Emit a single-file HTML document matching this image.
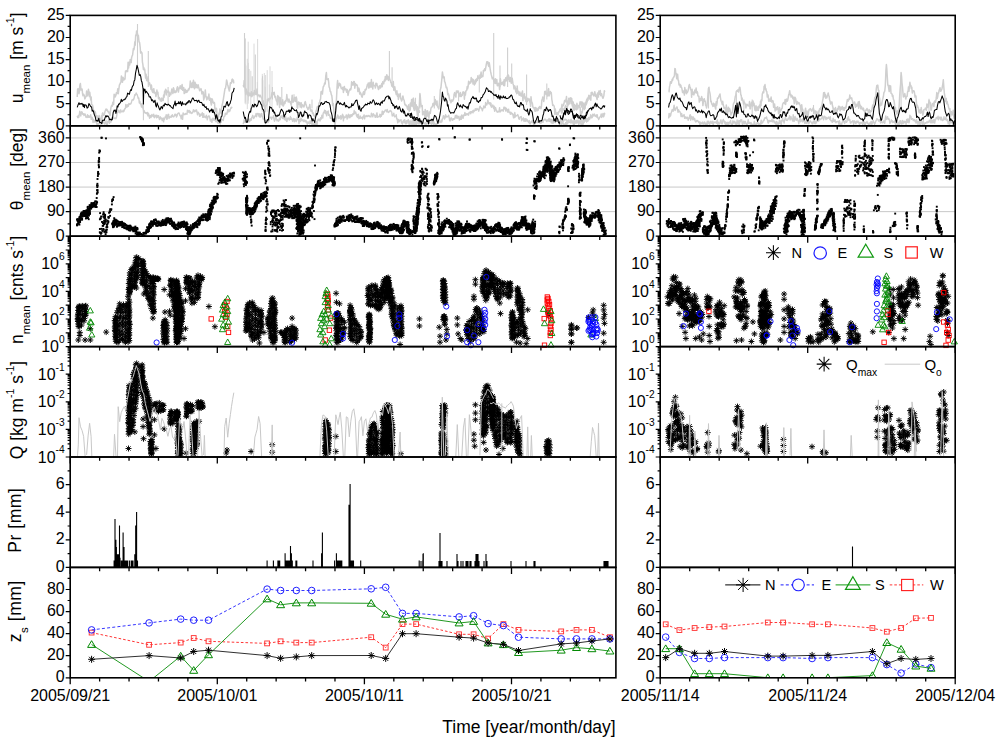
<!DOCTYPE html><html><head><meta charset="utf-8"><style>html,body{margin:0;padding:0;background:#fff;}svg{display:block;}</style></head><body><svg width="1000" height="743" viewBox="0 0 1000 743" style="font-family:'Liberation Sans', sans-serif;">
<rect width="1000" height="743" fill="#fff"/>
<defs><marker id="mA" markerUnits="userSpaceOnUse" markerWidth="10" markerHeight="10" refX="5" refY="5" overflow="visible"><path d="M2 5H8M5 2V8M2.9 2.9L7.1 7.1M2.9 7.1L7.1 2.9" stroke="#000" stroke-width="0.95" fill="none"/></marker><marker id="mS" markerUnits="userSpaceOnUse" markerWidth="10" markerHeight="10" refX="5" refY="5" overflow="visible"><rect x="2.8" y="2.8" width="4.4" height="4.4" stroke="#f00" stroke-width="0.9" fill="none"/></marker><marker id="mT" markerUnits="userSpaceOnUse" markerWidth="10" markerHeight="10" refX="5" refY="5" overflow="visible"><path d="M5 1.8L8.1 7.3H1.9Z" stroke="#080" stroke-width="0.9" fill="none"/></marker><marker id="mC" markerUnits="userSpaceOnUse" markerWidth="10" markerHeight="10" refX="5" refY="5" overflow="visible"><circle cx="5" cy="5" r="2.6" stroke="#00f" stroke-width="0.9" fill="none"/></marker><marker id="mA6" markerUnits="userSpaceOnUse" markerWidth="10" markerHeight="10" refX="5" refY="5" overflow="visible"><path d="M1.5 5H8.5M5 1.5V8.5M2.5 2.5L7.5 7.5M2.5 7.5L7.5 2.5" stroke="#000" stroke-width="1" fill="none"/></marker><marker id="mC6" markerUnits="userSpaceOnUse" markerWidth="10" markerHeight="10" refX="5" refY="5" overflow="visible"><circle cx="5" cy="5" r="3.3" stroke="#2020ff" stroke-width="1" fill="none"/></marker><marker id="mT6" markerUnits="userSpaceOnUse" markerWidth="10" markerHeight="10" refX="5" refY="5" overflow="visible"><path d="M5 1.2L9 7.9H1Z" stroke="#080" stroke-width="1" fill="none"/></marker><marker id="mS6" markerUnits="userSpaceOnUse" markerWidth="10" markerHeight="10" refX="5" refY="5" overflow="visible"><rect x="2.6" y="2.6" width="4.8" height="4.8" stroke="#ff3535" stroke-width="0.95" fill="none"/></marker><marker id="mD" markerUnits="userSpaceOnUse" markerWidth="4" markerHeight="4" refX="2" refY="2" overflow="visible"><rect x="1.05" y="1.05" width="1.9" height="1.9" fill="#000"/></marker></defs>
<line x1="70.20" y1="211.64" x2="615.90" y2="211.64" stroke="#c8c8c8" stroke-width="1"/>
<line x1="70.20" y1="187.07" x2="615.90" y2="187.07" stroke="#c8c8c8" stroke-width="1"/>
<line x1="70.20" y1="162.51" x2="615.90" y2="162.51" stroke="#c8c8c8" stroke-width="1"/>
<line x1="70.20" y1="137.95" x2="615.90" y2="137.95" stroke="#c8c8c8" stroke-width="1"/>
<line x1="660.20" y1="211.64" x2="955.20" y2="211.64" stroke="#c8c8c8" stroke-width="1"/>
<line x1="660.20" y1="187.07" x2="955.20" y2="187.07" stroke="#c8c8c8" stroke-width="1"/>
<line x1="660.20" y1="162.51" x2="955.20" y2="162.51" stroke="#c8c8c8" stroke-width="1"/>
<line x1="660.20" y1="137.95" x2="955.20" y2="137.95" stroke="#c8c8c8" stroke-width="1"/>
<path d="M254.0 43.6V107.8M245.9 65.5V104.4M245.4 63.9V100.4M257.6 39.0V101.1M257.3 82.1V101.5M250.8 70.8V111.4M262.3 73.9V111.7M245.0 83.9V103.5M248.2 41.7V103.7M270.0 66.3V107.0M264.3 73.0V106.6M245.5 38.4V102.5M265.6 75.0V103.8M262.5 75.9V103.6M269.3 84.5V102.9M262.2 78.4V110.5M267.2 70.1V111.8M247.3 58.8V109.1M248.4 62.9V100.5M265.2 86.8V106.9M272.0 71.0V108.3M262.8 80.3V105.5" stroke="#d6d6d6" stroke-width="0.9" fill="none"/>
<path d="M77.2 97.0l.4-7.7 .5-.7 .5 2.9 .4 2.2 .4-2.3 .5-6.5 .5-1.4 .6 6.6 .5-.8 .6-.3 .5 5.1 .4 1.6 .5-1.4 .4 .5 .5 1 .4 3.2 .5-1.1 .5-1.1 .4-.6 .4-5.2 .5 4.9 .5-.5 .4-1.5 .4-4.7 .5 3 .5 4.4 .4-4.3 .4 3.6 .5 4 .5-2.8 .4 7.4 .5 .4 .4 0 .5 2.6 .4 2.6 .5 .3 .5 3.3 .5-2.3 .6 1.3 .5 4.4 .5-.4 .5-1 .5 3.9 .5 2 .5-3.7 .6-2.3 .5 2.5 .5 .6 .5 0 .4 2.7 .5-5.6 .5 3.4 .4-5.8 .4-.6 .5 2.3 .5 .4 .6-1.4 .5-2.3 .6-1.6 .5-1.2 .5 1.4 .5-1 .5 1.3 .6 1.3 .5-.6 .5 2 .5 .3 .4 1.7 .5-4.5 .5-3.5 .4-1.5 .4-.6 .5 .8 .5-3.8 .4-.1 .4 2.2 .5-10.2 .5 .6 .4 2.2 .4-.4 .5-1.3 .5-2.6 .4 1 .5-1.8 .5-3.1 .5 4.9 .6-4.9 .5-3.8 .5-.7 .5-1.4 .5-.5 .5-6.5 .5 3.2 .6 3.1 .5-4.9 .5 1 .5 1.7 .5-1.1 .5 .1 .5-8 .6 .6 .5-1 .5 .9 .5 .1 .5-9.3 .5 5.7 .5-5.8 .6 2.7 .5-5.4 .5 1.7 .5 1.4 .4-4.8 .5-1.9 .5-.9 .4-3.4 .4-3 .5 1.2 .5-2.8 .4-5.2 .4 3.4 .5-10.2 .5 .6 .4-4.7 .6 1.7 .6 2.6 .6 .3 .6 6.2 .6 .8 .6 4.8 .4 5.8 .5-1.4 .5 .8 .4 .3 .4 9 .5 2.9 .5 4.6 .4-1.8 .4 2.6 .5-.9 .5 5.1 .4 3.8 .5-3.8 .5 5.9 .5 .7 .6-1.3 .5-3.1 .5 8 .5-.9 .4-.8 .5 2.6 .5 1 .4 3.1 .4-4.4 .5 4.6 .5 2 .4 .8 .5-2.8 .5-1 .5 4.4 .6-.7 .5 .6 .5 3.6 .5-2.5 .5-4.1 .5 4.1 .5-1.9 .6 6.2 .5 .5 .5-1.3 .5 1.8 .4 1.5 .5-1.8 .5 2.1 .4-3.1 .4 1.6 .5 .8 .5 0 .4-5.4 .5 2.2 .5-6.1 .5 .3 .6-2.3 .5 5.8 .5-4.5 .5 1.5 .4-.1 .5 .4 .5-1.2 .4 1.6 .4 3.6 .5-3.2 .5 .6 .4 1.1 .5-2.7 .5-3 .5 .9 .6 3.5 .5-5.7 .5 1.3 .5 3.4 .5 .1 .5-1.7 .5 1.5 .6-1.2 .5-3.1 .5-1.3 .5 1.8 .4 3.5 .5-2.9 .5-1.4 .4-.1 .4-1.9 .5 2.7 .5-2.2 .4 2.9 .5-4.7 .5 5.8 .5-.6 .6-2.2 .5 6.1 .5-.6 .5-3.7 .4 1.4 .5 1.9 .5-2.1 .4 1.7 .4-.6 .5-1.1 .5-1.6 .4 1.1 .5-1.6 .5-1.2 .5-6.1 .6 5.1 .5 1.3 .5-3.8 .5-1.3 .5 5.1 .5-7.3 .5 3.7 .6 4.9 .5-6.6 .5 2.5 .5 3 .5-3.1 .5 1.6 .5 1.7 .6-3.1 .5 2 .5 1.8 .5 2.1 .4-1 .5 .1 .5-1.2 .4 1.8 .5 3.5 .4-.6 .5-1.6 .4 .4 .5 7.8 .5-1.9 .5-1.1 .6-7 .5 6.1 .5 .9 .5 2.9 .5-1.8 .5-.9 .5 1.6 .6-4.7 .5 6.2 .5-.2 .5-1.8 .5 4.6 .5 2.2 .5-6.3 .6 1.1 .5 2.7 .5 .6 .5-.7 .5 .4 .5 8.3 .5 .4 .6-3.3 .5 .8 .5 8.2 .5 1.2 .4 1.3 .5-2.4 .5-4.4 .4 1.4 .4-5.4 .5 1.9 .5 1.4 .4 1.1 .5-6.1 .6-2.7 .5-2.2 .6-3.5 .5-3.1 .5-3.3 .6-3.8 .5-.3 .6-3.8 .5-4.6 .4 1.6 .5 2.9 .5 1.4 .4 2.1 .4 1.2 .5 1.9 .5-3.2 .6-5 .5 .7 .6-.6 .5-3.6 .4-.2 .5 2.5 .5-1.5 .4 3.3" fill="none" stroke="#cfcfcf" stroke-width="1.5" stroke-linejoin="round" />
<path d="M77.2 115.7l.5 1.8 .5-1.7 .5 1.7 .6-3 .5-3.3 .5 1.3 .5 3.5 .4-2.4 .5-1.9 .5 .5 .4 1.9 .4 .2 .5-.6 .5 1.8 .4-1 .5-.7 .5 1.2 .5 2.2 .6-.2 .5 .5 .5-2.7 .5 1.5 .4 1.1 .5-1.6 .5 1.5 .4-.7 .4 .1 .5-1.9 .5 4.6 .4-.6 .5-1.6 .4 .8 .5 4.5 .4-3 .5 1.7 .5 .9 .5-.9 .6-1.4 .5 2.2 .5 1 .5 1.8 .4-.4 .5-1.2 .5 1.1 .4-.3 .4-.5 .5-.3 .5-.5 .4 1.3 .4-2.4 .5 .3 .5 .9 .4-2 .4 1.2 .5-2.1 .5 1.6 .4 2.1 .4 .3 .5-.8 .5-.4 .4-1.9 .4 4.4 .5-1.4 .5 .5 .4-2.9 .4 .4 .5-2.5 .5 3.4 .4 .6 .4-4.2 .5 1.9 .5 1.2 .4-3.5 .5-1.1 .5 .5 .5 .3 .6-1.5 .5 1.4 .5 .1 .5 .2 .5-.6 .5 .5 .5-1.1 .6-4.5 .5-.2 .5-1.4 .5-1 .4 1.5 .5 .3 .5 .8 .4-2.9 .4 0 .5 1.8 .5 .1 .4-.2 .4-.1 .5-1.5 .5 1.6 .4-.6 .4-1.2 .5-1.4 .5 .1 .4-4.1 .5 1.5 .5 1.3 .5-2.5 .6 1.7 .5-.3 .5-2.7 .5 .8 .5-.6 .5 .4 .5-.4 .6-1.7 .5-2.1 .5 .1 .5-.6 .4 .6 .5-1.2 .5-2.2 .4-1.9 .4 .6 .5-1 .5-1.3 .4 .8 .5 .7 .6 1.9 .5 1.8 .6-.2 .5 5 .5-1.9 .6 3 .5 .2 .6 2.8 .5-3.6 .4 2.3 .5 2.3 .5 1.4 .4 3.3 .4-2 .5 1.7 .5-.1 .4 .8 .4 0 .5-.5 .5 1.4 .4-1.6 .5 3.3 .5-2.6 .5 1.7 .6 3.3 .5-2.8 .5 .2 .5 1.9 .4-1.5 .5-1.6 .5 1.3 .4 .5 .4 .2 .5-2.2 .5 3.3 .4 .2 .5-2.1 .5 .3 .5-.8 .5 2.8 .5-2.5 .4 1.9 .5-1.3 .5-.3 .5 2.3 .5 1.5 .5-1.6 .4-1.1 .5 2.1 .5-.9 .4 .5 .4 2 .5-.2 .5-2.4 .4 3.9 .5-3.1 .5 .5 .5-2.2 .6 .3 .5-2.7 .5 4.6 .5-.1 .4-3.7 .5-.9 .5-.2 .4 4.2 .4-1.7 .5 .4 .5-.2 .4 .3 .5-1.6 .5 1.2 .5-2.2 .6 1.4 .5 .6 .5 .1 .5-1.2 .5-1.4 .5 1.1 .5-1 .6 2.7 .5-1 .5-1.7 .5-1 .4-.2 .5-.2 .5 1 .4 1.3 .4 .7 .5 .4 .5 2.5 .4-3.6 .5 .3 .5 3.9 .5-6.5 .6 .8 .5 .9 .5-.1 .5 .1 .4-1.1 .5 .6 .5-.6 .4 .8 .4-4.1 .5 .7 .5 1.3 .4-1.6 .5-.2 .5 2.5 .5-1.6 .6 1.7 .5 .4 .5-.6 .5 .2 .5-1.1 .5-2.3 .5 1.5 .6 .7 .5-1.6 .5 .2 .5 1.1 .5-1.7 .5 2.4 .5 2.6 .6-2.7 .5 1 .5 .2 .5 3 .4-1.3 .5 .9 .5-2 .4 .9 .5 .3 .4-2.4 .5 4.6 .4 .1 .5-3.7 .5 3.4 .5-.6 .6 1 .5 .2 .5-2.5 .5 1.8 .5 2.8 .5-2.5 .5-.9 .6-.5 .5 .2 .5 2.4 .5 2.5 .5-1.4 .5-.3 .5 3 .6-3.5 .5-.7 .5 1.8 .5 .4 .5-1.8 .5 0 .5 2.6 .6 .7 .5-1.7 .5 1.8 .5 .2 .4 1.2 .5-.8 .5-.3 .4-.6 .4 1.8 .5 .5 .5-2.7 .4 1.2 .5-2.9 .5 .1 .5 .4 .6 .5 .5-3.4 .5-.7 .5-.3 .5-3 .5 1.4 .5-1.3 .6 .9 .5-2.5 .5-2.1 .5 2.3 .5 0 .5-1.9 .5 1.2 .6-2.2 .5-1.5 .5 .7 .5-1.3" fill="none" stroke="#cfcfcf" stroke-width="1.4" stroke-linejoin="round" />
<path d="M137.5 24.0V69.0M148.3 51.0V87.0M168.1 87.0V105.0M143.4 90.6V120.3" stroke="#cfcfcf" stroke-width="1.1" fill="none"/>
<path d="M77.2 107.4l.9-2.6 .9-2.1 .7 1.7 .7-.8 .8 .6 .7-1 .7 1.1 .6 2.2 .6-2.3 .6 3.4 .6-2.8 .6 .1 .6 .3 .9 3 .9-.8 .9-3.8 .9 1.3 .9 1.6 .9 .5 .6 4.3 .6-1 .6 .9 .9 3.4 .9 2.1 .9 4.3 .9-.7 .9 1 .9-3.1 .9 4.4 .9-.2 .6 .5 .6 .9 .6-3.5 .9-.1 .9 .3 .9-2.9 .9-2.1 .6 1.4 .6-.6 .6-.4 .9 1.1 .9 2.7 .7 0 .7-.6 .6 1 .7-.6 .9-7 .9-2.4 .6 .8 .6-.9 .6 3.4 .7-2.6 .6-4.9 .7 1.1 .7-2.9 .7 .1 .7-1.2 .6-1.1 .7-2.6 .7 2.3 .6-.9 .7-1 .7 .3 .7-.9 .7 0 .8-1.9 .7-.6 .7-3.5 .6 .3 .6 .7 .6 .2 .7-3.2 .7-1.5 .6 .8 .7-3.2 .7-1.4 .6-.7 .7-4 .7-1.2 .7-6.5 .7-3.6 .8-4.5 .7 2 .7 3.2 .9 4.9 .9-.8 .6 2.1 .6 4.2 .6 1.2 1.1 7 .3 14.9 .4-15.3 .6 2 .6-1.4 .6 3.6 .7-1.7 .7 1.1 .8 1.1 .7 1 .7 2.5 .6 .1 .6-.2 .6 1.6 .6 2.3 .6-1 .6 .6 .7 1.9 .7-.2 .8-1.7 .7 5.1 .7 1.6 .7-4.2 .7 2.1 .8 1.9 .7 2.1 .7 1 .6-1.6 .6-1.7 .6 .8 .6 1.3 .6-2.7 .6-.9 .7 .8 .7-2.6 .8 1.2 .7-.1 .7 .9 .6-.8 .6-.3 .6 .7 .6 .9 .6-.3 .6 1 .7 .9 .7 .5 .8 .7 .7-3.4 .7-.8 .7-3.3 .7 4.7 .8-2.4 .7 0 .7 .4 .6-2.1 .6 1.9 .6 .1 .6-2.3 .6 2.2 .6 2 .7-3.7 .7 2.3 .8-.2 .7 .1 .7-.1 .6 .9 .6-2 .6 .7 .6-1.8 .6 .8 .6-2 .7 .1 .7 2.2 .8-1.3 .7-1.5 .7-2 .7 0 .7 1.3 .8 1.4 .7-.3 .7 .1 .7-.4 .7 2 .8-1.5 .7-.4 .7 2.1 .6 0 .6-.1 .6 .1 .6 .8 .6 1.9 .6 .6 .7-1.4 .7 2.3 .8 .8 .7-.8 .7 2.7 .7-.5 .7 0 .8 1.8 .7 1.5 .7-2 .7 .6 .7-1.8 .6 3.6 .7-2.8 .7 3 .6-.4 .7 2.9 .7 3.9 .7-4.4 .7 2.5 .6 2.9 .7 1.1 .7-1.6 .6 2.9 .7-2.4 .7-3.5 .7-.5 .7-5.6 .6 .1 .7-4.3 .7-.1 .6 .9 .7-1.7 .7-3 .7-.8 .7 3.7 .6 .7 .7-1.7 .7-.6 .6-2.3 .7-2 .7-6.1 .7-1.2 .7-.7 .8-3.5" fill="none" stroke="#000" stroke-width="1.05" stroke-linejoin="round" />
<path d="M243.2 85.0l.5 1.7 .5-6.1 .5 5.8 .5 2.5 .5 5.8 .5-5.8 .5 1.5 .5 1.9 .4 2.5 .5-2.2 .5 3.5 .4-3.3 .4 2.2 .5-1 .5 1.7 .4-1.2 .5-2.7 .5 5 .5-1.4 .6-2.5 .5 .8 .5 1.4 .5-4.5 .5 1.5 .5 1.9 .5 .5 .6-1.6 .5-3.9 .5 6.9 .5-.7 .4-.1 .5-.1 .5 1.7 .4-.7 .4-.8 .5 1.1 .5 1 .4 .7 .5 .1 .5 5 .5-2.3 .6 5 .5-1.8 .5 3.8 .5 3.9 .4-3.3 .5-3.5 .5 .2 .4-.7 .4-5.2 .5 .8 .5 .8 .4-2.2 .5 0 .5 .5 .5-.7 .6-.7 .5-1.6 .5-3.1 .5-.7 .4 .4 .5 .7 .5 1.2 .4-2.4 .4 3.4 .5 2 .5-1.1 .4 2.7 .4 1.7 .5-1 .5 4.9 .4-9.3 .4 4 .5-2.7 .5 5.9 .4 4.7 .5-10 .5 4.6 .5 2 .6-1 .5 2.1 .5-5.3 .5 6.3 .4-.8 .5-1.5 .5-2.1 .4 1.8 .4-2.8 .5 .6 .5-2.1 .4-4.6 .5 4.4 .5 1.4 .5 1.7 .6-3.1 .5 1.6 .5 1.8 .5-.5 .4 1.8 .5 1.5 .5-6.4 .4-3.6 .4 5.2 .5 1.8 .5-1.4 .4-.8 .4-2.5 .5-.1 .5 4.1 .4-2.7 .4-1.8 .5 2 .5 8.5 .4 .6 .5-5.4 .5-.7 .5 2.2 .6-1.6 .5 4.5 .5-2.1 .5-2.3 .4 5 .5-3.1 .5 1.4 .4-.1 .4-.5 .5 1.6 .5-1.8 .4-2.6 .5-1 .5 2.1 .5 1.7 .6 2.1 .5 .6 .5 1.5 .5-.6 .4-1.8 .5 .1 .5-2.9 .4 4 .4 2.2 .5 .6 .5-1.1 .4-.1 .5 3.5 .6-.6 .5 2.4 .6 .9 .5 .3 .5 .8 .6-5.2 .5-1.5 .6-2.5 .5-1.5 .4 3.3 .5-.6 .5-5.4 .4-1.2 .4-.3 .5-2.4 .5-1.1 .4-7 .4-.6 .5 1.4 .5 1.4 .4-3.7 .4-3.6 .5-.4 .5-1.7 .4-1.6 .6 .8 .6-8 .6-3.4 .4 6.6 .5 .4 .5-.3 .4-.5 .5 3.6 .4 4.7 .5 .8 .6 3.7 .5 .1 .6 3.1 .5 1 .5 4.5 .4 5.4 .5-2.2 .5 5.4 .4 4.4 .5 1.7 .4 3.7 .6-6.6 .5-6 .6-11.5 .5-10.1 .4-3.8 .5 7.4 .5-2.5 .4-.3 .4-2 .5 2.4 .5-1.5 .4 2.7 .5 1.7 .5-.3 .5 1 .6-1.9 .5 5.1 .5-3.3 .5-2.6 .4 3.3 .5-.6 .5-.4 .4 1.6 .4 1.8 .5-2.8 .5 2.1 .4 3.9 .4-1.7 .5-2.7 .5-.4 .4-1.1 .4-.6 .5 1 .5-2.2 .4-5.9 .5 3.3 .6-2.3 .5 2.1 .6-3.4 .5 .2 .5 6.5 .6-4.6 .5 .7 .6 1 .5-.4 .4 1.2 .5 5.5 .5-1 .4-2.5 .4 .9 .5 5.1 .5-1.9 .4 1 .5 1 .5 2 .5 1.1 .6-2.2 .5-2.7 .5-.8 .5 3 .4-.7 .5-4.3 .5 .6 .4-.6 .4-1 .5-1.8 .5-2.4 .4 1 .5-2.5 .5 5.2 .5-1.2 .6-4.4 .5 4.6 .5-.8 .5-6.7 .4 7.5 .5-1 .5 2.8 .4-6.6 .4 3.1 .5 .4 .5-.2 .4 .1 .4 2.3 .5-4.8 .5 .2 .4 .1 .4 2.2 .5 .6 .5 2.6 .4 .6 .4-1.2 .5-2.3 .5-.4 .4 2.4 .4-.6 .5-2.1 .5-1.8 .4 3.2 .5-4.9 .5 1.3 .5 .7 .6-3.7 .5 1.2 .5-4.7 .5 3.3 .5-1.2 .5-4 .5 4.3 .6-2.8 .5 4.3 .5-3.6 .5 .6 .4 2.4 .5 .2 .5 2.4 .4-.2 .5 3.4 .5 0 .5 1.3 .6-5.4 .5 8.6 .5-.3 .5-3.1 .5 3.9 .5 1.9 .5 2 .6-3.9 .5 5.5 .5-2.4 .5 5.6 .4-4.3 .5 1.5 .5-1.6 .4-1.5 .4 5 .5 .7 .5 1.8 .4-.8 .4-2.4 .5-1.9 .5 2.6 .4 1.1 .4 .7 .5 3.9 .5 .8 .4-.5 .4 1.3 .5-.2 .5 1.2 .4 1.7 .4 1.1 .5-3 .5-1.9 .4 6.5 .5-2.5 .5 1.4 .5-6.2 .6 1.4 .5 .6 .5-3.5 .5 1 .5 3.5 .5 1.7 .5 1.8 .6-4.6 .5-1.5 .5 4.4 .5 2 .4-.9 .5-3 .5 4.4 .4 1.1 .4 0 .5-1.8 .5 1.8 .4-.1" fill="none" stroke="#cfcfcf" stroke-width="1.5" stroke-linejoin="round" />
<path d="M243.2 124.2l.5-2.2 .5-2.5 .5 2.5 .4 .4 .5-1 .5 .9 .4-2.3 .5 .1 .5-.6 .5 .9 .4 1.4 .5-2.9 .5 2.8 .5-.7 .4-1.5 .5-.8 .5 1.5 .5-2.8 .4-.5 .5-1.6 .5 1.9 .5 1.4 .5-1.2 .4-.4 .5-1.2 .5 .2 .5-2.5 .5 3.2 .4-1.9 .5-1.4 .5 .1 .4 .1 .5 2.6 .5 .8 .4-3.4 .4 3 .5 .5 .5-2 .4-1.6 .5 1.9 .5 1.3 .5 2.5 .6 .2 .5-1.5 .5 4 .5-1.2 .4 2.9 .5-3 .5 0 .4-.6 .4 .1 .5 2.4 .5-.6 .4-.8 .4-.8 .5-3.2 .5 .7 .4-.3 .5-.5 .5 2.2 .5-1.5 .5-.1 .5-.4 .4-1.5 .5 3.8 .5 1.7 .5-1.4 .5-1.8 .5-2.8 .5 3.7 .5 2 .4-1.2 .5 .7 .5 .8 .5-.5 .5-2.5 .4 1.7 .5-.2 .5-3.6 .5 1.1 .5-1.5 .4 1.6 .5 1.2 .5-2.4 .5-1.7 .5 4.8 .4-.6 .5 1.5 .5-3.8 .5 3 .5 2 .4 .2 .5-3.2 .5 .3 .5-.5 .5 1.7 .4 .3 .5-1.3 .5-2.3 .4 2.9 .5-1.4 .5 1.5 .4-.3 .4 2.1 .5-.4 .5-2.4 .4 .9 .4 2.3 .5-3 .5 1 .4 1.3 .4 .4 .5-1 .5-2.9 .4-.2 .5 2.3 .5 .6 .4 3.4 .5-4.4 .5 2.4 .5-.1 .5-3.5 .4 .8 .5 1.7 .5-.6 .5 .5 .5 1.1 .4-1.6 .5 1.7 .5-1.3 .5 .1 .5 1.7 .4-1.3 .5 1.2 .5 2.2 .5-1.9 .5-.4 .4 1.3 .5-1.3 .5 2 .5-3.1 .5 2.5 .4-1.2 .5-.5 .5 3.6 .5-3.1 .6 3.1 .5-.9 .6 .9 .5-3.3 .5 2.4 .4 .4 .4-2.6 .5-.7 .5 3.4 .4-3.2 .4-1.6 .5-.9 .5 1.2 .4-.3 .4-.8 .5 1.8 .5-3.3 .4 .3 .4 1 .5-3.9 .5 2 .4 1 .4-5 .5-.8 .5-.5 .4-1.7 .5 3.3 .5-2.8 .5 3.2 .6 2 .5-4.1 .5 1.4 .5-2.1 .4 4.4 .5-1 .5 1.1 .4 1.2 .4 1.5 .5-.5 .5 1 .4-.1 .5 1.6 .6-1.1 .5 2.3 .6-2 .5 2.4 .5 2.8 .6-3.2 .5-3.4 .6 .8 .5-2.6 .5-1.3 .5 1.2 .4 2.4 .5-.2 .5-.7 .5-1.4 .5-.4 .4 3.5 .5-1.1 .5-1.9 .5-2 .5 .8 .4 5.8 .5-4.5 .5 .9 .4 .5 .5-.6 .5-.4 .4-1.8 .4 .2 .5 3.9 .5-3.1 .4 1.8 .4-3.6 .5 1.5 .5 .9 .4 1.2 .4-3.1 .5 2 .5-.1 .4-1.8 .5 1.3 .5-2.1 .5-.3 .6 .8 .5-4 .5 3 .5-1.1 .4-.5 .5 1.8 .5 2.3 .4-1.1 .4 2.6 .5-2.9 .5-.4 .4 4.5 .5-1.1 .5 .8 .4-2.5 .5 2.1 .5-.5 .5 .6 .5-.8 .4 1.7 .5-2.4 .5-.8 .5-.9 .5 3.9 .4-2.2 .5-.7 .5 .1 .4 .6 .5-1.2 .5 1.1 .4-.4 .4 0 .5-.7 .5 1.2 .4-.6 .4 .7 .5 .2 .5 0 .4-3.8 .4 1.8 .5-.2 .5 2.2 .4-3.3 .5 .8 .5 .8 .4 0 .5 2 .5-1.8 .5 1.8 .5-3.4 .4-1 .5 4.4 .5-.5 .5 0 .5-.6 .4 .5 .5-2.5 .5 2.9 .4-2.3 .5 1.6 .5-1.5 .4-3.7 .4 .1 .5 3.2 .5-1.8 .4-1 .4 .4 .5-1.3 .5-.7 .4 .4 .4-.2 .5 1.6 .5-2.3 .4 1.9 .4 .8 .5 .3 .5-.5 .4-1.1 .4 .2 .5 0 .5-.5 .4 1.3 .5 .1 .5 4 .5-.4 .6-.8 .5-1.7 .5 3.2 .5 .6 .5-.8 .5 0 .4-1.4 .5 4.2 .5-.2 .5 4.2 .5-3.1 .4-.4 .5 2.5 .5-1.4 .5 .1 .5-.6 .4-.3 .5 3.3 .5 0 .4 1.1 .5-2.9 .5 .2 .4-1.3 .4 2.6 .5-3.1 .5 2.5 .4 1.2 .4 .7 .5-3.4 .5 2.6 .4-2.3 .4-.4 .5-.8 .5 3.6 .4 1.3 .4-3.1 .5-.7 .5 .6 .4 3.8 .4-1 .5-2.5 .5-2.2 .4 1.4 .4 3 .5 1.3 .5-2.7 .4-1.1 .4 .2 .5-2 .5 3.9 .4-2.3 .4 2.8 .5-3.6 .5 .1 .4 2.4 .4-1.2 .5 2.2 .5-.8 .4-.1" fill="none" stroke="#cfcfcf" stroke-width="1.4" stroke-linejoin="round" />
<path d="M244.5 33.0V87.0M249.0 69.0V96.0M252.2 76.2V96.0M255.3 54.6V94.2M262.5 76.2V101.4M272.4 87.0V99.6M281.8 87.0V103.2M294.0 94.2V101.4M312.0 99.6V108.6M389.4 51.0V79.8M392.1 67.2V87.0M415.5 97.8V108.6M412.8 99.6V106.8" stroke="#cfcfcf" stroke-width="1.1" fill="none"/>
<path d="M243.2 111.5l.8 4.1 .7 2.9 .7-1.3 .9 4.9 .9 .3 .7-2.1 .7-5.7 .6-1.7 .7-1.6 .7 .9 .6-3.9 .7-1.1 .7-2.7 .7 1.5 .7 .9 .6-2.8 .7 .3 .7 1 .7 1.3 .8-1.4 .7-2.2 .7-2.4 .7 .6 .6 .9 .7 1.9 .7 .8 .9 4.1 .9 .6 .6 2.1 .6 7 .6 4.3 .6-.2 .6-.6 .6-1 .7-1.7 .7 .5 .7-6.9 .6-6.5 .6 1.1 .6-.1 .6 .1 .6 1.4 .6 2.3 .6-1.5 .7 3 .6-.8 .7 3 .7 1.1 .7-.4 .7 .5 .6-1.4 .7 .7 .7-.8 .6-1.9 .7-2.2 .7-1.5 .7 .8 .7 1.2 .6 1 .7 4.8 .7-2.1 .7-.6 .6-2.5 .7-.7 .7 0 .7 .4 .8-1.8 .7 2.8 .7-2.3 .7 1.1 .7-4.5 .6 1.4 .7 .5 .7 .6 .7 1.1 .6 .2 .7 .2 .7-1 .7 2.5 .6-.1 .7 5.2 .6-1 .6-2 .6-2.4 .7 .2 .6 3.5 .7 1 .7-1.9 .6 1.2 .6-3.5 .6-1.5 .6 1.4 .6 0 .6 .4 .7 1.3 .7 4.3 .8-3.5 .7 0 .7 .4 .7 .8 .6 2.3 .7 2.6 .7-2.4 .6 1.7 .6 .5 .6 1.7 .6-3.8 .6-2.5 .6-2.6 .6 1.1 .6-1.8 .6-2.4 .7-4.6 .6 .4 .7-1.4 .7-2.2 .7-.1 .7 1.9 .6 0 .7-1.1 .7 .1 .6-1.8 .7 .1 .7-.4 .7 1.2 .7-.2 .6 .2 .7 .4 .9 2 .9 6.3 .6 1.8 .6 2.5 .6 5.4 .6 .7 .6-2.9 .6 3 .6-5.9 .6-5 .6-6.9 .7-.3 .6-2.4 .7 0 .7 1.8 .7 1.2 .7-1.4 .6 .8 .7 .5 .7 .4 .6 .4 .7-.9 .7-1.7 .7 3.1 .7 1.5 .6-1.6 .7 1.1 .7 .2 .7 .8 .6 .5 .7-1 .7 .1 .7-.1 .6-3.4 .7 2 .6-.1 .6-1.2 .6-1 .7-1.1 .6-1.5 .7-.5 .7-.1 .6 3.5 .6 2.5 .6 3.4 .7-3.7 .7 4.4 .8 1.1 .7-3.1 .7-.2 .6-.5 .6-.6 .6-1.1 .6-.4 .6-1.3 .6 .8 .6-.3 .6 .2 .6-1.7 .6 .4 .6 0 .6 .5 .6-2.4 .6 .9 .6 .7 .6-.6 .6-1.8 .6-1 .7 .9 .7 2 .6 2.1 .7-1.1 .6-.9 .6 1.3 .6 .4 .6-1.2 .6 .1 .6 1.1 .7 .8 .6-2.6 .7-.8 .7 1.4 .7-2.6 .7 .4 .6-.2 .7-1.3 .7-2.3 .6 0 .7-1 .7 0 .7-.4 .7 3 .6-2.1 .7 2 .7 1.9 .6 2.8 .7-.3 .7 2.4 .6-.9 .6 1.7 .6 2.1 .6-2.1 .6 .8 .6-1.4 .7 2.2 .7 1.2 .6-1.1 .7-1.7 .7 2.1 .6 2.1 .7 1.1 .7 .4 .6-3.2 .6 .9 .6 3.4 .6-2.2 .6 2.8 .6 2.2 .6-.6 .6 .7 .6-1.5 .6-1.3 .6 1.4 .6 .7 .7 .6 .7 1.4 .8-.5 .7 .6 .7 .7 .7-.1 .7 2.7 .8-.8 .7-.4 .7-.3 .6-.6 .6 2.5 .6-.7 .6-1.7 .6 .2 .6 1.3" fill="none" stroke="#000" stroke-width="1.05" stroke-linejoin="round" />
<path d="M410.0 104.7l.5-1.8 .6 2.1 .5-5.4 .6 1.8 .5-1.4 .5-1.8 .6 3.3 .5 1.1 .6 2.4 .5-.8 .4 3.1 .5-2.2 .5 2.4 .4 6 .4 3 .5-.4 .6-7.6 .6-2.5 .6-12.4 .5 4.2 .4 5.9 .4 2.9 .5-1.2 .5 0 .4 9.3 .5-1.3 .5-2 .5 2.2 .6 2.6 .5-6.8 .5 7.5 .5 .8 .4-6.6 .5 4.8 .5-5.2 .4 5.2 .4-1.2 .5 3.5 .5-6.1 .4 0 .5 1.3 .5-4.3 .5-1.7 .6-.4 .5-.3 .5-3.1 .5 2.1 .4-.8 .5-2.3 .5 2.1 .4-5.3 .4 4.4 .5-2.3 .5 3.7 .4-4.2 .4 5.2 .5 1.1 .5 .6 .4 1 .5-4.6 .5-5.9 .5-8.5 .6-2.1 .5-4.6 .5-5 .5-6.3 .4 2.7 .5 3.2 .5-1 .4 .1 .4 4.8 .5 .6 .5 2.4 .6 3 .5-.6 .6 2.5 .5 5.2 .5-1.4 .6 2.2 .5 3 .6 1.9 .5 .4 .5 1.8 .6-2.8 .5 .9 .6 .3 .5-1.5 .4-.6 .5-4.8 .5-1.6 .4 .7 .4 1.9 .5 1.9 .5-6.2 .4 1.8 .5-1.8 .5 .2 .5 1.2 .6 2.5 .5-.4 .5 2.2 .5-4.1 .4 3.4 .5 .6 .5-1.8 .4 .6 .4-2.2 .5-1.4 .5 1.2 .4-.3 .4 6.7 .5-7 .5 2.8 .4-3.5 .4-1.1 .5 0 .5-4 .4 2.3 .5-2 .5-5.5 .5 2.7 .6-.8 .5-1.4 .5 1.1 .5-5.3 .4 2.4 .5 1.6 .5-2.6 .4 5 .4-4.3 .5 .5 .5 4.7 .4-2 .5 .7 .5-4.1 .5 2.2 .6-3.1 .5 1.8 .5-4.7 .5 2.8 .4-1 .5 .6 .5-.2 .4 .4 .4-3.1 .5-3.2 .5 5.2 .4-1.4 .4-.2 .5 .9 .5-6.1 .4 .8 .4-.5 .5-2 .5 1.8 .4-1.8 .6-3.9 .6-3 .6 1.4 .4-1.4 .5 3.5 .5 1.2 .4-3.8 .4 2.2 .5 3.7 .5 2.9 .6 2.9 .5 2 .6 2.4 .5-1.2 .5 .6 .5 3 .5-1.6 .6 3.7 .5-4.6 .5 4.9 .5-.4 .4-3.7 .5 6.3 .5-.2 .4-.2 .4-2.1 .5 1.4 .5 4.9 .4-3.9 .4-6.9 .5 4.3 .5-.5 .4 1.9 .4-.7 .5-1.6 .5-.5 .4 3.7 .5-5.6 .5 5.9 .5-5.2 .6-2.7 .5 3.1 .5-.7 .5-4.3 .5 3.8 .6-4.8 .5 1.6 .6 5 .5-1.9 .5-2.2 .4 4 .4 1.8 .5-1.3 .5-3.7 .4 3 .4 2.5 .5 1.5 .5 3.7 .4-3 .4 .1 .5 2 .5 4 .4-3.1 .5 4.8 .5-7.7 .5 7 .6-1.7 .5 2.7 .5 1.3 .5-3.4 .4 2 .5 1.2 .5 1.1 .4-2.9 .4-.4 .5-1.9 .4 9.6 .5-4.3 .5-.2 .5-2.4 .5 5.3 .5-2 .5 4.4 .4-.2 .5-1.4 .5 1.8 .5-3.4 .5 1.7 .5 .1 .4-1.1 .5 3 .5 .5 .4 3.9 .4-9.5 .5 4.8 .4 .6 .5 1.4 .4 3 .5 1.2 .5 .1 .4-.3 .4 2.8 .5 .9 .5-3.9 .4 3.6 .4-2.4 .5-.3 .5 2.4 .4-.2 .4-.3 .5-2.6 .5 .7 .4-1.8 .5 1.3 .4-.3 .5 1.1 .4-2 .4-6 .5-1.3 .5-2.4 .4 1.2 .5 3.4 .5-2.8 .5-7.3 .5 .4 .5-.6 .4 3.3 .5-1.2 .5-.1 .5 2.7 .5-5.8 .5-1.5 .5 7.3 .4-1.3 .5-1.4 .4-1.8 .4 1.9 .5-.5 .5 6.5 .4 2.1 .5 4 .5-.4 .5 .3 .6 1.5 .5 7.5 .5-5.4 .5 5 .4-.1 .5 1.1 .5-2.3 .4 1.5 .4 .7 .5-2.2 .4-1.2 .5 .2 .4-2 .5 .9 .5-.4 .4 .6 .4 2.2 .5-.1 .5-4.2 .4 1.2 .4-.6 .5 .7 .5-1.7 .4 .1 .4-1.8 .5-1.1 .5 3.2 .4 1.3 .5-2.1 .4-1.6 .5-1.3 .4-2.6 .4-4 .5 3.9 .5-1.1 .4-2.6 .5-.4 .5 5.5 .5-5.2 .6 7.6 .5-.7 .5 4.4 .5-5.4 .4 1 .5-.5 .5 1.7 .4-.1 .4-.8 .5 4.2 .4-3 .5 .5 .4 1.6 .5-2.7 .5-.7 .4 1 .4-2 .5-2.8 .5 1.5 .4-.6 .4 4.4 .5-5.2 .5 3.9 .4-3 .4 .6 .5 .4 .5 1.5 .4 1.7 .5 1.3 .4-5.8 .5 2.7 .4-1.1 .4-1.3 .5-4.4 .5 2.2 .4-2.7" fill="none" stroke="#cfcfcf" stroke-width="1.5" stroke-linejoin="round" />
<path d="M410.0 122.8l.4 .7 .5-.8 .5 1.2 .4 .9 .4 .1 .5-1.9 .5 1.5 .4 .7 .4-3.2 .5 3 .5-3.7 .4 2.3 .4 .4 .5 1.2 .5-1.4 .4-1.4 .4-.7 .5-.7 .5 2.8 .4-1 .4-.9 .5 1.7 .5-1.6 .4 .2 .4 0 .5 3 .5 0 .4-2.1 .4-2.4 .5 2.4 .5 0 .4 .4 .4 .4 .5-1.2 .5 1.6 .4 .1 .4-.9 .5-1 .5-.3 .4 1.7 .4-2.4 .5 1 .5-.7 .4-1 .4 2.8 .5-.6 .5 .1 .4 1.2 .4-3.3 .5 1.6 .5 .8 .4 .9 .4-2.7 .5 2.2 .5-.3 .4 1.6 .4-.1 .5-.9 .5 1.1 .4-1.7 .4-1.1 .5 0 .5-.9 .4 1.2 .5-3 .5 1.7 .5 .6 .6 .5 .5-2.4 .5 1.8 .5-3.2 .4 0 .5-3 .5 .8 .4-.3 .4 2.9 .5-1.3 .5-3 .4 1.6 .4 .5 .5-.6 .5 .5 .4-.1 .4-.1 .5-1.5 .5 2.5 .4 2.7 .5 .7 .5-2.3 .5-.9 .6 .7 .5 1.9 .5-.4 .5-1.3 .4 .8 .5-1 .5 .6 .4-1.5 .4-2.1 .5 1.6 .5 1 .4-2.8 .5 1.2 .5 1.7 .5-1.5 .6-.5 .5 3.9 .5-1 .5 .2 .4-3 .5 3 .5-4.4 .4 .7 .4 1.8 .5 .9 .5-3.3 .4-.3 .4 .9 .5-3.2 .5 2.9 .4 0 .4-1.7 .5 .9 .5 .2 .4-1 .5 .1 .5 1.4 .5-2.8 .6 .4 .5-1.1 .5 2 .5-1.9 .4 .6 .5-.8 .5-.6 .4 1.9 .4-2.7 .5 1.4 .5-1.1 .4 .2 .5-1.9 .5 1.4 .5 .1 .6-1.9 .5 1.1 .5-.3 .5 .2 .4 1.8 .5-2.7 .5-1.9 .4-.4 .4 1.7 .5-.2 .5 .9 .4 .8 .4 1.4 .5-2.3 .5-.5 .4-2.1 .4 1.1 .5 .9 .5-.2 .4-5.2 .6 2.2 .6 .3 .6-2.1 .4-3 .5 1.7 .5 1.9 .4 .4 .4-1.3 .5 .1 .5 3 .4-2.4 .4 3.9 .5-1 .5 .6 .4-1.8 .4 1.1 .5 2.4 .5-2.3 .4 5.1 .5-3.8 .5 .1 .5 2.3 .6 1.4 .5 1 .5-1 .5 .6 .4-.3 .5-.7 .5-3.2 .4 4.4 .4-.5 .5-.5 .5-1.3 .4 .8 .5-.4 .5-.4 .5 1.4 .6-4 .5 1.9 .5-1.8 .5 .6 .4 3.2 .5-2.8 .5 1.3 .4-.1 .4 2.6 .5-2 .5-.9 .4 3.3 .4-.5 .5 .1 .5 2.2 .4-2.2 .4 .5 .5 1.1 .5 .7 .4-1 .5 2.2 .4 2.2 .5-3.2 .4 3 .4-5.1 .5 4.5 .5-1.7 .4 .7 .5-.4 .5-.3 .5-.7 .6 1.4 .5 2.8 .5 .4 .5-1.8 .4-.4 .5-.1 .5-.5 .4 4.4 .4-.8 .5-.7 .4-.8 .5-.7 .5 3.4 .5-.1 .5-2.4 .5 2.6 .5-2.5 .4 2.3 .5-1.8 .5 .6 .5 1.6 .5 .2 .5 1 .4-2.3 .5 3.2 .5 .3 .4-1.8 .4 .6 .5-1.6 .5 .8 .4-1.4 .4 1.9 .5 .6 .5 1.8 .4-.2 .5-.4 .5-1.8 .5-.3 .5-.3 .5 .6 .4-3.1 .5 3.2 .5-2.9 .5 .9 .5 .7 .5-.7 .5 2.8 .5-2.1 .4 1.9 .5-.4 .5-2.5 .5 .8 .5 1.3 .4-2.2 .5 .1 .5-1 .5 .6 .5-.5 .4 .4 .5 1.3 .5 .6 .4-1.6 .5 0 .5 1 .4-1.4 .4-1.2 .5 3 .4-2.3 .5 2.4 .4-2.3 .5 3.8 .5-3.5 .4 2.3 .4 1.4 .5-3.2 .5 3 .4-2.7 .4-1.7 .5 3.4 .5 .6 .4-1.2 .4-3.4 .5 3.1 .5 .2 .4 0 .4 .2 .5-2 .5 1.5 .4 3.7 .4 .2 .5-2.6 .5-.8 .4 1.5 .4 1.3 .5-.2 .5-2.7 .4 1.6 .4 .2 .5 1.8 .5-.1 .4-1 .4 .8 .5-2.2 .5 2.3 .4-2.4 .4 .7 .5 .8 .5-2.5 .4-.1 .4-1.6 .5 2.5 .5 0 .4-.4 .4 1.1 .5-3.6 .5 2.4 .4 .5 .4-.5 .5 1.4 .5 1.5 .4-2.9 .4-1.2 .5 .3 .5 1 .4 .8 .4-2 .5 2.3 .5-2.6 .4 2.2 .4-.2 .5-.1 .5 2.4 .4-3.1 .4-.4 .5 .8 .5 .7 .4-3.1 .4 1.7 .5-1.3 .5 1.7 .4 1.2 .4-1.8 .5-.6 .5 .3 .4-4.6 .5 4.6 .4 .2 .5-.6 .4-1 .4-.7 .5 .6 .5 2 .4-1.8" fill="none" stroke="#cfcfcf" stroke-width="1.4" stroke-linejoin="round" />
<path d="M493.7 33.0V99.6M500.0 65.4V87.0M507.6 47.4V87.0M511.7 63.6V83.4M526.6 74.4V105.0M546.8 83.4V99.6M413.6 97.8V108.6M419.9 94.2V108.6M434.3 96.0V108.6M458.6 90.6V101.4M479.3 74.4V92.4" stroke="#cfcfcf" stroke-width="1.1" fill="none"/>
<path d="M410.0 113.0l.7 3.1 .7-3.1 .6 2.7 .7 2.7 .6 .2 .7-2 .6 .8 .7 2.8 .6-2.4 .7-.2 .6-.1 .6 .9 .6 2 .6 .8 .6-2.9 .6 3.8 .6-1.3 .6 .1 .6 3.4 .6-.8 .9-3.8 .9-1.6 .6 .3 .6-.1 .6 1.1 .6 2 .6 .2 .6-2 .6 4.4 .6-3.7 .6 0 .6-.2 .6 .6 .6-1.4 .7-.1 .7 1.6 .8-2.6 .7-2.8 .7 .5 .7 .7 .7 2 .6 2.6 .7 2.2 .7-3.3 .6-1.5 .7-3.6 .7-4.5 .9-7.6 .9-10.8 .6 4.2 .6 .5 .6 3.4 .7 .9 .7-3 .6 1.3 .7 1.5 .6 5.2 .6-1.4 .6 4.4 .7 2.2 .6 .7 .7 1.2 .7-.4 .6-.1 .6 .1 .6 0 .6 .2 .6-1.3 .6-1.3 .7-1.7 .7-.3 .6-3.9 .7-1.7 .7 1.9 .6 1 .7 1.3 .7-2 .7 1.6 .7 .3 .6 1.1 .7-3.5 .7 .8 .6 .9 .7 0 .7 .5 .7 1.4 .7-1.5 .8 2.6 .7-3.3 .8-3.2 .8 .3 .7-2.8 .6-1.8 .7-.6 .7-1.4 .7 2.1 .7-.4 .6 1 .7-1.1 .7 0 .6 3.3 .7-.2 .7 1.4 .7-1.1 .7-1 .6 .3 .7-3.2 .7 .2 .6-.7 .7-2.1 .7-.8 .7-1.2 .7-1.1 .6-2.1 .7-1.9 .7 .8 .6 .6 .7 2.3 .7-.3 .7-.4 .7 1.4 .6-.6 .7 1.3 .7 .4 .6 .7 .7 1.2 .7-.3 .7 .7 .7-1.2 .6 2.4 .7-.3 .7 1.9 .6-3.3 .7 1.9 .7 2.3 .7-3.4 .7 1.4 .6 .6 .7-.1 .7-1.9 .6 1.6 .7 .4 .7-1.3 .7 2 .7-.2 .6 .1 .7-.4 .7 0 .6-1.4 .7 .2 .7-1.7 .7-.1 .7 1.4 .6 2.8 .7 .1 .7 2 .6 1.7 .7 .6 .7-1.7 .7 2.7 .7 1.3 .6 .5 .7-.6 .6 1 .6-2.3 .6-2.1 .7 .5 .6 2.1 .7-.6 .7 .6 .7 4.2 .7 .7 .6 .2 .7 .8 .7 .2 .6-2.1 .7 3.9 .7 2 .7-1.8 .7-4.5 .6 2 .7 0 .7 1.5 .6 3.8 .7 4.5 .7 2.7 .7-.1 .7-2.3 .6-.8 .7-2 .7-1.7 .6 .4 .7 5.8 .7-1.7 .7 .3 .7-.5 .6 .3 .7-1.7 .7-3.7 .6-1.6 .7-4.2 .7-.3 .7 1.4 .7-3.8 .6 1.5 .7 1 .7 2 .6-1.7 .7 .5 .7-.8 .6 1.2 .6 2.7 .6 3.3 .9-.7 .9 5 .6-.7 .6-1.5 .6 2.9 .6-5.3 .6 1.4 .6 .7 .6 3.2 .6 .9 .6 1.1 .6-2.1 .6 .8 .6 1.1 .7-2.8 .7-2.2 .8-2.7 .7-2.3 .7-3.1 .6 3.5 .6-2.3 .6-3 .6 1.9 .6 0 .6 .1 .6 2.5 .6-1.5 .6-.5 .6-.5 .6 1 .6-.1 .7 1.7 .7 4.9 .6-1.5 .7-1.4 .7 2.3 .6-1.2 .7-.9 .7-.9 .6 .8 .6 .6 .6 1.7 .6 .5 .6 1.1 .6-1.5 .6-.4 .6-1.2 .6 1.6 .6 .1 .6-1.9 .6 .6 .6 2 .6-1.8 .6-4.2 .6-.6 .6 .1 .6-1.6" fill="none" stroke="#000" stroke-width="1.05" stroke-linejoin="round" />
<path d="M560.0 108.4l.5 .4 .5 1.3 .5-2.1 .5-3.7 .5 2.8 .5-1.7 .5-.2 .5-1.9 .5-2.5 .5-.5 .5 1.4 .5-1.7 .5-3.4 .5 7.9 .5-3.5 .5 .6 .5 2.9 .5-5.5 .5 4.8 .6-5.7 .5 .3 .4-.4 .5 3 .4 1.4 .5 1.4 .4-2.2 .5 .8 .4 3.6 .5 4.2 .4-3.1 .5 2.4 .4-1.1 .5 0 .4 .5 .5-5.7 .4 2.4 .5 .4 .4 .5 .5-.3 .4 .9 .5 .4 .5 0 .5 7.9 .5-.3 .5-3.4 .5 1.2 .5-3.2 .5-5.6 .4 .2 .5 3.1 .4 2.2 .5-3.8 .4-3 .5 .6 .4-2 .5-1.7 .4 1.8 .5-1.3 .4-2 .5-1.5 .4-1.4 .5 1.3 .4 2.5 .5-3.3 .5 4.4 .4-7.7 .5 2.6 .4-2.9 .5 1.4 .4 .5 .5 .8 .4 1.1 .5-2.8 .4-1.4 .5 2.6 .4 1.9 .5-1.3 .4 2.8 .5 1.8 .4-6.5 .5 2.5 .4 1.5 .5-6.2 .4 3.3 .5-.7 .5-2.9 .4 5.1 .5-.9 .4-1.1 .5 2.3 .4 1.3 .5 1 .5-1.5 .4-1.6 .5-4.5 .5 1.2" fill="none" stroke="#cfcfcf" stroke-width="1.5" stroke-linejoin="round" />
<path d="M560.0 122.9l.5 .4 .4-4.3 .5 6.1 .4-2.9 .5-1.7 .4-1.6 .5 2.5 .4-.2 .5-1.2 .4-.2 .5-.7 .4 .1 .5 1 .4-.7 .5 1.9 .4-1 .5 .3 .4 .4 .5 1.4 .4-.8 .5-.4 .4-.3 .5-.8 .5 .9 .4 1.8 .5-.1 .4-.7 .5-1.2 .4-.2 .5 2.9 .4 1.3 .5-.9 .4-2.8 .5 1.2 .4 .6 .5-1.7 .4 1.5 .5-.7 .4-1.2 .5-.8 .4 3 .5-.1 .4-1.7 .5-.3 .5 2.8 .4 .2 .5-1.2 .4 2.4 .5-1.9 .4-1.3 .5 2.4 .5-1.9 .5 0 .5-.8 .5-2.1 .5-1 .5 1.1 .5 2.3 .5-3.4 .5 2.7 .5-1.4 .5-2.4 .5 1.4 .5 .5 .6-2.3 .5-2.3 .5 3 .5-1.9 .5 1.8 .5-3.4 .5 1.8 .5-.9 .5-1.3 .5 1.4 .5 1.1 .5-.7 .5-.8 .5 2.1 .5-2.3 .5 3.2 .5 .1 .5 1.5 .5-1.1 .5-1.1 .5-.5 .5-.7 .5-2.2 .4 3.6 .5-1 .5-1.4 .4-1.6 .5 3.4 .5-1 .5-2.8 .4 1.4" fill="none" stroke="#cfcfcf" stroke-width="1.4" stroke-linejoin="round" />
<path d="M560.0 115.4l.8 3.3 .7-.4 .8 1.5 .7-3.6 .8-3.1 .7-.5 .8 2.2 .7-3.9 .8-2.2 .7 3.9 .8 1.8 .7-.5 .8-1.1 .8-3.7 .7 0 .8 1.8 .7 3.5 .8 1.7 .7 3.2 .8-4 .7 .5 .8-2 .7 2.1 .8 2 .7 0 .8-.5 .8-2.1 .7 .5 .8 .1 .7 1.1 .8 2 .7-1.6 .8 1.3 .7-3.2 .8 0 .7-1.9 .8-2.8 .7-.4 .8-1.7 .8-.3 .7-.5 .8 2 .7-2.8 .8 1.2 .7-1.6 .8-2.1 .7-1.5 .8 3.7 .7-3 .8 2.3 .7 .7 .8 .8 .7 .4 .8 .9 .8-.2 .7-1.3 .8-1.2 .6-.5 .7 1.6 .6-1.8" fill="none" stroke="#000" stroke-width="1.05" stroke-linejoin="round" />
<path d="M668.6 92.1l.4-.2 .5-5.1 .4-1.6 .5-3.4 .4 .1 .5 1.3 .4-1.3 .5-2.7 .4 1.2 .5-2.6 .4 0 .5-1.2 .4-.7 .5-7.4 .4 .3 .5 5.2 .4-.6 .5 5.4 .4-3.9 .5-.7 .5 5.9 .4 .4 .5 4.5 .4-.8 .5 0 .4 2.9 .5-1.8 .4 1.5 .5 1 .4 1.9 .5 2.8 .4-1.7 .5 1.9 .4-.9 .5 3.3 .4-7.5 .5 3.9 .4 1.2 .5-2.8 .4 3.8 .5-2.3 .4 .9 .5-1.6 .5-1.9 .4-3 .5-1.3 .4 2.4 .5 .6 .4 2.3 .5-.3 .4 7.8 .5-8.1 .4 5.1 .5-2.2 .4 .7 .5 2.1 .4-1.8 .5-3.1 .4 2.7 .5-1.2 .4-3.4 .5 4.8 .4-1.5 .5 1 .4 3.2 .5 .9 .5-.3 .4 5.9 .5-2 .4-1.7 .5 2 .4 0 .5-3.8 .4 1.2 .5 1.1 .4 6.7 .5-4.2 .4-1.3 .5-1.3 .4 2.5 .5-.3 .4 4.5 .5-.3 .4 2.8 .5-2.2 .5-5 .5-7.2 .5-5.2 .5-1.1 .4 4 .5 1.6 .4 2.7 .5 6.1 .4-.5 .5 2.7 .4 .4 .5 1 .4 1.1 .5-3.1 .4 2.8 .5-1.7 .4-.4 .5 3.8 .4 1.3 .5-7.4 .4 3.6 .5-2.4 .4-4.9 .6 .3 .5-1.1 .5-1.4 .4-.6 .5-1.3 .4 3.4 .5 3 .4 1 .5 1 .4 2.1 .5-3.1 .4 2.6 .5 2.2 .4 2.1 .5-.9 .4 1.1 .5-.1 .4 4.6 .5-7.8 .5 3.7 .5 6.3 .5-3.4 .6-4.4 .5 3.9 .5-2.8 .5 1.2 .5 2.1 .5 3.4 .5-2.1 .5 .1 .5-1.2 .5-3.7 .5-4.4 .5-.8 .5-.9 .5-3.2 .4-2.5 .5-1 .4-3.8 .5-.8 .4 .5 .5-1.2 .5-.1 .4 2.1 .5-2.8 .4-1.8 .5-.2 .4 2.3 .5 5.4 .4 .2 .5 4.9 .4-2.2 .5 2.7 .4 .5 .5 2.8 .4-2 .5 .2 .5 1.7 .5 .3 .5 3.9 .5-3.1 .5-.6 .5 .1 .5 1.4 .6-.5 .5 .7 .5-4.5 .5 7.2 .5 .1 .5-3.7 .5-2.8 .5 2.6 .5 1.2 .5-5.2 .5 4.4 .5-2 .5 4.1 .5 3 .5 .2 .5-4.9 .4 4.9 .5-.5 .4-3 .5 1.1 .5 2.1 .4-3.8 .5-.2 .4-1.4 .5 3.1 .4-6.7 .5 4.4 .4-6.1 .5 1.2 .4-6.9 .5-1.4 .4-1 .5 1.3 .4-6.5 .5 2.1 .4-3.8 .5 5.2 .4-1.2 .5 2.8 .4 .3 .5 5.4 .4-2.7 .5 1.3 .5 5.5 .4-2.2 .5 2 .5-2.1 .5 2.3 .5-4.2 .5 5 .5-.2 .5-1.2 .5 .6 .5 6.1 .5 .1 .5-3.4 .5 7.1 .5-3.6 .5 .6 .5 1.8 .5-2.2 .5-1 .5 2.2 .5 4.7 .5-.3 .5-5.8 .5 4.6 .5-2.2 .5 .2 .5-1.4 .5-.3 .5-3.9 .5-1.2 .5-.7 .5-.2 .5 1.2 .5-4 .5 4.8 .5-4.3 .5-1 .5 2.1 .5-.7 .6-2.9 .5-3 .5-1.4 .5-2.5 .5 4.3 .5-.6 .4 2.7 .5-1.7 .4 .1 .5 1.7 .4 1.5 .5-1.6 .4 1.8 .5 4.8 .4-6.5 .5 .4 .5 1.1 .5 3.9 .5 1.8 .5-2.8 .5 1.9 .5-1 .5 1.3 .5-.9 .5 1.6 .5 .9 .5 3.2 .5 3.4 .5-7.3 .5 4.4 .5 .2 .5 2.7 .5 1.3 .5 .2 .5 .2 .5-3.5 .4-2 .5 7 .5 .2 .5-4.3 .4 4.2 .5-2.3" fill="none" stroke="#cfcfcf" stroke-width="1.5" stroke-linejoin="round" />
<path d="M668.6 118.5l.5-5.1 .5 3.4 .5-2.8 .5 2 .5-3 .5-1.2 .5-2.2 .5 .7 .5 1 .5-3.1 .5-3 .5 4.4 .5 .9 .5-1.1 .5-1.5 .5-.7 .5-.3 .5 3.5 .5 2 .5-2.6 .5 1.5 .5 .3 .5 .5 .5 1.5 .5 3 .5-3.1 .5 2.1 .5 1.1 .5-1.3 .5 .4 .5-1.2 .5 3.7 .5-1.4 .5 .1 .5 1.5 .5-.7 .5-.7 .5 .7 .6 2.5 .5-2.3 .5 .5 .5-3 .5-.8 .5 5.5 .5-2.2 .5-1.7 .5 2 .5 1.5 .5-2.9 .5 1 .5 2 .5-1.2 .5 2.5 .5 .8 .5-.4 .5-1.1 .5 .6 .5-.5 .5 .9 .5 .9 .5-.7 .4 1.8 .5 1.7 .4-3.1 .5 .8 .4 .8 .5 0 .4-1.2 .5-.5 .4 2.1 .5-.1 .4-.2 .5-1.8 .4 1.8 .5 .6 .4-1.2 .5 1 .4 1 .5-3.9 .4 2.8 .5-2.2 .5-.6 .4 1.6 .5 1.3 .4-.5 .5-1.8 .4-.7 .5 1.2 .4 1 .5-1.1 .4-1.2 .5 4.1 .5-2.9 .4 .4 .5-.6 .5-.2 .4 .7 .5-.4 .4 1.1 .5-2.5 .5-.9 .4 4.7 .5-2.3 .5 1 .4 .8 .5-.8 .4-.7 .5-2.4 .4-.3 .5 3.7 .4 .2 .5-.1 .4-3.1 .5-1.1 .4 1.4 .5 .1 .4 2 .5-1.3 .4 3.5 .5-2.5 .4-.2 .5 2.1 .4-.4 .5-1.9 .5 2.2 .4 .7 .5-3 .5 .8 .4-1.1 .5-1.4 .5 3.5 .4 .6 .5 .5 .4-.7 .5-3.6 .5 2.3 .4-.7 .5-.9 .5-.2 .4 2.6 .5-1.2 .5 2.5 .4-1.4 .5-3.8 .5 3.4 .4 .9 .5-1.7 .4-2.1 .5 3.8 .5-3.7 .4 1.3 .5-2.3 .5 .7 .4-.5 .5 4.1 .5 .8 .4-2 .5-1.6 .4 1.7 .5 1 .5-2.5 .4 .3 .5 1.5 .5 1.4 .4-.7 .5 .4 .5-2.4 .4-2.1 .5 3.7 .4-1.2 .5 1 .5-.3 .4 1.2 .5-1.6 .5 2.7 .4-1.3 .5 .5 .5 .2 .4 .6 .5-.8 .5-3.3 .4 1.2 .5 2.9 .4-.6 .5-.1 .5-.1 .4-1.7 .5-.3 .5-.2 .4 2.4 .5-1 .5 1.6 .4-1.7 .5 1.6 .4-2.1 .5-2.9 .5 3.6 .4-1.6 .5 .7 .5-1.5 .4-1.2 .5 .4 .5-2.1 .5-.6 .5 .1 .5 .4 .5-1.4 .5 1.9 .4 1 .5 2.9 .5 .4 .4-2.6 .5 1.2 .4-1.2 .5 .9 .4-.3 .5-.6 .4 .9 .5-2 .5 2.5 .4-.5 .5-1.2 .4 1 .5 1.6 .5-1.5 .4 1.6 .5 .5 .5 1.6 .4-3.6 .5 1 .5 .9 .4 1.4 .5-1.7 .5 .3 .4-3.3 .5 .6 .4 3.2 .5-2.5 .5 3.1 .4-3.9 .5-.1 .5-2.1 .4 2.8 .5-.3 .5 2.3 .4-2.6 .5-1.2 .4-2 .5 1.4 .5 1.5 .4-.2 .5 .4 .5-.6 .4-1.7 .5 .6 .5-.8 .4-2.1 .5 4.2 .4-1.2 .5-2.1 .4 1.9 .5 .3 .4 1.2 .5 1 .4-6.3 .5 4.4 .4 2.2 .5-3.2 .5-1.7 .4 3 .5 .6 .5 .2 .4-2 .5 .7 .5 1.2 .4 1.1 .5 2.4 .4-2.3 .5-1.6 .5-2.8 .4 4.7 .5-1 .5 0 .4-1.2 .5 2.4 .4-3.3 .5 2.4 .5 .4 .4 .4 .5 1.6 .4-1.7 .5 .1 .5 1.2 .4-3.3 .5 1.4 .4 .8 .5 .1" fill="none" stroke="#cfcfcf" stroke-width="1.4" stroke-linejoin="round" />
<path d="M708.5 87.4V108.5M736.4 93.4V114.5M743.9 99.4V111.5M752.2 99.4V114.5" stroke="#cfcfcf" stroke-width="1.1" fill="none"/>
<path d="M668.6 107.5l.7-4.2 .8-.8 .7-2.3 .8-3.6 .7-1.9 .8 1.7 .7 3.9 .7-2.3 .6-2.1 .7-2.6 .6-.2 .6 3.1 .6 1.7 .8 .6 .7 .9 .8-1.4 .7 3 .8 .1 .7 .9 .8 1.9 .7 1.9 .8 1 .7 .7 .8 0 .7 2.3 .8-3.4 .8-3.6 .7-.9 .8 2.8 .7-1.3 .8-.9 .7 3.9 .8 2.3 .7-1.3 .8-.6 .7 .4 .8 3.8 .7-1.2 .8 1.9 .7 .9 .8-2.2 .8 1 .7 .8 .8-.1 .7-2 .8 2.8 .7-1.6 .8 .7 .7 .7 .8 1.1 .7 3.9 .8-3.9 .7-1 .8-1.9 .8 0 .7 3.5 .8 1.4 .7-.2 .8-.4 .7-.6 .8 .8 .7 4 .8-.2 .7-1.7 .8-1 .7-3.4 .8-1.3 .8-.9 .7-1.8 .8 1.8 .7-2.9 .8 4.3 .7-.1 .8-1.3 .7 2.1 .8-.3 .7 2.1 .8-1 .7 .7 .8 2.3 .8 .9 .6-1.1 .6 .6 .6 .4 .6 .5 .6 .2 .7-1.1 .8 .6 .7-3.6 .8-4.7 .7-4.2 .8 11.6 .7-13.9 .8 10.6 .8-6.2 .7-5.6 .8 2.4 .7 3.2 .8 4.5 .7 .4 .8-1.4 .7 3.2 .6 .4 .6 .2 .6 2.2 .6 .2 .6-.3 .6-2.7 .7-.4 .6 2 .6 .2 .6 .6 .6 .2 .6-.6 .6-1 .6 .1 .6 1.5 .6-.7 .6 2.6 .6-1.8 .6-1 .6 2.1 .7-1.1 .8 4.6 .8-1.8 .7-1.4 .8-2.1 .7-2.8 .6-2.7 .6-1.8 .6 2.2 .6 .1 .6 .7 .8-5.5 .7 .1 .8-1.6 .7 2.8 .8 .3 .8 2.9 .7 1.1 .8 .3 .7 1.6 .8-.9 .7 2.8 .8-1.5 .7 3.9 .8-3.6 .7 3.6 .8-.9 .7 .4 .8 1.2 .7-.5 .8-1.3 .8 1.4 .7-3.6 .8-.3 .7 3.1 .8-1.7 .7-4.4 .8 1.2 .7-.9 .8 3.7 .7 1 .8-3.6 .7 .3 .8-3.8 .8 .6 .7-.9 .8-2 .7-1.2 .8 1.6 .7-1.6 .8 1.8 .7-1 .8 4 .7-.8 .8-1.5 .7 4.3 .8 1.2 .8-.5 .7 3.8 .8-.6 .7-1 .8-1 .7-2.2 .8 4.8 .7 2.9 .8-2 .7-2.1 .8 .8 .7-1.7 .8 2.4" fill="none" stroke="#000" stroke-width="1.05" stroke-linejoin="round" />
<path d="M805.0 114.2l.5 1.4 .5 1.6 .6-2.7 .5-.7 .5 .8 .5 1.4 .5-3.8 .5-2.8 .6 .3 .5-1.1 .5 .4 .5 1.5 .5 .6 .4-.8 .5-.8 .5-1.6 .4 .9 .5 2 .6 .7 .5 2.4 .5-2.9 .5 .3 .5 5 .5-2.9 .6-.2 .5-1.9 .5 2.3 .5-2.8 .5-2 .5 .6 .5-1.8 .4 1.4 .5-3.4 .4-.5 .6-4.3 .5-2.5 .5-5.5 .5 4.1 .4-4.4 .5 2.2 .5 .1 .4 3.5 .5-1.2 .5 .5 .4-1.9 .5-1.4 .4-1.4 .5 2.8 .5 1 .4 3 .5 1.7 .5 2.6 .4-1.2 .5-.8 .5 0 .4 3.3 .5 1.9 .5 4.1 .5-2.8 .5 3.5 .6 1.2 .5-5.7 .5 4.4 .5 0 .5 0 .6-3.4 .5 1.1 .5-3.4 .5 0 .5 .5 .5 4.1 .5-3.5 .6 2.3 .5-1.4 .5-1.7 .5 2.1 .5 1.4 .6-2.6 .5 2.8 .5-2.3 .5-.5 .5 .8 .5-2.2 .5-3.3 .6-3.2 .5 1.8 .5-.6 .5-2 .4 .6 .5-4.2 .5 3 .4 0 .5 .7 .5-1 .4 2.1 .5 1.3 .4 3 .6-.9 .5 .2 .5-1.6 .5 3.6 .5 1.7 .6-3 .5 2 .5-.4 .5-.9 .5-2.8 .5 6.2 .5-6.9 .6 4.1 .5-.4 .5 3.7 .5-2.4 .5 1.1 .6 1.8 .5 .4 .5-1.6 .5 2.8 .5 .2 .5 1.8 .5-2.6 .6 .3 .5-.9 .5-1.3 .5 1.9 .5 .4 .6 2.1 .5-3.2 .5 1.3 .5 2 .5-2.2 .5 .3 .5 .4 .6-3.6 .5-2.7 .5 2.6 .5-3.1 .5-2.6 .6-4.5 .5-.5 .5-.4 .5-7.8 .5-3.2 .5 1.2 .5-1.7 .5 5.1 .5 .1 .4 6.5 .5 2 .5 7 .4-2.5 .5 .1 .5 1.7 .4-2.7 .5-2.5 .5-1.8 .4-1.6 .5-3.8 .5-.8 .4-1.2 .5-5 .6-14.7 .5-6.5 .4 4.1 .5 8.6 .5 8.1 .4-.2 .5 3.2 .5 3.3 .4-6.2 .5 5 .5-4.5 .4 7.4 .5 .2 .5 .6 .4 2.4 .5-1.1 .5 4 .5 .7 .5 3.1 .5 7.3 .5-3.1 .5 4.6 .5-.8 .5 3 .5-1 .4-2.7 .5 .7 .5 .6 .4-6.8 .5-9.5 .5-7.1 .4-4.1 .5-11.7 .5 4.5 .4 6 .5 3.9 .5 6.3 .4 3.6 .5-1.8 .5 1 .4-2.5 .5 3.1 .5 2.4 .4-2.1 .5-.7 .4 0 .5-4.4 .5-.9 .4-4.1 .5 4.4 .5-5.4 .4-3.6 .5 3.5 .5-.4 .4 3.2 .5-1.5 .5 5.9 .4-1.4 .5-.9 .5 .3 .4-.1 .5 2.7 .4 3.5 .5-1.7 .5 .9 .4 6.4 .5 4.6 .5-2.1 .4 1.8 .5 .4 .5 4.2 .4 1.3 .5-1.6 .5-1.5 .5 3.4 .5-5.6 .6 4.8 .5-1.3 .5 4.1 .5-1.6 .5-3.8 .6-.2 .5-.2 .5-1.3 .5 1.4 .5 .8 .5-6.3 .5 .7 .6 2.7 .5-2.3 .5-4.7 .5 1 .4 1.4 .5-.1 .5 7.2 .4 .1 .5-3.2 .6-3.1 .5 .7 .5-1.3 .5 3.5 .5-5.3 .5-.3 .5 1.3 .4-1.5 .5-2.8 .5-5.5 .4 6 .5-1.6 .4-3.2 .5-.6 .5-2.7 .4-.8 .5-1.9 .5 3.5 .4 0 .5-1.2 .5-.8 .4-2.3 .5-2.8 .5-4.3 .5 7.1 .5 6 .5 3.3 .5 5.4 .4-2.5 .5-.7 .5 5.4 .4-2.3 .5 2.2 .5 1.2 .4 2.2 .5 1.3 .5 1.2 .4-.9 .5 8.4 .5-1.6 .4-4 .5 2.3 .4 .7 .5 .2 .5-4.4 .4 5.5 .5 2.6 .5-4.2" fill="none" stroke="#cfcfcf" stroke-width="1.5" stroke-linejoin="round" />
<path d="M805.0 121.6l.5 1.4 .5 0 .4-2.7 .5 3.2 .5-3.8 .5 1.1 .4 .5 .5 2.4 .5-1.3 .5-.6 .4-1 .5 1.1 .5 .1 .5 .9 .5 1 .4-.9 .5-1.3 .5-.5 .5 2.3 .4-1.7 .5-.7 .5 2.4 .5-.1 .4-1.5 .5-1.4 .5-1 .5 2.1 .5-2.1 .4 1.5 .5-2.5 .5 .7 .5 .4 .4-.6 .5-.1 .5 0 .5-2.4 .4-.6 .5 1.1 .5 2.8 .5-2.2 .5-1.4 .4 .3 .5 1.2 .5 1.9 .5-2.2 .4 1.5 .5-.3 .5-.7 .5-.8 .4 1.1 .5-.6 .5 1.9 .5-2.9 .5 4 .4 .3 .5-.1 .5 1.6 .5-.9 .4-3.3 .5 2.3 .5 1.1 .5-1.3 .4-.6 .5 2.4 .5 .6 .5-1.1 .5 .2 .4-.3 .5 0 .5 .8 .5 1.9 .4-3.5 .5 1.4 .5 3.1 .5-1.3 .4-.3 .5 1 .5-2.4 .5-.9 .5-1 .4 0 .5 2.2 .5 1 .5-1.8 .4-.9 .5 1.2 .5 .3 .5-.7 .4-3.4 .5 1.2 .5-2.8 .5 3.7 .5-.9 .4 .2 .5 3.3 .5 .3 .5-1.1 .4-.3 .5-.1 .5-1 .5 .7 .4 3 .5-3.4 .5-.1 .5 1.2 .5 1.4 .4 .2 .5-2.5 .5 1 .5 0 .4-1.3 .5 1.8 .5-.4 .5 2.1 .4-.3 .5-1.7 .5 1.1 .5-.5 .5-.5 .4 .1 .5 2.3 .5-1.8 .5-2.1 .4 1 .5 2.4 .5 .8 .5-2.7 .4 .3 .5 .1 .5-1.5 .5 2.2 .5-.4 .4 .3 .5 1.7 .5-2.2 .5 .9 .4 .1 .5-2.2 .5-.3 .5 2.9 .4-.9 .5-1 .5-2.1 .5 2.3 .4-.5 .5 2.1 .5-1 .4-1.3 .5-1.3 .5-.7 .4-1.3 .5 .8 .4-.2 .5 .9 .5 1 .4-.7 .5-1.1 .5 2.1 .4 1.6 .5-2.9 .5 1.6 .4 .7 .5 .4 .5-.4 .4-1.2 .5-.4 .5 2.2 .4 .2 .5-4.8 .5-2.6 .4 3.6 .5-1.3 .5-.2 .4-1.4 .5 2.7 .4 0 .5-.6 .5 2.1 .4 2.7 .5-.9 .5-.4 .4-2.2 .5 1.3 .5-.6 .5 1.9 .4-.4 .5-.7 .5 .9 .5-1.5 .4 2.2 .5 1.5 .5-2.2 .5 1.2 .4-2.9 .5 3.6 .5 .6 .5-2.8 .5 3.1 .4-1.5 .5-3.1 .5 0 .5 3.1 .4-1.3 .5 1.7 .5-3.7 .5 1.5 .4 1.6 .5-2.2 .5 1.5 .5-1.5 .5 .6 .4-.1 .5 2.5 .5-4.8 .5 1.9 .4 .9 .5-3.6 .5 1 .5 3.2 .4-1.6 .5-6.2 .5 2.8 .5-1.4 .5 2.9 .4-.9 .5 .3 .5-.1 .5 1.8 .4-.6 .5-.5 .5 1.1 .5 1.2 .4-1.4 .5 2.8 .5-3.3 .5 2.5 .5-.6 .4 2.8 .5-2.7 .5-.3 .5-.9 .4 4.6 .5-1 .5-2.5 .5 .8 .4-.7 .5 3.4 .5-.8 .5-3.8 .5 2.5 .4 1.3 .5-1.2 .5 .4 .5-.9 .4 .3 .5-.1 .5-1.4 .5 1.2 .4-.2 .5-.4 .5-1.1 .5-.8 .5 1.6 .4 1 .5-4.6 .5 1.9 .5 2.9 .4-.3 .5-2.5 .5 2.5 .5-3.1 .4-.3 .5 3.8 .5-2.9 .5-.4 .5-2.3 .4 .4 .5-.4 .5 1.2 .5-2.4 .4 3.6 .5-1.8 .5-.8 .5-.3 .4 1.7 .5 1.2 .5-2.8 .5 2.7 .5 .7 .6-.1 .5-1.3 .5-2.5 .5 2.9 .5-.8 .4 1 .5-2.6 .5 2.2 .4 1.3 .5-1.2 .5 1.8 .4 2.6 .5-1.5 .5-1.2 .4 4.1 .5-5.6 .4 1 .5 2.2 .4-1 .5-2.5 .4 3.4 .5 1.5 .4-2.1 .5 3.1 .4-.8 .5-.9" fill="none" stroke="#cfcfcf" stroke-width="1.4" stroke-linejoin="round" />
<path d="M813.5 104.9V114.2M901.1 75.5V108.0M929.0 98.7V111.1" stroke="#cfcfcf" stroke-width="1.1" fill="none"/>
<path d="M805.0 118.8l.6-2.9 .6 1.3 .7 2.5 .6 1.4 .6-.3 .6-2.2 .6-.7 .7-1.4 .6 1.6 .6-2.1 .8 1.3 .8-1.9 .7 .7 .8 3.7 .8-1.5 .7-.6 .7-3 .6 2 .6 3.5 .6-3.5 .7-2.1 .7 1.5 .8-.6 .8-.3 .7-4.4 .8-3.6 .8-3.1 .8 3.3 .8 .6 .7 1.8 .8-1.9 .8 1.8 .7-.6 .8 1.2 .8 2 .8 0 .8-.2 .7-1.5 .8 2.2 .8 1.7 .7-1.1 .8 .5 .8-1.3 .8 .7 .8 3 .7 1.6 .8-1.8 .8-2.5 .7 1.5 .8-.7 .8 1.8 .8 3.8 .8-.6 .7-.4 .8-1.6 .8-4.3 .7-2.4 .8-.8 .8-.4 .8-3.2 .8 1.9 .7 .6 .8-4.2 .8-.2 .7 3.5 .8 5.2 .8-.1 .8 1.4 .8 .8 .7 1.2 .8-1 .8 .2 .7 1.7 .8 1.1 .8 .7 .8 .2 .8-.6 .7 2.3 .8-1.7 .8-.6 .7-5.8 .8 3.6 .8-3.3 .8 2.7 .8-.7 .7 .6 .8-.7 .8 1.1 .7 1.7 .8 1.4 .8-5 .8-6.3 .8-2.1 .6-1.4 .6-4.8 .6-2.3 .6-2.2 .6-2.5 .8 11 .8 9.9 .8 2.8 .8 4.1 .7-.9 .8-4.7 .8-2.3 .7-1.5 .8-3.7 .8-5.8 .8-2 .8 0 .7 2.3 .8 4.9 .8-.5 .7-3.8 .8 2.1 .8 2.3 .8 1.8 .8-2.1 .7 3.9 .8 5.1 .8 4.1 .7 2.7 .8-4.2 .8-1.5 .8-2.9 .8-3.1 .7-2.1 .8-1.4 .8 3.3 .7 1.1 .8-1.4 .8 1.7 .8-1.2 .8 2 .7-3.6 .8 .1 .8-.7 .7-3.8 .8-4.1 .8-2.1 .8-.2 .8 3.2 .7 .8 .8-.3 .8 .7 .7 2.8 .8 3.1 .8 8.9 .8-1.2 .8 1.1 .7 .1 .8 2.8 .8-.3 .7 .3 .7-1.2 .6-1.4 .6 1.4 .6-1.3 .7-1 .6-.3 .6-.1 .6-.8 .6-1.1 .6-2.4 .7 4.5 .6-2.9 .6-1.8 .6 1.6 .7 4.2 .7 .8 .8-1.9 .8 1 .7-2.3 .8-4.8 .8-.6 .8-.3 .8 0 .7-4.3 .8-3.2 .8-.8 .7 1.6 .8-2.2 .8-2.3 .8-2.5 .8 2.4 .7 1.6 .8 6.6 .8 5.1 .7 2 .8 2.5 .8-1.4 .8-1.4 .8 1.1 .7 6.3 .8-2 .8 1.5 .7 .3 .8 .9 .8 3.6 .8-4.6" fill="none" stroke="#000" stroke-width="1.05" stroke-linejoin="round" />
<path d="M77.0 224.6l0-4.9 .1 5.7 0-.9 .3 .2 0-5.6 .3 1.6 .1 .5 .3 2.3 .1 0 0-2.7 .3-1.2 .1 2.6 .1 1 .1-2.9 .3 .2 .1-1.7 .2 5.8 .1-7.6 .1 5.2 0-1.7 0-1.9 .1-.7 .1 2.4 .2-.3 0-2.8 .1-.1 0 4.9 .1-2.6 .3-2.4 .1 2.7 0-3.1 .1-1.4 0 1.4 .1-1.3 .2-1.7 .2 .5 0 4.2 .3-5.2 0 1.2 .6 5.4 0-.9 .1-6.5 .2 4.4 .2-.7 0-2.2 0 1 .2-.1 .3-1.2 .3-.6 0 2.9 .1-4.7 0 3.9 .5-3.7 .4 2.5 .2-2.2 0 4.3 .1-4.9 .1 3.7 .1 .8 .2-3.6 .1 .8 0 1.6 0-2.8 .1 1.5 0 1.3 .1 1.7 .2-.2 .1-.7 .1 .6 .1-1.8 0-.8 0 5.4 0-4.9 .2 2.8 .1-2.1 .2-3.9 .1 6.6 0-1.1 0-5 0 .8 .1 3.4 0 .1 .1-4.5 .1 7 0 .2 .1-2.6 0-2.7 0 1.4 .1 .6 0 .6 .1-4.5 0 .8 0 4.4 0-4 .1 3.8 .1-2.8 0 1.5 .1 2.9 .1-6 0 1.1 .1-5.3 .1 10.8 0-7.3 0 .1 0-1.9 .1 3.1 .2 5.7 0-10.8 0 6.2 0-1.2 0-3.1 .3 5.4 .4 5.1 .1-5.1 0-3.7 0 3.2 .1-4.8 0 5.9 0 .9 .1-5.3 .2 1 .1-.6 .1-.7 .2-4.8 .2 5.9 .1 2.9 0-1 0 .3 .1-7.8 0 1.3 0 .4 0 1.2 .2-1 .1-.2 .3 .4 .1-1.1 .1 2.1 .1-1.6 .3-1.3 0 2.7 0-.8 .1-4.3 0 1.7 .2 .5 .2 1.3 .1-2 .2-1.6 0 3.5 .3-2.9 .1 3.2 .4-.3 .1-2.7 .3 2.1 .2-2.5 0 1.6 .1 .3 .4-.4 0-1.5 .2-.4 .1 .5 0-.1 .1-.8 .1 1.1 .7-2.5 0 5.2 .2-.2 .1 .1 .4-1.8 0 .4 .4 1.9 .1-5.6 .2 2.6 0-1.2 .1 4.2 .1-9 .2-4.2 .1-8.4 .1 4.7 0 12.1 .2-15.1 .1 5.8 0-9.1 .1-4.8 .1 11.1 0 1.9 .1-6.4 .2-9.6 .1-2.7 .1-1.4 .1 2.3 .4-.4 .1-11.3 0-1.6 0 4.1 .2 2.4 .1-.6 .1-8.9 0 1.2 .1 2.4 0-8.9 .3-2.3 .3 1 0-.1 0 81 .1-12.9 0 9.7 .2-15.9 .2 19.9 .2-14.4 .2-.4 .2 15.6 .2-17.3 .4 16.4 0-4.1 .1-91 0-.1 .4 84.2 .5 8.9 0 0 .2-5 .2-2.7 .3-8.6 0 11.2 .1 3.3 0-12.4 .3-4.4 0 17.5 0-15.5 .2-.3 .2 10.3 0-.3 .1-3.2 0 1.6 .2-4.6 0-1 .1 15.2 .3-9.8 0-4.1 .2 5.6 0-6.4 .1-1.7 .1-.7 0 1.4 .3 3.1 0 12.5 .1-1.4 .1 3.7 .1-14.1 .1 10.6 .1-8.9 .1-83.3 .4 89 .1 4.8 .3-5.5 .1 3 .1-4.9 .1-.3 .2 2.6 .2-6.5 .2 2.9 .6-1.3 0-.9 .1-4.4 .2 .9 .2-.4 .3-4.6 .6-1.6 .3 .6 .1-2.5 0 6.5 1-5.9 .2-.7 .6-4.8 .1-3 .2 22.4 .3-24.1 0 23.6 0-23.3 .2 24.8 .1-25 .1 26.3 0-26.9 .1 28 .1-4.4 .2 1.3 .1-2.5 .1 2.3 .1-2.8 0-24 0 26.5 .1-1.1 .1 3.7 .1-5.7 .1 6.1 .1-3.5 .1-4.9 .1 5.6 .1-2.5 .1 .5 0 1.5 .2-1.7 .1 3.4 0-5 .1 .4 .1 3.4 0-2.9 .1 .1 0 3.5 .2-4.8 0 2.5 .4-2.4 0 4.1 0-1.4 0-1.7 .2 2.3 .1-.2 0-1.3 .3 .7 .1 2 0-3.9 .1 1 .3 5 .1-5.7 .1 5.9 .2-4.9 .3 3.9 .3 0 .1-.4 .1-1.8 .2-2 .4 2.3 .2 1 .6-1.3 .1-1 0 .8 .1 2.4 .4-.6 0-2.8 .3 .6 0-.6 .2 1.7 0 .6 .1-1 .4-.8 .6 2.7 0-.8 .1-1.6 .1 .6 .2-1.8 .2 2.2 0 3.1 .5-4.2 .2 3.9 .2-1.3 .4-1 .2 1.8 .3-2.7 .2 3.8 0-3.7 0 .3 .2-.1 .1 4.2 .2 0 .1-3.7 .2 1.1 .1-.4 .1-.9 .4 1 .3 .2 .1 3.1 0-3 .3 2.1 .8-2 .1 3.7 .1-.6 .2-2.1 .3 1.1 0-.8 .5 1.1 .1-1.6 .3-.6 .1 4.2 0-2 0 .1 .4 2.2 .1-2.1 0-2.2 .1 .8 .2 .2 .4-.6 .2-.8 .1 5 .2-2.4 .2 0 .2-1.7 .2 2.4 .1 .2 .2-1.4 .3 .4 .2-.3 .1 1.4 .1 .4 .3-1.1 .5 1.1 .1-.1 .1 .8 .2 1 0-3.6 0 2.3 .3-1 .4 1.1 .2 .3 0-.6 .2-2.2 .5 2.9 0-2.7 .2 .6 .2 2.9 0-1.3 0 .9 .1-1.7 0-2.6 .2 7 0-2.1 .3-2.6 0 .8 .1 1.3 .1-2.5 .1 2.4 .2 1.2 .5 2.6 .1-6.8 .4 .4 .1 1.1 .1 3.9 0-.6 0 .1 .1 1.8 .1-1.5 0 1.7 .1-1.4 0 1.4 .1-2.1 .2 .6 .2 1.6 .1-1.7 .1 2.2 .2-2 .2-.7 .7 1.7 .2-1.8 .3-95.6 .2 .6 .3 96.6 .2-95.3 .1-.2 .1 95.3 0-94.7 .1-1.4 .4-.1 .1 1.4 0 .2 .2 1.4 .3 .6 .1-1.2 0-1.1 0 .5 .1 95.3 .1-95 .1-.7 0 2.3 0 93.5 .2-94.4 0 94.2 0-93.9 .1 4.3 .3-1.4 .1 89.2 0-89.3 0-.6 .1 .1 .1 .7 .1-.8 0 .7 0 .2 .4 .9 .1 87.9 .1 .5 .2-.4 .1 2.4 .3-2 1.1 0 0-1.2 .3 1.3 .3-3.1 0 0 .3 1.7 .3-4.8 .6 4.5 0-2.4 0-.4 .2 .9 .2 1.9 .1-3.6 .4 .5 .2-1.5 0 1.7 .2 2.2 .1-2 0-.8 .1-3.7 .1 1.8 .1 .7 .1-2.6 .1 1 0 .4 .3 .3 0 1 0-3.4 .1 3.2 .1-3.5 0 1.3 0 3.2 .1-1.5 .4 .3 0-2.2 .2 1.5 .3 1.3 0-5.5 .2-.4 .1 2.8 .1-1.5 .5-.7 .1 2.1 0-2 0-.4 .2 2.4 0-1.9 .4-.2 0 3.9 .2-2.3 .1 1 .7-3.5 0 .2 .1 .8 0 .1 .2-.2 0-2.1 .1 3.5 .4-.2 .1 .7 0-.7 .5-.1 .1-3 .3 4.1 0-4.9 .3 4.4 .2-3.4 0 2.9 .3 2.3 .1 .1 .1-4.5 .9 4.7 0-3.8 0 1.4 .1-1.1 .4 3.2 .1-2.7 .2-.8 .2 .2 .1 .1 .1-.9 .1 3.5 .2 .1 .2-1.5 .2-1 0 2.6 .6-1.5 .1-.4 .3-.3 0 .7 .1 2 .2-2.5 .6 2.2 0 0 .2-1.3 .1-2.7 .4 .3 0 .4 .4 .9 .2-.3 .2 2.5 .1-5.2 .2 3.6 .3 1.3 .1-2.3 .3-1.2 .1 2.8 .1-2.4 .1 3.1 .1-2.5 .1 1.6 0-1.7 .1-.5 .1 1.8 .6-.7 .2-1.7 .1-1.3 .3 3.1 .1-3.2 .1 3.7 .1 1.7 0-4.5 .1 1.9 .2-1.6 .2 2.9 .1-5.5 .1 1.2 0 0 .7 1.3 .3-.9 .1-.3 .1 1.1 .1 1.9 .1-3.1 .1-1.2 .1 1.4 0 1.5 .1-.5 0-2.2 .6 2.8 .2 1 0-2.7 .2 1.7 .1-1.5 .3-.1 0 .3 0-1.1 .2 4.5 .3-3.3 0 3.8 .3-4 .2 1 .2 .3 .1-2.5 .3 2 0 2.8 .1-2.5 .1-.5 .2 1.2 .2 3.9 0-3.2 .1-.3 .3 1.5 0 .7 .1-1.6 .1-.2 .5 3.8 .1 0 .1-2.4 .1-.7 .3 .9 .4 2.1 0-3.7 0 5.2 .1-4.8 .1 2.3 .2-1.5 0 .6 .1 2.1 0 1.5 .3-1.3 .1 .8 .2-2.2 .1 1.5 .2 1 .1 1.5 .1-3.6 .3-.4 .6 2.3 .5 1.4 .2-.5 .2-4 .4 .9 0-.2 .2 3.9 .1-3.2 .1-1.8 .2 1.6 .1-3.1 .1 4.4 .1-.9 .2-2.4 .1 2.9 .1-1.2 0 .2 .3 .4 .1-1.9 .1 3.4 0-1.1 .5 1.3 .1-1.4 0-.6 .2-1.6 .1 2.3 0-3.6 .4 2.5 .1-1.6 .1 3.4 .3-3.3 0 2.7 .1-4.1 0 1.9 .1 1.6 .1-.6 .2-.1 0 .3 0-2.3 0 1.6 .1 .5 .5-3.3 .2 4 .4-1.5 .3-.7 .2 3.3 0-3.1 .1 2.4 .1-4.5 .3-.2 0 .9 .1 1.1 .5-.9 .1 2.4 .2 1.6 .3-1.9 .1 1.6 .4-.5 0-2.1 .1 5.2 .2-5.3 .2 1.8 .1 2 0-4 .1-.6 .1-.5 0 7.2 0-2.7 .2-2 .1-.9 .1 5.8 .1-1.5 0 1.5 .1-2.6 0-3.2 0 4.1 0 1.9 .1 .1 .1 3.3 .1-9.1 0 2.8 0 2.7 .2 4 0-5.6 .2 0 0-.1 0 2.8 .1 1.7 .2-4.3 .1 4 0-1 0-2.9 .1 4.3 0-2.5 .1-2.9 0 3.4 .1-2.2 0 3.9 .1-1.8 0 4 0-.7 .5-5.3 .2 2.6 0 2.5 0-6.6 .1 6.5 .2-.8 .1-2 0 2.9 0-1.8 .1-1.6 .1 .4 0 2.5 .1-3.5 0 2.4 0-2.4 .1-2.5 0 2.1 .1 2.2 .2-.9 0 1.8 .3-3.5 0-3.6 .4 5.3 .6-.6 .2-3 .1 1.3 .5-.5 .3 .8 .1-4.1 .1 2.7 0-2.6 0 1.4 .1 0 0-1.9 .1 .8 .1 3.1 .3-1.1 .2-1 0 1.5 .1-.1 .3-.1 .1-3.2 .3-1 .1 1.6 0 2.4 .1-1.9 .2-.8 .3-1.3 .1 .6 0 .2 .2 .7 .1-1.8 0 1.5 .3-1.9 .2 1.9 .1 1.9 .1-.7 .1-1.5 .4 3 .2-5.8 .2 6.1 .5-2.4 0-.7 0-2.8 .3-.8 .1 1.2 0-2.3 .2 4.5 .2-.2 0 0 .2-3.3 .1 .3 0 2.4 .2 1.7 0-7.3 .1 3.7 0-1.8 .2 4.1 .3-.2 .3-3.4 0 1.7 .1-1.9 0-.3 .1-.8 .1 .6 .1-.3 .3-.2 .1-1.3 .3 2.7 .3-3.7 0 1.2 .3-2.1 .5 1.3 .1 .4 .1 3 0-4.1 .1 3.4 0-2.5 .1 2.9 .3-2.5 .2-1.3 0-1.8 .1 5.4 .8-4 .2-.3 .2 1.1 .1 .4 .1-.9 .5-.5 0 .7 .1-2 0 5.7 .3-1.8 0-1.1 .2 .2 .4-2.8 .1 2.9 .1-.7 0 .1 .1 0 0 .5 .1 .8 0 1.3 0-1.1 0 .6 .5 1.8 0-.9 .1-.7 0 .2 0-3.8 .1 3 .2-4 .2 4.7 .3-1.6 0 2.6 0-5.9 0 2.9 .3-2 0 2.7 .1-1.1 0-3.4 0-1.5 .1-.1 .1 0 0-1.5 .2-.3 .1 5.3 0-.4 .2-.3 0 .6 0-2.6 .1-2.7 0 7 0-6.7 .2 6 .1-7.2 .1 9 .1-.7 0 2 0-5.8 .1-1 .1-6.1 0 8.9 0-4.8 .1 3.3 .1 .4 0-.2 .1-9.3 .1 .5 0 5.9 0-1.7 .3 5.3 0-1.3 .2-5.1 0 2 .1 3.7 0-6.9 .2 1.6 .5-.2 0-5.4 0 .3 .1 8.3 0-1.8 0-4.2 .1-2.8 .1 5.7 0-5.1 0 3 .1-1.7 .1 1.6 0-5.6 .1 2.4 .2 1.1 .1 0 0 0 0 4.1 .1-6 0 4.5 .1-2.1 .2 2.8 .4-4 0-1.5 .1-.9 .1-.8 .1-2.4 .1 2.6 .1-2.3 0 1.9 0 1.5 .1 1.5 0 .7 .1-2.2 .2-4.4 0 2.7 .1 2.7 .1-5.8 .2 2.1 0 0 .2-1.7 .1 .5 .2-.5 .1 1.1 .1-.8 0 .6 .1 2.2 .1 2.1 .1-3.6 .1-25.7 0 25.3 0-.8 .1-.3 .1 4 .2-4.5 .1-26 0 .9 .5-1.5 .1 2.3 .1 26.1 .1-2.4 .2-2.4 0 3.8 .1-25.1 0 2.3 .2-4 .1 27.1 .2-.6 0-2.6 .1-26.7 0 1.5 .4 14.3 .1-12.5 .2 2.9 0 0 .1-1.7 0-.2 .1-2.6 .1 5.2 .1-4.3 0-.7 .1 12.6 0-14.5 .1 2.5 0 .8 0 3.1 .1-3 0 3.2 .2-2 .1-.7 .1 8.3 .1-5.3 .1 2.4 0-9.2 .1 1.7 .3 3.4 .1 4 .2 2.3 .1 .2 .2-1.4 .1-3.1 .1 3.7 .1 2.1 0-7.9 0 .2 0-.7 .1 10.2 0-6.4 0-3.2 0 9.1 .1-6.5 .3 4.3 .1-5 .4 5.4 .1-4.9 0 6.7 .3-3.3 0-5.4 0 1.5 .4 .5 0 2 0 1.2 0-.1 .1 3.7 .1-2.8 0-5.6 .5 5.3 .3 1 .2-2.1 .1-1.2 .2 2 .3 2.9 .1 .1 .1-.5 0-1.3 .3-.8 .3 3.3 0-4.4 0 1.5 .1 3.3 0-1.5 .4 2.3 .4-4.6 .1 .9 .1-4.3 .6 7.8 0-4.8 .2 2.1 .1-.6 .3-3.8 .1 .4 .2 2.8 .1-.8 0 .9 .1-.7 .1-3.9 .2 5.2 .3-4.9 .7 .6 .2 4.1 0-6.6 .2 3.9 .2-1 .2-3 .4 2.3 .1-1 .3 .4 0 .1 .8-1.8 .2 1.4 0 2.9 .5-1.4 .3-3.2 .2-.3 .4 2.8 .2-3.1 .2 .9 8.6 5.3 .2-6.6 .5 8.2 .2-1.8 .1 5.5 0-6 .2-2.5 .1 10.5 .1-13.1 .2 5.3 .3 2.7 .2-2.4 .1 5.2 0-1.4 .1-2.6 0 3 0-8.7 .1 3.7 0-4.8 0 2 0 1.6 .1-3.4 .1 6.5 .2 1.1 0-9.1 0 9.7 .1-8.4 .1 9.8 0-1.7 .1-8.5 0 11.7 0 .6 .2 13.6 0-22 .1 23.1 0 2.4 0 2.7 0 .8 .1 .1 .1 1 0 6.6 0-13.6 0-1.1 0 3 0 9.4 0-11.1 0-22.6 0 35.2 .1-7.7 0-7 .1 12 0-.9 0-1 .1-4.4 0 10.2 0-31.8 0 1.3 .1 24.1 0-7.5 0-17 0 22.2 0-6.2 0-.3 .1 1.2 0 14.7 0-7.2 0-24.8 0 29.5 .1-11.4 0 11.9 0 1.3 0-12.3 0 10 .1 3.4 0-40.5 0 21.5 0-19.2 0 25.7 .1-.9 0-3.8 0-.7 .1 16.4 0-.7 .1-12 .1 10.8 0-1.3 .1-11.7 .2 10.8 .1 1.9 0-5.4 .1 2.8 .2 1.9 .4-1.8 .4 1.5 0-2.1 .4 5.3 .1-2.1 0 .7 0-.3 .2 2.5 0-2.3 .1-1.9 .1 1.7 0-3 .1 4.4 .2-3.2 .1 1.4 0-.6 0-2.1 .1 .3 0 3 .3-2.9 0 8 .1-2.3 0-5.1 .2 1.5 .1-.2 .1 .3 0 8.4 0-6.3 0 9.4 .1-2.8 .1-6.3 0-4 0 3.4 .1 1.5 0-3.5 0 10.7 .1-11.2 0 3.1 .1-3 .1 1.3 0 13.8 .1-12.7 .1 .9 .1-1.4 0-.3 .2 1.8 0-3.9 .3-1.9 .1 1.1 0-.4 .3-.6 .1 5.6 .5-5.1 0 .8 .5-.7 0 2 0 1.7 .1-2.3 0-2.3 .1-1.3 .2-.3 .1 1.7 .1 1.2 .1-5.4 .3 7.6 0-3.1 .1-2.4 0 3.4 .2-3.5 0 2.3 .1-4.7 0 0 .1 1.9 0-1.6 .1 5.8 0-7 0 5.1 .1-2.6 .1 1.5 .1-.1 0-2.2 .4 3.3 0-5.3 .1-.8 .4 2 .1-1.1 0 4 .1-2.3 0 .8 .1-.1 0-1.9 0-.7 0-1.2 .4 0 0 1.6 0-3.7 .2 2.6 .2-2.8 .2 3.7 .2 .4 .1-2.2 .1 1.3 0-1.5 .1-2.6 .1 5.3 0-3.4 .2-2.5 .8 .6 .4 3.8 0-2.1 .1 1.3 .1-3.4 0 .8 .1-1.4 .2 2.6 .3-1.7 .1-3.1 0 .9 .1 5.3 0-2.8 .3-2.1 .1-2 0 2.5 .2 .9 .1 .8 .1-3.5 .1 1.5 .6 1.4 0-1.5 .1 1.4 .3-.1 0 1.6 .3-.8 .1-5.1 0 6.3 .1-.8 0-2.8 .1-.3 .7 1.4 .2 .4 0-2.2 0 1.1 .1-.8 .1-3.1 0 4.8 0-3 0-16.2 .2 17.1 .2-22.3 .1-1.3 0-.6 .1 6.9 .2 18.6 0 34.3 0-56.7 0 .5 .1 56.8 0-4.1 0-43.5 0 46 0-5.6 .1-29.6 .1-14.3 0 16.6 0 23.6 .1 2.4 0-2.2 .1-1 .1-7.6 0 6 0-25 0-11.5 .2 10.3 0 3.9 .1 5.8 0 22.9 0-17.1 .1-10.8 .1 12.5 .1-7.4 .1 17.8 .1-30.5 0 10.6 .1-56.4 0 44.8 .1-43.8 0 49.3 .1 17.5 .1-6.1 .1-2.9 0 2.7 .2 0 0-14.7 0-.2 0-1.8 .2-46.7 .1-.1 .1 28.5 .1-1.3 .1-21.6 .1 1.9 .2 22.6 0-2.1 0-5.9 .1-9.5 0-12.7 0 14.7 .1-5.4 .1 15.1 .2-2.9 .1-13.5 .1 24.2 0-19.3 0-2 0 3.3 .2 15.2 0-6.6 0-7.6 .1 14.1 0 2.3 .2-2.2 0-4.4 .3 10.1 .2-.4 .5 48.8 .1-2.2 .2-9.2 0 1.6 .2 17.1 .1-19.8 0 1.4 .6 2.8 .2 5.1 0-9.1 .2-1.2 .1 20.6 .1-4.8 0-15.9 .1 19 0-10.4 .2-2.8 0 5.8 .2 2.5 .1-4.3 .1-2.5 .3-1.2 .3 6.9 0-13.1 0 1.2 .7 6.1 .1 4.4 .1-10.9 0 19.2 .1-17.1 .2 16.7 .1-4.8 .1-13.9 0 5 .1 8.2 .1-9 .2 4.7 0-6.1 .1-.7 0 12 0 5.3 .1-7.8 .3-4 0-6.9 .2 8.4 .1-7.1 .2 2.8 .1 14.3 0-19.7 .2 8.1 .1 3.4 0 2.6 0 4.6 .3 2.1 .2-8.4 .1 4.5 0-.8 .3 .8 0-1.2 .1-16.5 0 10.1 .6-5.4 0 8.6 .2 4 .2-16.2 .1 3.7 .1 7.6 0-1.8 .1 1 .4-.5 .2 9 0-5.9 .1-8.5 .5-1.7 .1 5.2 .1 7.3 .1-6.4 .1 6 0-10.6 .2-2.8 0 3.9 .1 .3 0-.2 .1 3.1 .2-10.1 .1-3.7 0 22.1 .3-4.5 0-19.2 .1 26.2 0-20.8 .1 17.4 0-16.3 .2 14.9 .1-12.6 .1-.1 .1 6.3 0-7.7 0 1.4 .1-8.9 0 13.5 .1-6.1 0 12.4 .1-8.1 0 9.9 .1 4.2 .2-17.9 .4-11.6 0 5.2 0 4.8 .1 2.8 0-9.1 .3 5.9 .1-5.2 .1 6.7 0 2.2 0-5.2 .1 5 0-10.3 .1 8.7 0-10.3 .1 8.8 0 .2 .1 6 0-6.5 .3 2.5 .1-4.1 .1-2.6 .1 .3 .2 10.3 .1-4 0-3.3 .2 1 0-5.4 0-4.8 .1-.1 0 15.7 .1-5.9 0 .8 .1 .8 .1 2.7 0-3.3 .2-4.5 0 3.1 .1 6.5 .1-2.6 .1-3.5 .3 1.8 0 5.2 .3-8.3 0 1.5 .4 .6 0-.5 .1-.1 .1 4.7 .1-8.5 .1 9.4 .5 1.4 .1-4.1 0 4.8 .3-1 0-1 0 .3 .1-.8 .1-4.2 0 6.1 .1-2.5 .2-7.1 0-.8 .1 10.9 .2-3.1 .5 .2 .1-3.8 0 4.5 .1-2.5 0-1.4 0-1.4 .1 5.4 .1-1.5 .3 2.5 0-7 .1 1.5 .1 3.4 .1 1.3 .1-1.6 .1-1.8 .1 4.1 .3-3.3 0-5.2 .1 4.9 .1 2.5 .2 2.9 .2-7.9 .1 2.1 0 3.3 .1 1.9 .1-1.5 .2-6.1 .1 2.5 .3 5.5 .1-5.3 0 .7 .1-5.2 0 4.3 .1 1 .1 4.7 0-12.4 .1 7.9 .1-.4 .1-2.8 .1 4.4 .1-5.7 .1 2.2 .1 1 .1 .6 .1-1 0 5.8 0-1.9 .1-3.4 0 1.2 .1-6.2 0 4.9 .1-3.4 .1 7.7 .1-10.9 .1 3 .2 7.4 .3-4.4 0 3.3 .1-5.2 .1 1 0 2.6 .1-3.2 0 2.8 .1 3.9 .1-3.7 0 .6 0-2.9 .1 17.2 .1-22.6 .1 8.9 0 5.1 .1-10.6 0 3.7 .1-.3 0 8.6 .1 3.3 0-17.3 0 13.9 0 8 0-12.1 .1 2.6 0-7.3 0-7.9 0 24 0-10.9 .1-3.9 0-2.8 0-3.9 .1 5.3 0 15 .1-13 0 9.6 .1-13.2 0 17.4 0-16.2 0 21.9 .1-19.3 0 14.1 0-8.7 .1-13.9 0 23.5 .1-.4 .1-6.2 0-.6 .1-11.4 0 5.2 0-.7 0 9.9 .1-16.8 0 2.8 0 7.4 0-10.4 .1 2.6 0 18.3 .1 2.6 0-17.2 0 17 0-27.4 .1 7.7 0 8.6 0-10.3 0-3.1 .1 7.8 0-8.6 0 24.7 .1-2.7 0-3.6 .1-.8 0 6 0-4.7 0-8.7 0 7.9 0-6.7 0 9.4 0-7.8 0-6.8 .1 10.2 0-7.1 0 5.4 0 4.6 .1-10.9 0 14.1 0-17.1 0 12.8 0 3.5 .1-3.6 0-12.5 .1 19.2 .1-1.4 0-6.3 0-2.4 0-.3 .1 14.9 0-24.3 0-3.1 0 21.5 .1-11.1 0 1.1 0-5.2 .1 0 0 2.8 0 16.4 0-2.7 .1-14.7 0 13.6 0-16.6 0-3.6 0-1.8 0 4.3 .1 15.2 0-21.4 0 11.4 .1 1.3 0 9.4 0-5 0-2.1 0 2.1 0-5.4 .2 7.8 0 2.8 0 1.3 0 .1 0 4 0-4.6 0-3.6 .1-18.1 0 26.1 0-5.4 0-15.9 0 8.1 .1 6.2 0-7.6 0-.4 0 4.2 .1-1.6 0-1.9 0 15.6 0-17.7 0-3.7 .1 2.3 0 1.2 0 10.9 0-11.3 0-77.9 0 84 0-1.2 .1-6.9 0-7.6 0 23.1 .1-12.9 0-1.2 0 13.5 0-7.7 0 4.3 .1-3.3 0-3.7 0 1.4 .1 8.4 0 1.5 .1-2.1 0-10.6 0-10.6 0 11.5 0 6 0-10.4 0 9.2 .1 5.8 0-4.2 .1 4.2 0 .6 0 2.2 .1-7.8 0 10.1 0-16.2 0-1.6 0 15.8 0-20.8 .1 16.1 0 6 .1-16.2 .1 12.3 .1 1.3 0-13.2 0 11.8 .1-8.1 0 6.5 0-4.2 .1 4.4 0-4.2 .1 9.6 .1-6.3 0-9.2 .1 5.9 0-4.1 .1 8.5 0-9.3 0 4.4 .1 5.1 0-3.2 0 2.5 0-4.1 .1 3.2 .1 3.6 0 1.9 .1-6.5 0 5.4 .1-16.2 .1 9.4 .1-1.4 0 5.5 0-1.1 0-3.7 .1 6.2 .1-15.1 0 1.6 0 9.6 .1 7.9 0-10.8 .1-2.3 0 2.4 .1-1.7 .1-3.1 0 1.4 .2-4.6 0 10 .1-1.9 0 9.3 0-9.5 0-.8 .1 8.4 .1-16.8 .1 1.6 0 2.1 .1-3.2 .1 7.3 .1 3.7 .1-4.1 0-4.2 .2 3.3 .1-4.3 0 .2 .3-1.4 .1 9.8 .1-1.7 .2-4 .5 2.3 .1-2.2 .1-3.2 0-.3 0 4.4 .1-5.2 .2-2.8 .1 5.3 0 5.6 .1-11.2 .2 10.4 0-13 .1 12.9 .4-5.9 0 5.5 .1-8.1 0 2.5 .1-2.1 0-5.1 .2 11.1 .1-7.6 .2-1 0 3.1 0 7.2 .2-10.7 0-.5 .2 6.6 .1-7.6 0-1.4 .2 7.3 0 0 .3 3.9 0-3.9 0-5.1 .1 7.1 0-2.2 .3-1 0-.1 0 .2 .1 6.3 .1-8.1 0-.6 0 2.4 0 .9 .1-3.8 .1 3.9 .1-4.6 .1 .5 0-1 .1 6.2 0-1.2 .1-6.7 .1 3.1 .1 1 .2 .8 .1 2.1 .1 .4 0-.9 .4-1.4 0 2.6 .4-3.2 .1 3.2 .3-2.1 0-5.5 .2-2.1 .3 11.1 .1-15.3 0 5.7 .1-2.8 .2 2.2 .2-.8 .1-3.2 .4-1.3 0-7.3 .1 7.1 .1-3.1 0 2.2 .2 10.3 .1-19.1 .1 3.8 .1 6.4 .1-2.1 0 .7 0-1.4 .1-2.5 0-2 .1 24.3 0-20.2 0-7.2 .4 3.5 .1-29.7 0 26.4 .1 .9 .1 1.1 .1-3.2 0-2.7 .1 4.3 .2-3.1 0-2.7 .2 4.1 0-3.6 .1-2 .1 .6 .1 .2 .3 2.9 0-1.6 0-.8 .1 1.3 0 2.2 .1-1.8 .1-2.7 0 3 .1-3 .1 3.1 0-.1 .1-1.2 .3-3.2 .3 1 .1 .9 0 .7 .1-4 .1-1.1 .1 3.4 .4-1.3 .1-.2 .1 1.7 .1-4.2 0 4.5 0-3.5 .1 3.9 0-1.9 0 .5 .2 1.4 .2-1.3 .1 1.3 0-.4 .4 .1 .1 .6 0 .1 .3-.1 0 2.3 .1-8 .1 3.7 0-1.5 .3 1.4 .1-.8 0 4.7 .1-.6 .6-3.5 0-1 0 2.7 .1 .1 .1-1.9 0 .2 .1-.4 .4 3 .1-.7 .1-.5 .1 .3 .2 1 .1-3.9 0 3.7 .2-.5 .1-3.7 .6 .2 0-.5 .3 2.1 0-4.8 .1 .8 .1 5.3 .1-1.4 .2-1.2 0-3 .2 4.5 .1-2.9 .1 .7 .2-4.2 .1 2.2 .1 2 0-.5 0-1 .1 4 .1-3.3 .4 .1 .2-3.1 .1 2.9 .1-.6 .3-.8 0 2.6 0-.1 .1-2.5 .2 0 .6 2 .1-4 1.1 3.1 .1-.4 .1 1.3 0-4 .1 1 0 0 .1-1.7 .1 .5 .1 .3 .2 2.2 .1-.4 0-2 .1 3.1 .7-2.9 0 .6 .3-1.5 0 3.3 .2-4.9 .1 1.7 .1 .2 .2-1 .1 4.5 .1-.9 .1-3.7 .1 3.1 .2 .2 0-.8 .1-.5 0 1.4 .2-3.9 0 6 0-2 .2 .1 .1 .5 .2 1.3 0-2.7 0 6.1 .1-14.8 0 15.3 .1-7.6 .1 3.9 .1-2.2 0 4.8 0-2.7 0-4.5 .1-8.8 0 13.1 0-2.5 .1 4 0-4.8 .1 3.4 0-3.1 .1-13.4 0 18.6 0-18.2 .2 14.4 0-14.6 0 16.5 .1-.8 0-18.1 .1 21 0-22.2 0 17 0 .9 .1 6.2 .1-24.1 0 .3 .1 15.5 0 5.3 .3 2.1 0 .4 .1 41.3 0-66.5 .1 21.9 0 1.3 0 42 .1-.1 .1-67.9 0 69.2 .1-42.7 .1-34 0 3.6 0 1.8 0 68.8 .1-73.4 .2 .6 0 75.2 0-78.8 .3 .1 0 75.9 .2 1.2 .1-1 .2 2.3 .1-3.3 .2-1.8 .1-1.9 .1 5 .1-.6 0-1.1 .1 2.1 0-2.6 .3 2 .1 1.9 0-1.3 0-.6 0 .6 .4-3.1 0 2.7 .1-6.2 .2 7.2 .4-2.7 .1-2.7 0 1.1 .8 .7 .1-1.7 .1 .6 0-.4 .1-2.8 .3 6 .1-1.6 0-4.7 .1 3.6 .1-3.1 .1 2.1 0 1.7 .3-4.5 .1 3.9 .1 1.2 .1-4.2 0 3.4 .1 .3 0-3.7 .2 .5 .2 .7 .4 3 0-3.8 .2 2 .6-3.2 .3 .1 .2 3.7 .3-4.6 .1 1.9 .1-.1 .3-.5 .2 3.4 .3 .1 .3 .3 .4-.2 .1 .1 .2-.5 .9-.4 .5-3.3 .1 1.9 .4-.7 0 .6 .1 .5 .1-1.8 0 1.2 .1 1.2 .1-2.6 .4 .1 .1 3.1 0-.3 .3-1.4 0 .7 .1-3.5 0 3.2 .2-1.9 .2 4.2 .2-1 .3-1 0-1.6 0-1.7 .1 3.5 .2-4.3 .2 2.8 .1-1.1 .3 1.7 .2-1.3 .2 .7 .5-1.5 0-1.9 .1 2 0 3.8 .2 .1 .2-4.5 .6 5.6 .2-3.3 .1-1.7 0-.1 .5 1.7 .2 3.1 .6-2.9 .2 1.1 0 0 .1 .9 0 .8 0-3.2 .2 1.7 .4 1.8 .1 .6 .3-4.8 .1 0 0 1.5 .1 3.3 .6-5.1 .2 5.1 .1-3 .2-.3 .1-1.3 .2-.3 .1 2.5 .4-3.2 .1 3.8 0 1.5 0 .2 .2-.5 .3-.4 .1 .7 0-1.1 .5 .2 0-2.1 .2 .9 .4 2.5 .1-3.2 .1 3.4 .4-2.8 0-.6 .1 0 .1 1.8 .2-1.4 0-.4 .6-.6 .1-.2 0 1.4 .1-.4 0 2.6 .2-3.3 .2 4.8 .1-3.3 .4 2.4 .1 .8 .1-1.5 .2-3.2 .1 5.6 .5-2.6 0 4.4 .1-7.3 0 7.6 0-3.8 .3 3.7 .1-2.8 .1 .1 0 2.8 .2-5.1 .3 .4 0 4.1 .1 .5 0-1.6 .1-2.4 0 1.8 .3-2 .1 1.5 .2 .6 .6-1.2 .2 1.3 .1-1.7 .2 .3 .1 1 .3-2.6 .2 4.2 .3 .6 .3 .5 .3-.6 .1-3.5 .1 .6 .1 2.5 0 .2 .1-3 .1 2.9 .1-.3 0-.9 0 1.5 .1-1.3 .5 .3 .3 2.2 .4-.9 .2-1 .3 1.1 .2-2.5 .1 .1 .2 3.2 .4-2.6 .1 1.9 .1-2.2 .1-.1 0 1.1 .3 .6 .1 3.2 .1-3 .2-.3 .3 3.7 .2-1.6 .4-1.9 0-.1 .1 2 .1 .9 .2 .5 .1 0 .1-2.1 .2 .3 0-1.5 0-1.6 0 4.3 0-1.1 .2-1.4 0 .3 0-.8 .3 3.1 .2-5.4 .1 .6 .2 4.7 .3-3.3 .1 3 0-.3 0-5.1 .5 5.1 0-2.5 .3 1 .4-.1 .4-2.2 0-.4 .1 1.3 .1-.2 0 1.9 .7-1.8 .1-2.8 .1 1.1 0 1.1 .1-1.8 .3 .3 .1 2.7 .1 .2 0 .5 .2 .9 .4-3.6 .1 4.9 0-1.5 .1 .3 .3-2 .1 .5 .3 1.2 0 1.4 .2-4.6 .3 3.3 .2 .2 .2-1 .2-.2 .4-.6 .1 3.7 .1-1.9 .2 1.4 .2-1.1 0 3.2 .2-3.2 .1-.5 .1-.2 .1 .1 .4 3.7 .4-2.3 .3 2 .1 .2 0-3.4 .2 .9 .3 3.2 0-.1 .1-2.2 0 2 0-4.4 0 1.7 .1 1 .1-1.6 .6 3.7 .1-3.3 .2 .9 .2-1.4 .2 .5 0 4.5 .1-5.1 .1 4.8 0 .3 .2-3 .2-.9 .1 .3 .2-1.3 .3 .3 .1 3.1 .1-3.5 .3 3.4 .3 1.1 .1-4 .1 .6 .1 4.5 .4-3.8 .1 1.5 .6-4.6 .1 1 .2 0 .3 2.8 .3-1.7 .2 2.1 0-.7 0-2.2 .1-2.2 .2 4.5 0-2.9 0 1.1 0-1.3 .1-1.7 .1 5.1 .1-1.9 .4 1.3 0-2.8 .1-1.8 0 5.4 .4-3 .4 .2 .2 2 .2-.1 0-1.3 .2-2.8 .3 1.5 .1 3 .3-2.6 .3 .2 .1 1.1 .1-4.4 0 3.8 0-3.2 .5 2.9 .3-2 .2-.4 .1 1.8 0 2.3 .3-1.6 0-2.4 .1 3.2 .1-1.8 .3-1.5 .1 .7 .3-.3 .7 4.9 .1 .2 .1-.7 .1-3.8 0 1.2 0-2.3 .1 1 0 3 .1-2.3 .1 2.5 .1 .5 .1-.2 .3 0 .1-2.2 0 3.1 .1-1.6 .2 1 .1-3.3 0 1.7 .1-.4 0-2.4 .3 2.4 .2 .7 .1 .3 .1 .9 .1 1.2 0 .4 .2 .5 .2 .2 .4-2.4 0 .8 .1 2.9 .1-3 .1 2.5 .2-2.3 .1-1.8 0-.5 .1 2.6 0 .8 .1 .8 .1-2.8 .2 2.1 .1-4.2 .3 2.7 0 3.1 0-7.6 .1 3.4 .1 1.3 .2-2.5 .1-1 0 6.4 .1-5.4 0-3.5 .1 5.1 .2 1.5 .1-1.9 .1-4.8 .1 4.8 0-.6 0 .1 .1-.3 0 .1 0 3.4 0-1.5 .1 1.1 0 1.3 .1-5.8 0 1.9 .1-1.3 0-4.5 .1 7.7 .1-3.5 0-2.8 .2-3.1 .1 3.4 .1 1 0-3.5 0 2.9 .1 5.4 .1-9.8 .2 9 .1-6.1 .2 3.3 .3-4.5 0 1.7 0-1.4 .1 .4 0 1.3 .1 1.3 0 .5 0-4.9 .5 2.6 .1-.5 .1-1 0 3.1 .3-2.4 .3 .2 0 1.7 0-1.1 .3-.2 .1 5 .1-1.3 .2 .9 0-6.1 .1 5.2 0 1.4 0 1.9 .1-6 .1 .3 0 7.2 .1-6.9 0-.9 0 2.4 0-1.4 .1 .6 .1 .5 .1-84.6 .1 90.7 0-4 0 2 .1-90.7 0 82.1 0-82.3 .2 88.2 0 3.3 0-3.3 0-85 .1 89.4 .1-2.8 0-89.5 .1-.9 0 93.6 0-8.9 .2 6.1 0-.3 0-90.8 0 83.8 .1 9.8 0-2.4 0-91.3 .1 88.2 .1-1.8 0 4.1 .1-89.2 .1 89.6 .1 3.6 0-4.4 .1 4.5 .2 1.1 .1-3.2 .1-.7 .1-.5 .1 1.8 .1-1.1 .1 1.7 0-1.5 .1 3.1 .1-.5 0-91.1 .1 88.6 .1-92.3 .2 91.6 0 2.9 0-91.7 .3 90.4 .2 .3 .2-90.4 0 91 0-.2 .1-.7 .2-91.9 .2 26.3 0-19.8 0-3.6 0 26.3 .1-20.3 0 20.4 0-4.4 0-11 0 11.5 0 4.2 0-30.5 .1 3.2 0 25.5 0-23.4 .1-3.7 0 25.6 0-13.3 0-13.3 0 28.9 0-21 .1-6.5 0 1.9 0 3.9 0 18.5 .1 65.7 0-61.5 0-27.4 0 24.6 .1-24.4 0 28.8 .1 63.5 .1-62.4 .2-23.6 .1 12.9 0 4.9 0 66 0-71.7 .1 7.6 0-6.1 .2 .5 .1 5.3 0-15.6 0 16 .1-9.4 .1 72.2 .1-14.8 0 2.5 0 2.2 .1 .5 0-65.2 0-2.9 0 .7 0 1.2 0 64.9 .1 11.8 0-5.5 0-2.8 0-66.3 .1 62.9 0 8.9 .1-12.8 0 6.3 .1 8.6 0-3.5 0-10.5 .1 10.7 0-5.6 .1 6 .1-3.8 0 7.2 0-2.9 .1 2.4 .5-3.3 0 3.1 .1 1.9 .1-1.4 0-3.1 .1 3.8 0-5.9 0-3.2 0 6.7 .1 2.3 0-2.5 .1 1.3 0 1.6 .1-9.3 .1 6.9 0-7.3 .1 2 0 2.8 .1-7.9 0 8.3 .1-.1 0-8.5 0-.6 0-2.1 .1 12.8 .1-4.5 0 4 0-.5 0-4.8 0 5 0 1.6 .1-10.4 0 4.4 0-2.8 0 7.6 0-2.3 0-.7 .1-1.8 0 5.2 0-8.7 .1 .8 0 3.6 0-10.8 .1 13 0 1.8 0-15.1 .1 5.1 0 11.5 0-6.1 0 1.8 0-13.7 .1 14.9 0-7.3 0 5.9 .1-9.3 0 6.9 0 4.2 0-15.2 0-1.4 0-.8 0 13.4 .1-9.6 0-6.5 0 8.3 0-1.5 0 4.8 .1-1 0-7.5 0 2.4 .1 6.1 0-1.3 0 4.7 0-4 .1 5.9 0-8 0-.2 0-6 0 13.1 .1-.9 0-3.7 0-3.9 0-7.9 0 11.9 0-3.8 0-1.9 .1 .8 0-4.5 0 .8 0 4.7 0-2.8 .1-1.4 0 5.3 0 5 0-8 0-10.4 0 5.2 0 2.2 0 12.3 0-17.5 0 4.3 .1 2.8 0 11.8 0-6.9 0-3.4 0-1.1 .1-3.4 0 12 0-13.5 .1-1.3 .1-.3 0 3.2 0 3.8 0-13.3 0 10.7 0-1.7 .1-6.7 0 13.8 .1-9.3 0 3.8 0 8.8 .1-1.3 0-10.9 0-7.3 0 14.9 0-9 .1-14 0 21.5 0-6.4 .1 3.6 0-2.2 0 2.8 0 .9 0-6.4 0 8.8 .1-1.8 .1-26 .1 15.5 0 4 0-2.4 .1-15.8 0 23.2 0-27.5 0 15.8 0-10.9 0 20.8 0 3 .1-9.6 0 .4 0-9 0 11.9 .1-16.9 0 4.3 0-2 .1-2.2 0-.3 0-1.3 0 18.6 0-21.5 0 7.2 0-3 0 .9 0 18.8 .1-14.7 0 6.3 0-14.9 .1 3.3 0-4.1 0 7.6 0-9.7 0 19.4 .1-4.4 0-7.3 0 5.2 0 1.6 .1-14 .1 21.4 0-19.1 0 16 0-16.5 .1 19.5 0-8 0 6 .1-2.4 0-18.7 .2 20.8 0-13.1 0 1.3 0-4.3 0-2.6 .1 14.3 .1-4.2 0-16.3 0 8.2 0 8.5 .1-22.9 0 28.7 0-12.6 .1 11.7 0-16.8 .1 9.8 0-6.6 .1-13.3 0 22 0-8.3 .1 4.3 0-5.9 .1 5.4 0-12.2 0 7.6 0-7.8 .1 9.6 .1-10.9 .1 7.1 0 0 .2-2.6 0-3.6 0-.2 .5-33.8 .2 29.5 0-3.3 0 10.1 .1-36.5 0 4.5 .1 26.2 0-3.7 .4-23.1 0 34.8 .2-6.2 .1-3.4 .5 7.8 0-1.3 .1 5.6 .1-5.6 0 1.4 .1-6.6 .5 3.9 .1 8.3 .1-1.2 .2-4.7 .2 2.9 .1-5.7 .2 1.1 .4-.8 0 9.1 .1-16.9 .6 8.3 .1 6.1 .2-13.5 .1 6.7 .1-2.6 .1-3.6 .1 13.9 0-5 0-5.3 .1 7.5 .5 26.2 0-9.9 .1-1.7 0 12.5 .1-10.8 .1 6.4 .1 23 0-8.2 .1-71.7 0 52.5 0 16.6 .1-1.7 0 1.6 0-21.6 .1 19.7 0-8.5 0 2.6 .1-4 0 20.7 0-23.5 .1 26.6 0-14.8 0-14.8 .1-52 0 52.1 0 20.3 0 9.6 0-34.7 .1 23.8 .1 13.4 0-6 .1-10.1 0 7.8 0-6.6 .1 12.5 0-14 0 13.6 0-28.7 0 18.6 0-1.1 .2-12.2 0 26.8 0-10.7 .1 3.1 0-14.1 .1 11.2 0-.2 .1-12.6 .1 21 .1 .4 .2-19 .2 8.7 0-10.4 0 1.7 .2 14.5 .2-15.7 0 15.8 .1-4.9 0-11.3 .1 12.6 .1-7.8 0 14.6 .1-1.6 .1-14.6 .2 5 0 0 0-1.8 .1 14.6 0 .8 .1-4.1 .2-.6 .4 1.6 1.8-44.4 .3-1.8 0 3 .1-1.6 .1 .3 .1-1.1 0 .7 .1 1.2 .1-2.8 .2-2 0 3.3 .1-2.1 .1-1 .1-1.8 0 0 .1 4.1 .1-6.6 .1 6.1 0-5.8 .1 .5 0 1.9 .1 1.5 0 1.6 .1-6.3 .2 .6 0-.1 .1 0 .2 4.1 0 2 .1-2.9 0 2.1 0-2.8 .1-1.7 .1 1.9 0-3.4 .1 .7 .1 3.8 0-3.1 .1-1.3 .1 .3 .1 2.8 .2-2.1 .1-2.7 0 4.1 .1-.7 0 17.9 .3-20.1 0 31.4 0-1.1 .1-6.8 0 .1 0 1.6 0 7 0-2.1 .2 5.2 0 1.3 0-13.3 .1 7.4 0 6.3 0 13.5 .1-9.8 0 8.6 0-29.2 0 29.8 .1-28.4 0 37.5 .1-27.3 .1-8.7 0-.4 .1 20.3 0 13.7 0 .3 .2-28.7 0 9.4 0 5.3 .1 8.2 0-11.7 0-.5 .1 6.6 0 .4 .1 3.7 0 3.1 0 5.3 .2-10 0 11.1 0-2.6 0-1.4 0-2.6 0-87.5 .1 95.2 .1-5 0-89.7 0 92.9 .3-4.2 0 3.5 .3-4.8 0 5.2 .1 1.6 .4-6.1 0-.5 0 4.3 .2 .7 .2-2.8 .1-2.3 0 4.2 .1-.3 .2-3.6 .1 .2 0-3.4 .1 2.7 .1 6.6 0-2.2 .1-4.6 0 5.6 .2-7.7 .3 .7 0-2.8 0 7.6 .1-1.5 0-1.3 .1 1.7 .3-3 .1-.6 .4 5.2 0-5.4 .2 2.9 0-1 .2-.1 .1-2.1 0-.6 .1 4.8 .1-2.9 .1 .9 0-3.2 .1-2.6 .2 4.9 .1-3.1 .2 2.8 .1-4.2 .2 1.7 0-3 .1 2.9 0 1.2 .1 0 0-1.8 .1-1.2 0 .8 .2 4.5 .1-5.2 .1 0 .6-.5 .2 2.1 .4-4.4 .2 3.4 .2-.4 .3-.7 0 2.5 .6-1.1 0 .4 .3-2.4 .1 .4 .1 .4 .1-.8 0-.5 .2 .5 .1 2.7 0-.2 .1 4.3 .2-3.5 .1 .4 .1-1.9 .1-1.1 .1 1.4 0-1.1 .1 2.2 .4-1.4 .1 3.4 0-.7 .1 .4 .1 2 .2-4.6 .3-.9 .1 3 .2 1.2 0 2.1 .2 1 .3-4 .2-.7 0-1.6 .1 5.4 0-.7 0 .4 0 1 .2-1.3 0-2.7 .1 1.8 .1 3.3 0-4.6 0 2.8 0 3.5 .1-3.8 0-3.5 .2 3.4 0 1.7 0 .6 .3-1.4 0 2.3 .1 2.7 .2-1.8 .2-6 0-1.9 .1 5.7 0 2 .1 3.3 .1-3.4 0 0 0-2.9 .1 .6 0 4.6 .1-3.2 0 1.7 .1 .1 .1 .5 .1-4.3 .1 0 0 5.9 .1-5.5 0-91.7 .3-.1 .2 92.4 .2 5.1 0-2.7 .1-3.2 .1 .1 .1-1.4 0 4.9 .2 1.2 0-10.4 0 5 .1 2 0 1.3 .2-6.3 0 4.6 .2-4.5 0 2.6 0-.9 0 3.1 .1-2.1 0 1.3 .1 4 .1-1.5 .1-2.1 0 2.6 0-3.1 0 4 0-7.7 .3 2.5 0-3.1 0 6.1 .1-8.1 .1 7.1 0-5 .1-3.8 .3 10 0-2.1 .1-1 0 .1 .3-.4 .1 2 .1-3.6 0 .1 .2-1.1 0-.3 .1-2.8 0-.2 .1 2.8 .2-.1 0 3 0-6.4 .1 3.5 .1-.7 0 2 .2 0 .1-3.7 0 1.3 .4 5.7 .2 1 .1-2.9 0-2.4 0-1.3 0 6.9 .3-6 .1 1.8 .2-1.1 .1 .7 0 3 .3-2 .1-3.4 .3 4.4 0 2 0-2.8 .1-.2 .1 1.4 0-3.9 0 9.1 .2-1.7 .1 .9 .1-5.2 .1 3.7 .3 1.1 .1-5.2 0 3 .2-2.6 .4 4.6 .2 .8 .1-2.1 0-.2 .4-1.3 .2-.2 .1-1.3 .2-.7 .3 1.9 .1 1.1 0-3.2 0 2.2 .1 3.5 .2-2.7 .1 1.2 0-1.8 0-.8 .3-.2 0-2.4 0 2.2 .2-3.2 .2 .9 0 5.1 .1-.4 0-6.5 .1 .1 .1 5 0-1.9 0 2.6 .1-5.7 .1 3 0 3.8 .2-5 .2-2 .1 1.3 0 1.4 .1-3.4 .1-2 0 4.8 .1 4.1 0-3.5 .1-1.6 .5 2.9 .3-3.1 0 .5 .1 .9 .1-1.7 .1 1.4 0-.7 .1 .7 .1 1.1 0-1.7 .3-.6 .1-1.1 0 3.5 .1 .4 0-.7 .2 3.1 .1-4.1 .1 4.4 0-.7 .1-5.3 .1-84.7 .1 86.4 0-86.7 .1 86.2 .1 1.1 0 4.3 .4 .8 0-1.2 0-.5 .3-2.5 0-2.4 .3 .1 .2 3.9 .2-2.3 0 2.6 .1-.1 .2-3.4 0 .9 .1 1 0 1.7 .1-1.2 .1-1.2 .5 1.1 .1 .7 .3-2.2 0 1.4 .1-2 0 4 .3 0 .1-4.5 .3 2.2 .2 2.1 .2 1 .1-1.9 0 .4 .2-.3 .1-2.5 .1 .8 .1 3.1 .2-4.6 .2-.5 .2 0 .1 5.5 .2-1.2 0-1.3 0-1 .2-.8 .1 3.5 0-2.8 .1-1.6 .1 2.6 .2-1.8 0 .5 .1-3.4 0 2.6 .2 .1 .1 .2 .1-1 .2 1.1 .1-3 .1 5.8 .2-5.7 0 2.1 .3-4.5 .2 7.3 .1-1.1 .1 .4 .2-2.5 .3 .2 0-.4 .1-2 0 .6 .1-3.2 .3 2 .1 4.1 .2-1.6 .1-5 0 .6 0 5.3 .1-2.2 0 .4 .1-.7 0 2.7 .2-5.3 0-.4 .1 4.5 .2-4.3 .1 .1 .1 3.5 .1 .9 0-2.1 .1-.5 .2 5.7 .1-5.3 0 2.5 .2-3 .2-.3 0 1.6 0-.2 .2-.5 1 .3 .1 1.1 0-4.7 .1 2.1 0 4.6 .2-1.5 0-.6 0 3.1 .2-4 0-3.3 .1 3.2 0 1.7 0-5.4 0 7 .1 .7 0-3.2 .3 3.1 .1-.7 .1-5.2 0 3.5 .1-1.2 .1-2.5 0 1.1 0 1.6 0 2.3 .1 .3 0 .9 .3-2.3 .2 0 .1 2.8 .1-.9 0-5.3 .1 7 0-8.9 .1 10.2 .1-1.5 0-7 .1 1.9 .2 2.5 .1-2.2 .1 5.9 .1-1.7 0-.8 .2-6.8 .2 6.8 .1 4 0-6.4 0 4.2 0-3.6 .1 3.8 0-3 0 1.5 .1-3 .1 4.6 .1-2.7 .2 2.1 0 .5 .2-.6 0 4.1 .2-2.1 .1-2.3 .1 1.2 .2-2.6 .5 2.4 .2 3.4 .1-4 .1 .6 .2-1.7 0 3.6 .5 .5 .9 0 .1-4.2 .1 4.2 0-3.4 .1 2.9 0 1.1 .3-1 .2 1.9 .3-4.5 .1-1.9 .2 3.4 0 .8 .1-.3 .4-.6 .3 .2 .1 .4 .1 .6 .1-2.2 .2 3 .1-3.9 .3 4.3 0 .1 .1-2.8 0 .2 .3 2.3 .4-3.8 0-1.4 .2 4.5 0-3.1 .1 .2 .1-.8 .1 .8 .2 2.5 0-2.1 .1 .1 .2-.3 .2-3.1 .1-.7 .1 .8 .7-.5 .1 4.5 0-3.1 .1-2.6 .2 5.3 .1 1.2 .1-6.1 .1 2.1 .4-1.4 .1 0 .3 .8 .1-.5 0-.6 0 3.4 0-4 .1 5.3 .2-.3 0 .8 .1-3.1 0-3.3 0 6.1 .2-4 .2-.1 0-3.1 .1 4.5 .1-.8 .2 4.1 0-5.4 .2 5.9 0-5.6 .2-2.2 0 2.8 .1-2.8 0 7.3 .2-6.1 0 .7 .2 4.9 0 .4 .1-3.4 0 2 .1-1.1 0-1.1 0 .3 .1 3.9 0-5.5 .1-.3 .1 4 .1 .4 .2 1.4 .2 1 0-.8 .1 .4 .3-1.4 0-1.3 .2-1.4 .2 4.5 0-.3 0 0 .2-1.6 .2-2.1 .1-88.8 .1 .5 .1 92.7 .1-3.4 .3 3.3 .1 1.2 .4 .7 .1-1.8 .1 1 0-3.4 0-.7 .1 4.3 .1-2.1 .2 .8 .9-.4 0-2.8 .2 3 0-1 .1 2 .1 1 .2-4.1 .3 2.2 0-1.8 .1-1.1 .2 5 .3-5.7 .1 3.5 .3-.7 0-1.1 0-1.2 .1-.4 .1 .9 .4-1.5 .1 5 .2-1.7 .1 1.9 0-3.7 .2-.6 .3-.7 .2-.4 0 4.6 .5-2.1 .1-.3 .2 1.7 .1 .3 .1 1.9 0-3.9 .4 .1 .2 .1 .1 2.2 .3-1.2 .1 1.8 0-3 0-.9 0 .6 .1 4.1 .5-3.3 .1-.2 0 1.7 .1-3.1 .1 4.7 .1-5.3 0 2.1 .1-.9 .1-2.3 .3 3.5 .1 1.5 .1 .5 .2-4.2 .1 2.1 .2 1 .1-.8 .1-1.1 .3 1.4 0-.5 .1-1.8 .2 1.8 .1-3 .2-2.3 .1 2 .1-2.3 .1 5.2 0-5.6 .1 2.8 .3-3.7 0 4.6 .3-1 .2-2.2 .2 2.3 0-1.3 0-3.4 .1 4.1 0 1.2 .1-4.2 .5 .6 .1 .4 .1 1.6 .1-4.3 .2 1.6 0 1.4 .4 3.9 .2-.5 .1-.9 .1-3.3 0-.5 .1 2.6 .1 3.2 0-4.4 0 .2 .1 1.6 0 1.6 .5-2.5 .1 1.4 .1-3.7 .2-.6 0 3.8 .1 .3 .1-3.3 .3 0 0 2.9 .1-2.8 .1 5.6 .2-1.9 0-4.6 .1-.1 .1 5.7 .2-5 .3 2.8 .1 .8 .2-.3 .1-1.9 .1-.1 0-1.1 .2-.7 .1-.1 0 2.1 0-2.7 .1 .5 .2 3 .1-3.5 .1 .9 .2-2.1 0-.4 .2-1.1 .1 3.4 .1-1.9 0 1.3 .1 4.5 0-8.2 0-2 .1 2.7 0 3.2 .4-3.2 .1 5.5 0-8 .1 .2 .4 3.1 0-2.4 .1 6.5 .1-3.3 0 1.4 .2-.1 0-2.8 .1 2.3 0-3.5 .1 4 0 .1 .1 .7 .1 1.4 .1-1.7 .1 2.3 .2-4.5 .1-.5 .2-3.3 0 0 .1 5.1 0-1.2 0-1.9 .3 1.2 .1-3 0 3.6 .2 3.7 .1-6.1 .2 6.9 0-.9 0-3.1 .1-5 0 7.4 0 0 0-4.6 .1 4.2 .1-1.3 .2 6.1 .1-4.7 .1 .9 .1-1.9 .2-2.1 0 5.5 0 .4 .1 1.4 0-84.7 0 84.4 .1 2.4 0-87 .1 6.9 0-11.4 .1 85.7 0 1.8 .1 .8 0-2.9 .1 1.9 0-.2 .1-86.7 0 85 .1 1.7 .2-75.5 .1 79.4 0-2.1 .1-2.2 .1 2.7 .2-.3 0 1 .2-1.8 .2 1.9 0-3.3 .1-1.8 .1 2.3 .1 1.5 .4 .7 0 .6 .1-4.3 .1 3 .1-2.4 .1 1.8 .1 1 0-2.1 .1-1.4 0 2.4 .1 .4 .1 .4 .3-1.3 .1 2.4 .1 .4 .4-1.7 0-.4 .2 3.6 0 .9 .1-1.6 .1-2.8 .1 5.2 0 0 0-6.3 .1 7 0-3.3 .1-.8 .1 4.5 .2-8.7 0 2.1 .3 1.3 .3 2.4 0 1 .1 2.3 0-10 .1-.5 0-1.6 .2 8 0-3.1 0-3.4 .1 .1 0 4.7 .1-2.7 .1 3.3 0 0 0 .8 .2-5.8 0-3.8 .2 11.9 .1-46 .2 47.7 0-9.5 .1 5.8 .1-2.5 0-30.2 0 33 .1-5.8 0 3 0-28.9 0-2.8 .1 2.5 0 31 0 3.8 0-7.3 0-29.2 0 30 .1 3.5 0-33.6 0 2.9 0-1.6 0 28.7 .1 6.1 0-7.8 0-83.1 0 40.3 .1 14.9 0 29.3 0-.1 .1-46.9 0 2.5 0 48 0-48.7 0 44.5 .1-29 0-12.3 0-1.5 .1-40.8 0 46.6 .1-4.5 0 43.4 0-.7 .2-.6 .1-3.9 0-38.3 0 40.6 .2-43.3 .2-.6 .2 7.3 .1-7.3 0 6.4 .1-4.3 0 .4 .2-3.6 .1 9.1 0-6.9 .1 5.4 0 2.4 .2-1.1 0-4 .1-2.9 .1 5 .2-4.9 .1-4.6 .3 4.9 .2-2.5 .2-4.9 0 5.4 0 .8 .4-1.2 .7-2.2 0 1 .1 3.7 0-6.4 .1 1 0 1.2 .1-5.1 .2 8.9 0-.3 .1-7.8 0 6.9 .1 .9 .2-.3 .2-2.4 0-6.7 .1 9.1 .1-4.6 .1-.1 .2 .2 .1-.9 0 3.3 0-2.8 0-1.7 .1 6.2 .1-3.6 0-3.9 .1 1.6 .1 4.3 .1-.5 .2-3.2 0 1.8 .2-3.8 .1 4.1 .4-.9 .1-3.6 .5 2.8 0-.6 0-1.6 .2 2.8 0-1.2 .1-2.7 0 .6 .1 1.3 .1 .7 .1-3.3 .1 3.4 .2 1.5 0-1.7 0-5.2 .1-2.3 0 3 0 1.9 .1-3.6 0 7.3 .1-1.5 .2 3 0-3.5 0-4.8 .1 6 0-6.1 .1 5.8 .2-4 0 .6 .2 .3 0 3.7 0-3.7 0-5.6 .2 12.5 .1-10.4 .1 5.5 .1-1.5 .1-2.4 .2-1.4 0 1 .1-1.3 .1 3 0-4.1 0-2 0 5.6 0-5.7 0 2.2 .1-5.4 0 1 0 5.3 .3 7.9 .2-14.4 .1 8.8 0-3.9 0-.5 .1-3.9 0 7.5 .2-1.7 0 1.9 .2-4.8 0-4 0 4.4 .1-3.5 0-3.9 0 3.7 .1 .3 0 8.4 0-7 .1 7.8 0-7.2 .1 8.4 0-8 0 3.4 0-7.4 0 2.7 .1 1.4 0 4 0-7.1 .1 5 .1-6.6 0 7.1 .1-8.6 .1 9.6 0-3.8 0-2 0-3.8 0 4 .1-2.9 .1 8.9 0 0 0-8.7 0 1.1 .1 4.4 0 4.6 0-6.1 0 2.3 0-8 .1 2 0 5.6 .1-.8 .1 1.2 0-4 0 .1 .1-3.7 .1 4.5 .1 3.6 .1-3 0-3.1 0 2.1 .1 .9 .1 3.8 0-1.9 0-6 .1 6.3 0-.4 0-5.8 .2 12.2 .1-.9 0-9.3 0 2.9 .2 3 .1 4.6 0-12.1 0 13.8 0-7.5 .3-1 0 1.7 0 1.9 .1-5.1 0 3.9 0 6 .1 2.9 .1-1.5 0 3.5 0-4 0-1.7 0-.9 .1-1.3 .1-3.7 0-1.2 .1 15.1 .1-15.9 0 4.6 0-6.4 .1 12.5 0-6.8 0 10.5 0 .5 .1-17.5 0 13.3 .1 1.7 .1 1.1 0-9 0 12.4 0-2.7 .1-1.8 0 .6 .1-9.4 .1 9.4 0-8.8 0-.8 0 11.2 .1-11.2 0 7.8 0 3.9 .1 .5 0-4.8 .1 4 0-.7 0-.4 .1 1.5 .1-11 0 4.9 0-1.6 .1 3.3 0-3.6 .1-5.2 0 4.4 0 1.3 .1 .2 .1 8.6 .1-14.1 .1 8.8 .1-5.1 0 7.2 .1-5.5 0 1.4 0 3.9 .1 1.4 0-6.3 0-2.2 0 4 .1-3.6 .1 5.4 0 1.6 .2-.6 .1-6 0 3.2 0 5.8 0-5.3 .2 .7 0 2.7 .1-5.1 .5-1.1 .1 2.2 0 7.2 .2-12.5 .1 7.2 0-1.4 .1 5.3 .1-1.1 0-5.2 .1-.4 .1 4.2 .2-3.7 .1-3.4 0 5.2 .1-6 0 4.2 .4-6.3 0 1.4 .1 5.4 .1 1.7 0-6.9 .1 4.4 0-.8 .1-5.1 0 2.8 .2-.2 .1-3.1 .2-.2 .1 2.5 0 4.5 0-5.7 .1 2.7 .1-1.5 .1 2.8 .2-4.4 0 3.5 .1-4.4 0 .1 .1 2.6 .2 1.8 .1-2.7 0-2.3 .3-.6 0 5.6 .1-5.8 0 6.4 0-2.2 .1-4.2 .3 .3 .1 5.7 0-5.8 .2-.2 .2 .6 .1 4 .2-21.7 0 16.3 0 67.4 .1-64.9 .1-1.6 .1 67.7 0-66.4 .1 64.9 0-5.3 0-77.8 .1 14 0-.1 .1 64.4 .1-64.1 .1 4 .1 2.1 .1-2.7 .1-.4 .2-1.7 .5-3.9 .1 4.8 0 1.4 .1-3.3 .2-1.3 .2-1.4 .3 3.6 .2-3.3 0 1.3 .4-2.1 .1 63.6 0 4.2 0-3.2 .1-59.8 0 0 0 61.6 .1 1.3 .1-3.4 .1-3.5 .1 1.8 0 4.5 0 3.3 .2-2.2 0-63.1 0 55.7 .1 6.5 .1-64 0 56.4 .1-61.6 0 1.2 .1 2.1 .3 59.2 .3-60.7 .3 57.5 .1 1.7 .4-1 .1-1 .1-1.9 0-3.4 .1 4.2 .1 .7 0 .1 .1-.3 .1-6.2 .1-1.8 .3 7.8 .2-6.8 .1-2.4 .5 2.1 .2 .7 .7-5.9 .3-4.9 .1 1.5 0-14.3 0-16.6 0-.4 .1 30.7 0 3.3 .1-32.3 .1-2.5 0-1 0 35.7 0-4.5 0 2.7 .1-32 0 32.6 .1-34.8 0 34.3 0 .1 0-2 .1-31.5 0-.9 0 3.9 0 29.3 1.2-55.3 .1-.6 1.1 88.4 .1-4.4 .2 4.4 .4-8 0 3.8 .1 4.1 .1-7.2 0-1.6 0 7.5 .4 1.1 .1-64.9 .2 64.2 .1-2.1 0-63.9 .1 58.9 .2 .5 .1 3 .2-2 0 2.9 0-68.2 0 67.4 .1-90.2 0 30.1 .1-2.4 0-.9 0 1.3 0 3.4 .1-6.9 .1-1.9 .1-.4 .1-.1 0 7 .2 1.8 0-30.8 .2 26.5 .1-4.7 0 1.3 0-3.3 .2 7 0 .1 .5-1.8 0-5 0 1.2 .1-2.7 .1-3.4 0 8.1 0-5.3 0 12.6 .1-4.2 0-9.9 0 11.4 .1-9.3 0 8.5 0-2.9 0 3.2 .1-2.1 .1-5.5 .1 5.8 0-2.8 0 5 .1-5.2 0-.7 .2 .2 0-.1 0-3.9 0 9.5 .1-6.1 0 1.1 0-2.3 0 2.8 0-2.5 0 2.4 .1 6.6 .1-9.4 .2 4.3 .1-2.9 0-.7 .2 6.9 .1-11.3 0 11.4 .1-7.2 0 3.7 .3 1.5 0-7.4 0 8.3 .1-3.7 0 3.3 .1-10.6 .2 .8 0 2.4 .1 5.8 0 3.9 .1-3.9 .1-1.5 .1-3.5 .6 24.1 0-6 .1-2.5 0 6.7 .2-.8 .3-4.2 0 2.3 .2 16 0 17.2 0-15.6 .1 12.1 0 10.2 0 1.1 .1-5.6 0-10.2 0 1.5 0-3.6 0-7.4 0 1.5 .1 19.2 0 3.3 .1-8.7 0-3.4 0-10.5 0 15.6 0 1.4 .1 .4 0-16.4 0 5.1 .1 11.2 0-2.2 0 6.9 0-23.9 0 20.7 0-3.7 0-15 .1 14.8 0 .7 0 3.8 0 2.5 .1-1.8 0-13.5 0 7.5 0-16.4 0 25 .1-4.1 0 4.5 0-.1 .1-16 .8-21.9 0-.1 .1 .5 .2-.2 0-1 .1-1 0-2.1 0 2.7 .1-1.9 0-2.4 0 4.8 0-1.1 .1 1.6 0-3.1 0 3.6 .1-7 0 3.7 0 0 0-1.8 0-.3 .1-3.9 0 2.4 .1-2.8 0 2.8 0-4.4 .1 3.7 0-1.1 0 1.1 0-1.3 0 5.5 0-7.8 0 7.5 .1-.9 .1-5.1 0-1.6 .1 2 0 1.1 .1-4.2 0 2.3 0-1.3 .1 1.7 0 1.6 0 .2 0-.7 .1-6.5 0 8.9 .1-2.4 0-1.1 0-1.7 .1 4.6 0-6.6 0 4.6 0 1.1 0-7.6 0 4.1 .1 .9 .1-3.3 .1-1.2 0 6.5 0-7.6 .1 49.3 .1-.8 .1-3.4 .1 4 0 .7 .1-45.7 .1 43 0-42.2 0 44.7 0 2.3 .1-4.2 0 10.1 0-6.4 .1 .9 .1-1.2 0-1.2 0 .6 .1-1.2 0 2.4 .1 1.1 0 .2 0 4 .1-5.6 0 0 0 .5 0 2.5 .1-4.4 0-2.4 .1 .9 0-.3 0 4.5 .1-1 0 2.4 0 3.1 0-1.4 .1-8.4 0 8.6 0-3.6 .1 6 0-2.1 0-1.3 0-9.5 0 11.1 0-.8 .1-8.7 0 6.3 0-.9 .1 4.6 0-.1 0 .3 0-3.6 .1 3.2 0-2.3 0-5.4 .1 6.4 .1-2.1 0-6.3 0 5.1 .1 5 .1-10 0 .9 0 9.9 .4-1.6 .1 1.2 .1 1.9 .1 .7 .1-5.3 .1-1.5 .1 3 0 1 .2 1.2 0-3.1 .1 4.1 .1-2.5 0-1 0 3.5 .4-2.7 0-1.5 .1 1.7 0 1.8 .3-3.8 .1 4.6 0-2.6 0 1.2 0-1.1 .1 0 0-.4 .1 1.4 0-3.6 .1 5.1 0-5.6 0 6.6 .1-5.3 0 1.6 0 .2 .1 1.1 0 .5 0-3.3 .1 3.3 0-1.6 0-2.7 .1 7.7 .1-4.5 0 1.3 0 1.2 .1-2.7 0-1.3 .1 2 .1-4.5 .1 7.1 0-5.4 .1 3.3 .1-1.9 .1 1 0 3.4 0-1.6 .1-3.3 0-2.9 .1 3 .1 2.2 0-4.1 0 2.2 .1-1.7 0-3.9 0 1 .2 8.1 .1-1.4 .1-5.1 0-.9 .3-1.7 .1 3.4 .2-3.6 .2 1.7 .1 2.4 .2 1.5 0-3.4 0 1.5 .1-2.5 0 0 .1 1.1 .1-.2 0 0 .1-.4 0-.8 .1-3.3 .3 4.6 .3-1.3 .1-1.2 .6-1.9 .4 3.6 0-.6 .6 1 .2 .3 0-.1 .1-.2 0-2.6 .1 2.4 0-1.6 .2 1.8 .1-3.2 .2 2.6 .3 .1 .1-2.1 0-2.2 .6-.1 .1-.4 .3 3.8 0-3.4 .5-.6 .2 1 .2-.1 .3-.8 0 4.1 .2 1 .1 .1 .1-2.4 0 1.6 0-6.2 0 4.3 .2 .9 0 5.1 .1-6.2 0 4.5 0-5.2 .1-.3 .1-2.1 .1 8 .1-6.1 .3 9.3 .2-7.7 0 .5 .2-2.2 0 5.9 .2-.9 0-1.1 .1-1.8 0 .8 .2 4.1 .1 .9 0 1.7 .1-.9 0-6.4 0 8.3 0-6.9 0 .5 .2-1.4 0 3.9 0-.7 .1-.4 .1 7.8 .1-3.9 0-.9 .1-.3 0 5.3 .1-7.2 .1-2.6 0-1.3 0 7.9 .1-3.3 0 7.9 0-1.9 0-5.4 0-1.1 .1-1.3 .2 2.5 0-1 0 4.1 .1-3.6 .2 4.9 0 1.1 .1-1.2 0 1 0-1.7 .1 3.1 .1 3.2 .1 .4 0-7.4 .1 .5 .1 4.8 .1 .8 .1 .6 .1-1.3 .1-5.2 0 5.3 0-.1 .1-3.8 0 1.1 .2 .7 .1-4 .1 2.4 0-2 .1 11.5 .1-8.9 .1 4.2 .3-1.8 .1 3.4 .1-3.2 0 6.1 .1-1.9 0-1 .2 3.3 .1-3.7 0-3.4 .6 3 0 3 .2-.9 .1 1.1 .2-3.6 60.9-6.8 .1-2.6 .5 .5 .1 .9 .2 3.4 .1-.6 .4-.7 .3-4 .1 1.2 .1 5.4 .3-8.1 0 4.4 .3-1.8 0 1.2 .8-.4 .1 1 .2 3.4 .3 .1 .1-.9 .1-5 0 .1 .1 2.2 0-2.4 .2 4.9 .1 0 0-.4 .1 .1 .3-.7 .3 .5 .1 .5 .3-2.5 .1-1.1 .2 4.7 0-3.6 .2 2.8 .2 2.4 0-6.7 .2 2.3 .3 4.3 .1-5.7 .1-.5 .2 7 .1-5 .2-2.2 0 7.6 .2-4.1 .1-2.7 .1 3.2 .1 3.4 0-3.4 .1-2.9 0 1.3 .2 1.5 .1 .3 .1 3.7 0-6 .1 1.6 .4 3.4 .3-2.9 .1-1 0 1.1 .1 4.9 .4-.5 0-3.3 .1 2.7 0-1.3 .1 2.4 .1-3 .2 1.1 0-.6 .1-3.2 .1 .3 .1 .1 .1 1.7 .2 .7 .3-1.7 .4-.8 .1 2.1 0 0 0-3.7 .2 2.5 0 1.5 .2 1 .2-5.7 .1 6.1 .1-2.5 0 4.5 .4-3.2 .1-4.5 .1 4.3 .2-.1 0-2.4 .2 1 0 .6 0 2.5 0-2.9 0 3.3 .1-.2 0 .6 0-5.4 .1 5.4 .1-5 .1-.4 .2-.5 0 5.1 .1 .7 .1-3 0 2.7 .1-7.1 .1 6.8 0-3.2 .1-1 0 0 0 2.6 .4 2.1 .1-2.2 .4-2.5 0 1.5 0-1 .1 1.6 0 .8 .2-3 0 .1 .3 1.6 0 4.6 .2-12.6 .1 9 0-3.1 .1 1.6 0-2.2 .2 .7 .1-6.2 0 1.6 .1-.3 .1 5.5 .3-4.9 .2 .9 .2 2.2 0 .9 .1 2.6 0-6.9 .2 3.6 .1 2.1 .2-2.2 0 .2 0-5 0 1.1 0-1.6 .1 5.3 .2 .7 0-1.6 .1-2.4 0 2.3 0-1.2 .1-.1 .1-1.2 .2 7 .3-6.4 .2 2.9 0-1.3 .1 1.2 0 1.5 0-.6 0-2.8 .2 3.2 0-1.4 .1 4.8 0-5.1 .1 5.6 .1-.7 .3-4.8 .2 4.8 0 .3 .2-.6 0 1.3 0-3.9 0-2.2 .2 4.8 0-3.3 .1-.9 0 2.5 .1 2.2 .1-7.1 .1 7.8 0 1.1 .1-1.4 .3-2.7 .3 .9 .5 1.6 0 1.2 .2-3.5 0-2.9 .1 3.8 .4-2.4 .1 .4 .1 2.4 0 1.9 0-6.8 .1 6.2 .1-2.2 0 1.5 0-1.4 .2 3.7 .1-7 .1 3.3 .1-5.3 .1 3.5 0 1.4 .1 1.8 0-1.6 .1 0 0-4.7 .2 6.4 .1-4.8 0 2.5 .2-1.6 0-.2 .1 3.6 .1-.6 0 .7 .2-4.8 0 5.6 .1-5.2 .3-.2 .5 7.8 0-4.5 .3-.9 .1 1 .1-.2 .1-1.8 .1-2 .2 .2 0 5.2 .1-3.6 0 1.8 .1 3.6 0-.8 .1 2 .2-4.1 .3-2.9 0 1.9 .2 .3 .1 .5 .1-1.2 0 3.5 .1 2.3 .1-3.7 .3-2.1 0-2.9 0 7.4 .3-4.7 .1-1 0 5.3 0 1 .1-8 0 .4 0-1.8 0 .8 .2 7.7 0-6.4 .2 7 0-9.3 0 5.6 .1-3.5 0 5.6 .1-3 0-1.2 0 2.2 .1-6.3 0 3.3 0-3.6 0 3.3 .1-.9 .2-5.9 0 11 .3-5.2 .1 1.2 .1 7 0-11.7 .1-.8 0 7.6 .1-2.9 .2-2.8 0-4.1 .2 5 0-.1 0-4.5 0 12.2 .1-2.7 0-1.9 0 1 .2-8.1 0 5.8 .1-8.2 0 4.7 0-2.2 .1 2.6 .1-4.7 0 8 .3 .8 .1 .5 .1-1.1 0-6.7 0 9.3 .1-4.7 .1 .9 0-7 0 1.5 0-5.3 .1 15 0-6 .1-.4 0-6.3 .1 2.6 .1-1.3 .1 2.4 .1-1.5 .1 3.8 0-8.6 .1 3.8 0 3.8 .1 .5 .1-4.9 .2 1.6 0 4.3 0-1.5 .4-5.7 .1 7.9 .2-6.3 0 4.7 .4-5.1 .3 .3 .1 0 0-2.1 .3 .6 .1 1.7 0 14.8 0-17.1 .1 19 .2-1.5 0-1.9 .2 4.4 .2-.9 .5-4.9 .1 7.3 .2-.9 .1-6.3 .1-.5 0 6.2 .1-3.1 .1 .9 .1-3.6 0 3.3 .5 1.5 .1-4.6 .1 7.1 .2-6.1 0 2.4 .1-.3 0 4.8 .2-3.6 .1-87.7 0-1 0 89.2 0-93.7 0 97 .1-7.4 0 4.5 0 3.3 .1-4.1 0-1.3 .1-84.7 .1 6.2 0-8 0 85.9 0-81.6 0-4.4 0 8.6 .1 4.1 0-8.7 0-6.6 0 93.2 .1-93.5 .2 91.4 .1-76.9 0 76.6 0-2.5 .1-69.5 .1 73.9 0-69.2 0-12.9 .1 83 0-2.3 0-78.1 .1 77.6 0-72.8 0 75.4 0-64.2 0 60 .1-64.6 0 69.6 0-63.7 .1-1.2 0 56.7 0-65 .1 11.2 0 56.3 .1-63.9 .1 7.2 0 61.5 .1-6 .3 5.9 .1-6.5 .3 6.5 0-6.3 .1 3.9 .1 .2 .2-3.4 0-1 0 3.6 .1 .8 0-5.7 .1 5.8 .1-4.8 .4 .1 .1-5.7 .1 4.9 .2 5 0-2 .1-.8 .1-2.7 0-3.7 .1 7 0-2.3 .1 1.3 .1-2.3 0-.6 .1 5.2 .1-5.2 0-1.6 .2-3.1 .1 6.1 .1 .9 0-3.6 .2 1.4 .3 .7 0-8.5 .1-1.3 0 9 .1 .3 .1-2.8 .1 .2 .1 1.6 0-2.2 0-5.1 .1 .6 .1-4.9 .1 7.5 0-2.7 .1 .4 0 2.6 .1-8.1 .1 10.9 0-5 .1-.6 0-.4 .1 1.3 0-1.6 .3 7.1 0-4.9 0-1.2 .1-1 0-.9 .1 5.4 .1-2.7 .1 1.3 0-2.3 0 .4 .1-.6 0 5.9 0-7 0 2.9 0-3.8 .1 1.6 0-2.3 .1 2.6 0 3.9 0-2.3 0-1 0-5 .1 2.2 0 2.5 0 4.1 0-2.1 0 3.5 .1-3.6 0-3 0 4 .1-5.8 .2 8.1 0 .6 0-7 .2-2.7 0 7.3 .1-1.2 0-2.4 0 1.1 .2 3.7 0-2.6 0-6 0 6.5 .1-1.3 0-.5 0-6 0 3.6 .1 3.5 0-4.8 .1-2.1 0 8.7 .2-8.3 0 7 .1 3.4 0 4.1 .1-4.2 .1 3.5 0-1.4 .2-12.9 0 6.1 .2-1.9 0-3.3 .1 5.5 0 4 .1-3.6 0 1.5 0-5.4 0 2.9 .1 6.5 0-5.2 0-1.1 .1 4.1 0-.9 .1 7.6 .1-.7 0-10.5 .1 3.2 .1-.9 .1 5.5 .1 2.2 .1-2.7 .1-2.3 .1 2.9 0 2.3 0-2.2 0-3.8 .1-2.4 .2 8.9 .2-2.4 0-3.5 0 8.2 .1-3.8 0 3.1 .2-8 0-1.1 .3 8.2 .1-3 .1 2.9 0-.7 0 3.7 .2-.9 .1-5.7 .1-1.2 0 4.8 .2 5.2 .1-5.8 0-1.7 .1 .2 .2 4.6 .1 1.3 .2-1 .2-1.9 .1 2.8 0-4.2 .1 4 .1-1.2 .1-1.6 .3 2.7 0-4.6 .3 2.4 .2 3.1 .1-4.2 .2 2.9 .6-69 0 64.4 .1 6.4 .1-70 0-2.8 0 4.2 0-26.5 .1 27.5 .1 65.5 0 1.3 0-71.8 0 3.9 .1-2.6 .1 0 .1-.8 0 2.8 0 1.5 .1-.8 0-3 0-15 0 17.9 .2-19 0 .8 .1 2.9 0 4.3 .1-1.6 .1-9.2 0-1.5 0 7.7 .1-6.9 0 7.2 0-8 .3 90 .1 .7 .1-.7 0-4.6 .2 1.5 .2-1.3 .2-2.6 .3 .9 .1-1.5 .1 1.1 .5-6.8 .3 2.3 .1-4.4 .1-3.4 .1 2.9 0-.8 .1 1 .1-5.9 0 5.2 0-2 .1-1.9 0 2.3 .1-5.3 .2 4 .4-5.6 0-.9 .1-1.8 .1 .5 0-.7 0 1.6 0-2.1 .1 1.7 0-6.6 .1-2.3 0 2.7 .4-7.6 0 .6 0 0 .6-16.4 0 14.2 .1 1.2 0-.2 .1-12.5 .1-3.9 .1-.3 0 .1 0 1.3 .1-.5 .1-.7 .1-6.8 0 4.7 0 2 .1 .9 .1-5.5 .1 3.8 .2-2.3 .3 1.4 0-.5 0 .8 0-7.8 .1 5 .2-.7 .1 2.3 .1-3.8 .2 4.6 .2 .1 0-3.2 .1-4.7 0 3.8 0-.8 .2-.1 .2 4.8 .1-6.3 .1 .7 .1 2.6 .1 2.2 .1-1.3 .2-.7 .1-3.5 .5 0 0 3.5 .2 2.6 .3-4.5 .4 1.4 0-1.3 .1-.3 .1-3.3 0 2.5 0-2 0-23 .2 26 0 1.8 .3-2.5 0 5.5 .1-.9 0-2.3 .7-28.6 .1 27.8 0-26.8 .1 2.3 .1 26.3 0-25.5 0 24.6 0 1.5 .2-30.7 0 11.9 0 2.9 .1 .1 .1-.8 0 16.8 0-29.7 .1 11.8 0 15.1 0-15.7 0-.5 .1 3.6 .1-1.1 .1 1.3 .1-2.2 .1 2.7 .1-14.7 .4 1.8 0-1 .4-1.4 .1 .9 .2-.1 .5-3.2 .3 2 .2-.8 .1 .9 .1-.9 0 1.2 .1 0 .2-1.2 0 0 .1-1.5 .1 5.9 0-3.8 0 .4 .5 .2 0-2.2 .2-.6 .1 2.2 .1 .7 .2-1 .1-.6 .2-3.4 .1 4.4 0-4.3 .5 93.7 .1-92.5 0 93.5 .3-5.2 .1 6.8 .2-92.7 .4-3.5 .2 95.2 .1-94.2 .1-.1 0 86.6 .1-87.4 0 92.8 0-2.5 .1-90 .2-.9 0 4.1 .2 88.8 0 3 0-1.9 .2-4.3 .1-89 0 89.6 .1-89.4 0 2.7 .1-2.5 0 1.8 0 86.4 .1-86 .4 .2 .2 1.2 .2 12.1 .2-12.5 0-2.9 0 19.5 0-4.1 .1-11.3 0-2.8 .1 2.7 .1 12.7 .1-14.7 0 .8 0 2.1 .1 10.7 .1-17.1 0 .5 .1 5.6 .1 16.9 0-1 .1-19.2 0 20.1 0-16 0 14.1 0-.3 .1-13 0-3.2 .1-1.1 0 5.8 .2-2.4 .1-.1 .1 21.1 0-20 .1 28.5 0-6.2 .1-25.2 .1 24.9 .1-24.7 0 25.3 .1 3.6 0-25.8 0-6.7 .1 8.5 .2-4.6 .1 23.8 0-.2 0 7.8 .2-2.2 .1 .4 .1-6.2 .1 1.8 0-26.1 0 28.7 0-3.5 .4 5.4 .1-4.5 .1-1.1 0 3.4 .1-1.8 0-1.4 .1 5.5 .1 .9 .1-5.8 .2 4.6 .3-4 .1-11.9 .1 8.8 .1 2.8 .3 .6 .2-1 .1-.9 0 4.9 .1-1.3 .2 3.2 .3-3.4 .1-.7 .1-2.8 .2 1.6 .2-2.1 .1-.2 .1 5.8 0-3 .5 .4 .1 .9 .1-1 .2-15.8 .9-12.7 .1 .6 .3 .3 0 91.2 .4-.3 .7-3 .1-3.1 .3 1.3 .1 .4 0 0 .3-2.7 .1-5.8 .1 1.5 .2-1.9 0 1.4 .5-1.1 0-1.9 .1-.9 0 3 .3-4.9 .1-3 0 3.7 .2 .7 .1-6.8 .2 3.2 0-3.8 .1 3 .4 19.7 .1-22.3 .2-1.2 0-29.4 0 5.6 .1-5.1 .1 4.4 0-1.1 .2 2.5 0-1.8 .4 44.4 0 1.4 .1-3 .1 .7 .2-8.1 .1 1.3 0 .2 0 1.6 .1 1.7 .1 1.8 0-4.7 0 4.1 0-3.1 .1 3.3 0-1.5 0 5.3 .1-7.3 .1 5.2 0-2.2 .1 3 0-1.2 0 3.8 .1-3.6 .1-5.6 0 1.6 .1-1.3 0 5.1 .1-.3 0-2.1 .1 .8 0 4.5 0 .1 .1-5.9 0 .5 0 1.1 0-.3 .1 3.4 0-1.3 0 .7 .1-2 .1 5.5 0-5 .2 4.4 .1-5.7 .1-2.2 .1 4.7 .1-1 .2 3 0-.4 .2-4.2 .1 2 .2 1.1 .3 .1 .1 2.2 0-4.1 .3-.6 0-.9 .3-1.3 .4 3.5 0-2.1 .1 2.4 .1-.2 0-.8 .1-1.7 0-.5 .2 3 0-2.6 0 3.4 .3 1.8 .1-5.5 0-.7 .1 1 .2-2 .2 2.9 .1-.2 .2-.3 .3 2.6 .1-6.6 .1 .6 .2 1.6 .3 4.5 .1-4 .3 3.9 .1-3.9 .1-3.3 .2-2.2 0 6.3 0-1.8 .1-2.1 .4 2.2 0-.1 0 1 .1-1.9 0-1.3 .2-1.9 0-2.1 0 6.2 .2 1.9 0-4.3 0 3.4 .1-4.1 0 .5 .2-1 .1-.5 0-.7 .2 2.3 0 4.9 .1-3.9 .1 .8 0-.1 0-1.5 .1 3.1 .1-2.6 0-7.7 0 5.7 0 2.1 0-2.9 .1 .2 .3-5 0 2.5 0-1.2 .1 4.4 0-5.5 0 6.8 .1-7.4 .1 .5 .1-2.4 0-2.5 0 5.3 .1 8.6 0-3.8 0-.5 .1-1.1 .2-7.5 0 7.9 .2-6 .1 9 0-11.7 .2 5 0-2.5 .1-1.8 0 3.3 0 10.3 .1-6.1 .2-1.4 0-7.8 .2 4.4 0-6.2 0 4.9 0 3 .1-4.7 .2 2.8 0-1.6 0 1.3 .1-3.5 0 10.6 .1 2.3 0-10.3 .2-5.8 0 3.2 .2-3.1 0 3.7 0-3 0 6.1 0 2.5 .2-7.9 .1 1.4 .1-5.7 0 5.7 .1-3.1 0 3.2 0 6.3 .1-.7 .1 1.7 0-12.7 .1 1.9 0 8.5 .1-3 0-3.7 0-2.5 .3 1.1 .1 3.3 .3 2.9 0-6.1 .1 0 0-1.7 .1 2.6 0 5.2 0-10.1 .3-.6 0 6.5 .1-7.9 .1 2.9 0 6.3 0-5.8 .1 5.9 .1-35 .1 .5 .1-6.9 .1 4.3 .1-4 0 31.7 .1-31.5 .2 38 0-33.4 0 30.9 .3-4.5 0-30.7 .1 2.4 0 .8 .1-.9 0 5.3 .3-1.8 .6-3.9 .3-2 .1 3.2 .1 1.7 .4-1.9 .2 .5 .2-3.4 .3 1.8 0-2.4 .3 .4 0 6.8 .1-7.8 .2 2.2 0 .9 .5 1.8 .3 1.5 .1-3.6 0-1.1 .3 4.7 .2-1.2 .3-5.1 .2 1.6 .1 0 .1 1.5 .2 .9 .2 2 0-6 .1 7.3 0-5.1 0-.7 .1 4.9 .2-.9 .2-14 .1 1.3 .1-4.9 .1-2.7 .1 10.9 0-10.4 0 3.9 0 3.2 0-4.4 .1-.5 0 2.2 .1 0 0 1 .1 73 .1-84.7 0 3.4 .1-4.6 0 88.8 .2-89.8 .1-.4 0 1.1 0 3.6 .2-2.5 0 85.5 0 3.5 .1-6.8 0-83.3 0 82.8 .1 6.4 .1 1.2 .2-4.8 0 4.3 .1-5 0 1.8 .2 1.7 0-6.8 .2 .1 0-6.4 .1 4.9 0-2.2 .1 5.9 0 1 0-3.8 0 5.5 0-3.1 .1 2.3 0-2.3 .1 6.7 .1-8.2 0 5.9 0-3.1 .1-6.5 0 6.4 0-7.3 .1 11.7 0-6.8 .1-2.2 0 .7 0 7.3 .1-7.6 0 5.1 0 2.9 .1-9.4 0-.6 0 13.5 0-8.4 .2 3.7 .1 .8 0-.9 .1-.4 0-12.5 0 5.2 .1 .6 0 1.4 .1-7.7 0 15.4 0-.2 .1-14.8 0-.1 0 9.7 0-4.4 .1 7 0 1.5 .1-3.2 .1-13.4 0 11.5 .1 1.4 0-10.1 .2 3.3 0 1.3 0-2.6 0 12.8 0-8.5 .1 3.4 0-7.9 .2 1.3 .2-3.7 0 9.1 0-11.6 .1 1.1 0 .1 .2 1.1 0 1.9 .2-.7 0 9.2 .2-12.4 .1 3.9 .1 3.7 0-8.8 .2 7.7 .1-5.5 .1 .9 .1-4.4 0 5.3 .1-4.7 .3 5.1 0-3.4 .2 .3 .1 3.2 .1-1.1 0 1.7 .1-1.6 .2-3.6 .2 3.8 .1-3.5 .1 .9 0 5.6 .1-1.2 .2-3.7 .3-1 .1-1.2 .1 3.5 0 1.4 0 1.3 .1-3.4 0 1.5 .2 1.6 0-5.1 .2 4.7 0-2.4 .3-1.7 .2 5 .1-1.1 0-2.2 .5-3.4 .4 4.8 .1-.4 .1-.9 .1 3.9 0-6.3 .1 4 .2-.2 .1-4.9 0 .3 .3 6.3 .1-2 .6-1.4 0 .2 .1-.3 .1 .7 .2-1.5 .3-2.2 .4 2.1 .1-1.8 .1 .7 0-.3 .1-.4 0-1.3 0 2.5 .1-2.3 .2-.7 .2 1.8 .8-.1 .1-2.4 .2 2.7 0 1.8 .4-1 .1 2.1 .1-1.9 .1 2.1 .1-5.6 .1 4.5 .3 2 .1-3.3 0 4.2 .2-.2 .2-2.2 .1-.1 .1 4 .2-3.9 .1 2.3 0 2.3 .1-.9 0-.8 .1 7.2 0 0 .1-6 .1-1.8 0 9.8 0-8.4 0-6.9 .1 4.5 0 4.3 0 12 .2-15.1 0 13.9 0-6.1 .1-5.5 0 15.3 .1-13.4 .1 5.4 0 .6 0 2.4 .1-11.6 .1-2.7 0 12.6 0-13.2 .1 12.9 .1-.3 0-4.3 0 1.7 .1 6.1 0-10.2 .1 5.7 0-10.5 .1 16.4 0-7 0-4.5 0-9.2 .1 16.2 0-2.1 0 8 .1-18.2 0 11.3 0 2.7 .1-11.6 0 11.5 0-11.6 .1 .2 0-1.3 0 8.3 .1-10.8 0 9.1 .1-13.2 0 7.1 0 14.9 .1-3.1 0-8.6 .1-10.8 .1 18.6 0-7 .1 9.3 0-1.8 0-17.4 .1 3.9 0-5.4 0 2.6 0 17.8 0-6 .1 10.4 0-25.1 0 11.7 .1-10.4 0 3 0 3 0 11.7 0 .1 .1-10.2 0-.2 0 9.7 .1-13.1 0 4.9 0-24.5 0 20.8 .2 6.3 0-4.6 .1 12.9 0 1.1 .1-36.2 0 33 0-35 0 32.7 0 4.4 0-39.7 .1 33.4 0 7.7 0-36.9 .1-6.2 0 29.8 0 8.8 0 .7 0 2.6 .1-3 0-38.7 .1 29.5 .1-56.5 0 3.5 0 24.7 .1-1.6 .1-14.7 .2-6.1 .1 5.8 .1-8.6 .1-2.4 0 11.2 .2-.4 0-3.5 0-.2 0 3.1 .1-2.9 .1 1.7 .2 3.1 0-4.1 0 2.8 .1 1.3 0-8.6 .2 3.7 .1 .8 .1-6.7 .1 7.9 .3-5.3 .2-.3 0 7.3 0-8.6 .2 7.4 .4-1.2 .1-6.1 .1 .8 .1-2.3 0 3.7 .5-5.3 0 4.1 .2-1.4 .1 5 0-7.7 .1 6.9 .4-.4 0 .7 .1 1.3 .2-5.3 .2 1.8 0 .7 .2 2.6 0-1.1 0-6.7 .2 .9 0 6.4 .3-2.5 .1 6.1 .4-3.6 0-3.2 1.2-29.5 .3 10 0 1.1 .1-2.3 0-3.1 .1 2.9 .1 8.4 0-15.9 0 10.4 0 2.4 .1-10.2 0 17.9 .1 .9 0-5.4 0 1.9 0-2.3 .2 3.5 0 3.6 .1-7.3 1.2 75.8 .2-2.1 .1-.5 .1 2.2 0-3.6 .2 2 0-.4 0 .8 0-3.1 .1 .3 0-2.6 0 5.7 0-1.9 .2 1.8 0-.4 .1-8.2 .1 7.2 .1-4 0 3.7 0-1.2 0-4.1 0 5.6 .2-4.8 .1-3.8 .1 1.6 0 1.8 .1-2.7 .1 1.8 0 1.5 .1-.6 .2-3 .2-18 .1-9.7 0 26.4 0-17 0 15.4 0-16 0 9.4 0 6.9 0-12.9 .1 6.2 0-14.8 0-1.4 .1 15.9 0-24.7 0 6.6 .1 2.1 0-2.5 0 8.9 0 16.7 .1-32.2 0 7.4 0-6.4 0 23.5 .1-20.9 0 14.1 0-9.4 0 23.4 .6-42.5 0-1 .3 .5 .1-1.1 .2-.1 0 2.7 0-3.3 .1 .3 0 .4 .1 1.8 0-1.1 .3-.1 0-.4 .1-2.2 0-.8 .1 1.3 .2-3 0 2.2 0 1.5 .3-4 .6-1.3 .1-.5 0-.6 .2 62.9 0-61.9 .2-1.4 .2 0 0 1.2 .2 60.7 0-61.9 .1 61.1 .1-.6 0 .7 .2 2.1 0 .3 .2-3.1 .3 .8 .3 .9 .2 1.8 .2-4 0 2.3 .1-1.2 0 0 .1 .4 .2-1.7 0 .5 .5-.7 .1-1.3 0 .1 .1-1.8 0 1.9 0-.1 0 .2 .1 1.1 .5-1.4 0 1.3 .3 1.6 .1-5.2 0 2.2 .1-.7 0 2.6 .2-4.6 .2 .2 .1-.1 .2 1.4 .1-.8 .1-1.8 .2 4.4 .1-2.4 .2-3.6 .1 3.6 .2-2.5 .2 2.5 .1-1.5 0-3.6 0 2.3 .3 3 .1-6.2 .2 4 .2-.4 .1 1 .2-4.1 0-1.4 .1 3 0-4.2 0 .7 .1 1.1 .1 2.1 0-3.1 .2 .2 .1 3.2 .1-1 0 .4 .1-1.3 .1-3.9 .1 .8 .2 3 0-2.8 .1 4.8 .1-.4 0-1.8 0-2.2 .1 2.6 .3-1.9 0 1.8 .3-5.1 .4 2.6 .2 .8 .2-2 0-1.3 .2 4.3 0-5 0 .5 .3 1.5 .3 3.9 .4 1.3 .1 1.9 .1 2.3 0-1.5 .1-4.3 .1 2.2 0 .4 0-2.9 .1 7 0 1.9 0-2 .1-7.3 0 3.6 0 8 0-12.7 .1 2.9 .1 1.2 0 1.3 0 12.1 .1-10.6 .1 5.9 .1-1.2 0-9.5 0-1.5 0 7.6 .1-6.5 0 11.9 0-8.9 0-1.1 .1-2.9 0 10.6 0 3.7 0-3.8 0-2.6 .1-1.3 0 2.9 .2 5.2 .1-8.8 .1 10.8 0-8.4 0 2.8 .1 4.1 0 1.1 .1-3.2 .1 .4 0 1.7 .1-4.1 0-.5 .1 5.8 0-2.9 .3 .3 0 .1 .1 4 .8-61.6 0 1.6 .2-5.1 .2 1.3 .2-4.3 .1 4.1 .3-1.3 .2-3.9 0-1.1 0 9.8 0-2.4 .1-7.2 .2 5.6 0-5.3 .1 6.2 .6-1.6 .8-4.9 0 7.8 .2 2.1 .1-8.8 .2 8.2 .4-9.4 .1 3.1 .2 6.3 .2-6.9 0 2.7 .3-5.4 .1 6.2 .1-4.1 0 3.4 .1-2.5 .2-.9 .1-.8 0 1.4 .1-.7 0 1.6 .4-12.3 0-5.8 0 7.5 .2-2.8 0 .3 .1 12.8 0-16.7 0 5.3 0-7.2 .1 12 0-5.6 .1-3.8 .1 15.9 .2-2 .8 64.5 .1-5.7 .1-.9 0 5.1 0 3.6 0 2.2 .1-10.7 0 1.8 0-3.6 0 4.7 0 0 .2-8.3 .3-6.2 .3-6.6 .2 8.5 .3 5 0 1.2 0-14.8 .1 13.4 0-15.4 0 .8 .6 10.1 .2-10 0 8.7 .5 6.7 .2-7.8 .3-6.3 .2-2.1 0 8.2 0-7.6 0 10.9 .3-4.4 .2 .9 0 4.1 .1-3.4 .1 4.5 .4 1.7 .3-1.7 0 .7 .4-13.1 .1 4.7 .1-3.5 .3 9.1 0 1.2 .1 1.2 .2-5.3 .4 6.5 .1 .2 0 .1 .2 2.2 0-17 0 3.4 .4 6 .1 4 .1-4.9 .4 .5 1.3 7.9 .2-3 0 2.7 .2-2.7 .4 1.2 .3 3.3 .2 6.1 .1-23.3 .1 10.1 0-6 0 21.1 .1-17 0 19.9 .1-14.8 0-8.7 .1 3.8 0 15 .1-21.2 0 2.1 0 16.9 0-18.9 .1 .6 .1 22.9 .1-21.5 0 8.9 0 4.1 .1-2.4 0 1.4 0-13.4 0-37.9 0 9.3 .1-.6 0-4.5 .4-9.9 0 4.3 .1-6.6 .1-2.5 0 9.5 0-6.1 .8 6.7 .4-1 .2 6.6 0 .1 .1-2.7 .4 3 .1-7.8 .1 5.8 .3 3.8 .4-2.3 .1-15.2 .1 12.3 .3-11.2 .1 11.4 .3-13.1 .2 5.8 .3 4.9 .2-8.4 0 8.6 .1-.2 .2-.5 0-.6 .9-3 .1 2.4 .3-6.6 .9-.7 .2 5.4 .2 7.7 .5-2.7 0 61.8 0-70.5 .1 10.1 .1 57.2 0 3.3 0 2.1 .1 .2 .1-67.9 .1 66.1 0-1 .2-64.3 .1-18.8 .1 .2 0-.3 0 10.5 0 15.7 .1-23.2 0-7 .1 11.5 0-9.8 .1 29.7 0-17.7 0-5.6 0-6 .1 11.5 0-.3 0 10.7 0-23.6 .1-1.8 0 21.6 .1-7.7 .2 13.9 .2 .4 .5 .2 0-8.2 .1 6.3 .1-2.3 .1-1.3 .1-8.2 0 17.7 .7-4.3 .1 4.6 .1 2 .1-17.7 0-.2 .1 18.2 .1-7.5 0-11 0 5.9 .8 5.3 .2 6.1 .1-8.2 0-10.5 0 18.4 .3-8.5 .1 3.9 0 5.6 .2-13.9 .1 2.6 .3 5.6 0-12.1 .1 2.1 0 5.6 .2 5 .2-7.8 .2 9.1 .2-13.2 .2 17 .1-11.1 .1-3.2 .2 8.6 .2-6.5 .3 12.6 0-17 .3 .1 .2-9.9 0-8.5 0 30 .1-22.2 0-6.5 0 8.5 0 10.7 .2-17.3 0 1.9 .2-4.4 .1 31.1 0-16 .1 4.1 0 16 .1 54.9 .2 1.5 .1-.3 .6-21.9 1-2.9 .3 1.2 .3-2.6 .1 1.6 .6 .8 .7 2.6 .1-25.2 .7-2.3 0 23 .1-.7 0-10.9 .4-14.6 0-1.8 .1 27.5 .2-21.4 .1-4.1 0 3.1 .1 26.5 .3-2 0 .3 0-23.5 .1-6.3 .1 .6 0-.6 .2 28.2 .1-21.1 .1-2.2 .1-7.2 0 1.6 .1 4.3 .1 .1 .1-4.6 0-1.8 .3 .4 .1 .8 .2 6.4 .1-3.7 .1-4 .3 4 .1-1.3 .1 3.1 0-2.5 0-1.5 .2 .9 0 1 0-4 .1 2.2 .1-.4 .1 .5 0-1.7 .5 4.3 .1-2.9 .2-1.9 0 1.6 .1 2.7 .3-8.4 .2 5.3 0-2.1 .1 2.1 .1-3.9 0 1.6 .2 2.2 .2 1.4 .2-3.6 0 .5 .2 2.5 .1 1.5 .1-5.5 .2-1.7 .1 4.6 .2 1.9 0-6.7 0 4.2 .1-1.9 0 .8 .3-3.4 .1 3.3 0 1.2 .1-2.7 .5 1.1 .3 4 .1-7.1 .5 2.8 .2 1.9 0-5 0-.8 .7 .3 .1 .3 .1-.3 .5-24.5 0 25.3 .1-13.4 0-8.3 0-8.2 .1 7.5 0 8 0-6.7 0-11.1 .1 15.4 0-15.6 0 33.3 0-14.6 0-11.7 0-1.8 0-2.9 .1 12.9 0-13.8 0 14.3 0-14.7 .1 18.9 .1 11 0-.9 .4 3.8 .3-34.4 .2 .5 .1 93.1 .1 .5 0-91.9 0-.2 .1 91.6 0-2 .2-2 0 3.7 .1-92.8 .8-.8 .7-.2 .3 .7 .3 .9 .1 86.5 .3 .2 .2-86 .1 86.3 .1-88.5 .3 85.6 .1 2.7 .2-1.6 .1 1.3 0-86.1 .1-1.2 0 86 0-1.7 .1-.6 .3 3.9 .1-2.3 .2-60.4 .2 50.3 0 8.3 .2-58.5 .2 61.3 .2-61.3 .1 1 .4-.4 0 3.2 .2 .5 .1 4.6 0-8.1 .2 2 0 7.8 0-5.4 .1-.8 0 6.1 0-8.2 .1 3.5 .1-2.5 .1 5.6 .1 .7 .2-4.1 0 5.6 .1-.2 0-5.3 .2 4.7 .1-1.2 .2 3 0-4 0 2.8 1.8-22.6 .2-2.4 0 7.5 0-8.2 .1 5.4 .2 .3 .2-1.6 .2 4.1 .2-3.1 .8-1.1 .2 4.5 0-8 .6 3.2 .1-1.3 0 5.6 .5-4.7 .4 4.4 0 .8 0-6.6 .2 1.3 0 .2 0-2.6 .3 2 .4 1.9 .1 .7 .1 1 .1-3.5 .2 3.2 .3 2.3 .3-8 .3 7.8 .1-5.1 0-.3 0 6 .2-2.9 .2-1.3 .1 60.7 0-.9 0-62.8 .2 69.2 .1 1.5 0-71.8 0 67 0-2.6 .1 2.9 0-3.9 0-57.7 0 66.6 .1-.3 0-.3 .1-.6 0 1.1 0 7.2 .1-3.3 .2-.1 1-83.6 .2 1.2 0-4.2 .4 6.5 .2-2.3 .2-1.8 .1-3.2 0 5.8 .1-1.4 .7 1.8 0-.3 .1-5.3 0-.2 .6 .6 0 2.3 .1 2.9 .1 .5 .1-4.2 .1 .7 0 3.4 .3-1.2 .1-.9 .9-4.6 .3 2.2 1.1 4.4 .1-6.7 .4 4.9 .2 12.5 .1 2.6 0-14.6 0-2.1 0 15 .1-2.3 0 3.2 0-1.3 .1-1.6 .1-10.8 0 15 0-1.4 .1-2 0-17.1 0 19.6 0-.6 .1-18.7 .1 1.2 .3 1.5 .5 .3 0 1.2 .1 .9 .1-4.9 .2 1.7 .6 1.2 .1 87.1 0-84.3 .1 84.7 .1-2.3 0 .1 0-81.3 0 86.4 .1-1.5 0-2.8 .1 2.7 0-3.4 0 .9 .1-87.9 0 4.5 .2-3.7 .1 91.2 1.4-15 .2-3.9 0 3.8 .1-4.1 0 2.6 .1-2.8 .1 3.2 0-.9 0-3.5 0 6.1 .1-8.9 .1 2.3 0 2.5 .1 2.5 .2-11.2 0 9.9 .1-10.7 0 11.5 0-1 .2-7 0-1 .1 3.5 .1-2.2 0-7.4 .2-2 0 2.2 0 3.1 .2-5.6 .1 2 .3 1.8 .3-5.1 .1 2.1 0-18.7 0-4.3 .4 2.2 0 .8 0-1.5 .2-3 .3 5.7 .1-2.4 0-6.3 .5 2.2 .2 5.1 0-10.8 .4 7 .1 1.5 .3 3.2 .1-8.4 0 2.7 .1-4 0 5.9 .1-1.8 .1 1.3 0-4.7 .2 4.9 .1 3.6 .1-8.9 .1 1.7 .1 6 0-9 .1-2.6 0 4.6 .2 4.3 .1-2 .1 5 0-10.3 .1 8.7 0-6.6 .1 1.6 .1-2.3 0 5.4 0-2.6 .3 7.2 .1-17.2 .1 10.7 0-.1 0-2.4 .1 3.1 .2-4.7 0 3.9 0-.8 0-.8 .1 1.9 .1-4.7 .1-2.1 0 5.3 0-2.8 .1 5.2 .1-13.9 .2 2.6 .2 3.2 0 6.9 0-2 0-12.2 .1 4.1 .1 11.1 .1-11.6 .2 10.5 .2-7.6 .2 6.5 .1-14.7 0 1.1 .2 3.4 0-2.8 .1 10.3 .1-9.5 .1 2.8 .1-3.8 0 8.3 .1-6.4 .3-1.1 0 9.1 .2-6 0-2.3 .1 6.1 0-2.3 .2 .9 .1-5.3 0 9.9 .2-11.4 .1 8.1 0 4.8 .1-4.6 .1-2.8 .1 7 .1-8.4 0 4.8 .1-6 0 9 .1-5 .2-23.1 .1 18.7 0 6.5 .1-20.1 0-.9 .1 18.9 0-22.5 .1 2.6 .2 7.7 0-7.5 0 4.1 0 6.4 .3-2.4 0 11 0-10.4 .1-1.3 0 11.3 .2-8.2 2.5 64.8 .6 4 .1-1.8 .1-7.2 0 1.4 0 .2 0-1.6 .1 2 .1-6 .1-.4 0 1.5 0 11.6 0-16.4 0 16.2 0-3.5 .1-1 0-.9 .6 7.9 0-4 0 7.6 .1-6.3 0 .3 0-.5 .1 2.6 .2 0 0 2.7 .1-3.5 0-1 .1-1.7 0 4.4 .1-5 0 5 0-4.4 .1 .3 0 4.1 .1-2.3 .3 6.7 .1-1 0 1.8 .2-6.2 .3 4.4 0 3.2 0-5.8 0 2.1 .3 3 0-1.9 0-1.4 .2 2.3 .1 1.1 0-6.3 0 2.2 0 .1 .4 4.2 .1-4.3 .2 .2 0-88.3 .3 88.4 .1 .8 .3-87 .2 92.8 .1-1.9 .1-92.2 0 1.1 .1 1.6 .1 .4 .1 87.8 .6-90.2 .1-.8 .1 .7 .1 .1 .6-1.6 .2 3.5 .4-2.4 .2 4.1 .4-1.9 0 4.2 .1 1.9 .1-9.4 .1 11.9 0 .9 .1 1.5 .1 1.1 .1 15.2 0-26.7 0 16.2 .1-1 .1 0 0 7.5 .1-11.4 0 .6 0-11.5 0 29 .1-.4 0-9.3 0 .5 .1-5.7 .1-18.1 0 2.5 .1 20.4 0 8.1 .1-5.7 0 3.7 .1-4.7 0 2.4 .3 10.2 .1 .9 0-34.3 .1 27.4 .3-4.4 .1-1.8 0-.5 .4 1.9 .5 6.8 .1-3 0 3.3 .4-8.7 .6 8.5 .3-7.9 0 12 .1 1.7 0-7.9 .1-6.8 .2 3 .3 4.7 .1-2.4 0-2.9 .1 11.2 .1-2.4 .1-8.7 .1 3.3 .1-5.7 .1 13.9 .1-2.9 .1-6.5 .1-4 0 9 .4-9.1 .3 11.6 0-12.1 .1 8.8 0-1.8 .1 4.4 .1-11.5 .1 11.1 0-.6 .1-6 0-.5 0-1.1 0 7.3 .1-3.8 0 1.3 .3-6.9 .1 9 .1 .5 .4-10.6 .1 11.8 0 1 .1-2.6" fill="none" stroke="none" marker-start="url(#mD)" marker-mid="url(#mD)" marker-end="url(#mD)"/>
<path d="" fill="#000"/>
<path d="M78.7 310.5l.3 4.2-1.4 4.3 .4 2.5 1.9-14-.7 4.1-1 2.9 .5 4.7 .7 2.5-.1 4.8 2.8-19.7 .1 3 .2 4.2 .5 3-1.4 3.5 3.4-11.9 .5 2.9-.1 3.5-6.4-8.4 .6-.2 2.8-.5 3.5-.1-.3 9.5-1.2 3.1-.2 2.4-2.6 4.2-3.1 1.2-.1-18.6-.1 2.8 .3 2.7-.7 2.8 .3 2.7 .3 2.8 0 2.7 7.2-18 .2 3.7-.3 3.8-7.2 26.4 6.8 0 5.2 0-10.5-7.6 0 3.1 10.5-6.8 15.9 3.4 8.5-11.4 1.1 3.5-1 2.8 .1 3.6 .8 4.3 .7 2.8 .9-20.4-1 3.3-.4 3.3 1.6 3-1.1 4.2 0 3.7-.4 2.6-.1 3.8 3.4-33.4 1.1 4.3 .1 3.9-1.1 2.3 .5 4.7-.8 2.8-.1 4.4 .4 3 .7 2.8-.5 4.2 2.4-30.6 .8 2.8 .6 4.9-.9 3.6 .4 3.2-.3 2.7-.7 4.4 .8 3.2 0 4.3 3.7-30.4-.9 3.4 .8 3.9-.7 3 .1 4.2-.1 3.3 .2 3.8 .3 3.2-.6 3.5-.5 4.6 3.1-37.6 .2 2.2 .7 5-.3 2.2 .5 4 0 4.4-1.3 2.8 1.4 4.5-1 3.6 .2 3.1 .3 3-13.3-21.7 1.6-4 .8-1.9 1.1-2.3 1.3-2.7 2.5 1 3.2-.7 1.9-2.5 1.5-1.4-.6 2.7-.1 2 .9 17.7-.7 3.3-.3 2.1 .7 2.7 0 2.4-.8 3.1 .8 2.4-1.1 1.2-2.8 .4-3-2.6-4.3 2.8-1.4-.8-.9-23.4-.6 2.6 .4 2.6-.3 2.6 .2 2.7-.4 2.6 .8 2.6-.6 2.7 .3 2.6 13.8-30.1 0 3-.1 3-.5 3 .2 3 .6 3-9.9-20.3 3.8 .8 5.3-5.3-.8-3 1.4-16.7-.6 4 1.5 3.4-1.6 2.6 3.9-19.8-1.1 4.6 .3 4-.4 3.1 1 3.1 1.2-16.9 .4 4.7 .6 3.9 0 3.4 .2 3-.2 4.1 1.5-29.1 .8 5.1-1.1 2.9-.4 3.4 .6 3.9 .2 2.7-6.6 16.2-.7-2.8 .2-1.6 .6-4.2 0-3.3 .3-2.2-.1-2.5-.1-2.5 1.5-3.3 1-.9 2.3-3.7 1-2.6 .1-1.5 1.1-3.5 1.9 1.2-.5 6.4-.4 1.7 .5 3.3-.6 2.9-.5 2.1 .2 2.4-1 1.7-1.2 3-.2 3.6-2.3 1.2-.9 .4-1.2 1.7-.6 2.7-.7 .9 0 1.5 8.8-34.6-.3 4.4 4.1-2.7 1.6 2.8-.7 4.6-.1 3.6-.7 3.5-.2 3.9 .5 3.3 1.9-12.7-.9 2.9 .7 4.3 0 4 2.8-5.8-.3 4.9-.4 3.5 .8 2.8 0 3.5 .1 3.5 2.3-15.6 1.1 3.8-1.3 4 1.3 2.6-.6 4.6-.8 3.9 .4 2.7 2.8-16.2 1.5 3.4-.8 4.5 .5 2.8-1.3 4 .1 3.2 .7 3.4 .5 4.9-10.4-48.1-.2 2.4 .3 1.3 1.2 4.5 .9 1.5 1.4 2 2.3 2.9 1.6 1.8 2.2 3.4 1.1 30.1-.9 .3-1.5-3.2-.6-3.4-.6-1-.3-4-1.8-1.9 .1-1.4-1.7-3.8-.8-1.8-.1-3.4-1.4-2.8-1.2-2.2 0-22-.7 2.8 .7 2.8 .1 2.8-.7 2.9 .7 2.8 0 2.8-.2 2.8-.7 2.8 10.9 .1 .7 2.9-.3 2.8-.1 2.9 .2 2.8-.6 2.9 .6 2.8-.3 2.9-.1 2.8 .6 2.9 0 2.9-.6-33.8 1.3 1.1-1.3-1.9 2.1 .4 1.6 .5 1.2 .6-.6-.1-3.8 2.6-.7-4 0 1.4 5-.2 .2 .5-14.4 14.8-7.5-6 16.6 30.1 10.9 6.7 .2 2.8 .4 3.5 0 3.5 .1 3.5 .1 4.5-.2-21.3-.2 3.2 .2 3.5 .9 2.7-.6 4 .8 4.4-1.4-17.4 1.1-2 1 22.6-2.1-.7-.2-18.9-.6 2.8 .2 2.8-.2 2.7 0 2.8 .7 2.8-.6 2.8 .8 2.8 2.5-19.5 0 2.8 .4 2.8 0 2.7-.6 2.8 .4 2.8-.4 2.8 .6 2.8 4.2-60.7-1.1 3.8 2-3.7-.6 3.1 .5 3.1 .9 4.1 0 3.7 2.2-10.2 .5 3.2-1 4.8 1.6 2.5-1.3 4.5-.2 2.5 .2 3.9-.4 3.3-3.7-30.2 2.3 .7 3.2 2 .2 59.5-.3-4 .3-2-.6-1.9-.3-3.5 1-1.6-.2-2-.2-3.9-.5-1.2 .3-2.5-.9-3 .7-1.7-.4-3.7-.6-3-1-1.9 .7-2-1.7-3.4 .6-1.7-1.4-2.6 .5-2.1-1.2-3.1 .1-1.3-.2-3.7-.6-5.8-.1 4.4 5.8-1.4 0 2.7 0 2.6-.2 2.7 .6 2.7 .3 2.6-.8 2.7 .8 2.7-.3 2.6 0 2.7-.5 2.7 .4 2.6-.4 2.7 .5 2.7-.1 2.7 0 2.6-.3 2.7 .3 2.7 .2 2.6 .1 2.7 .1 2.7-.3 2.6 0 2.7-12.6-52.7 5.3 5.3-4.6 17.3 4.6-.8 .7 3.8 6.4-33.6-.5 2.7 1.4 4.2-.9 4.4 .6 2.6-.2 4.2-.3 4.2-.2 3.1 1.1 2.7-.7 4.1-.2 4.6 .5 2.2 .4 4.8-1.5 3.5 .7 2.2 .7 5.3 .1 2.8-.3-55.4 .1 3.9 .7 3.3-.4 3.7 .3 2.9-.1 3.5 .1 3.9-1 4 .5 3.6 .6 3.1-1.2 3.8 1 3.1-.9 4.2-.5 3.3 1 4.1-.5 3.4 .5 4.3 1.3-44.6 0 2.9 .1 4.5 1.3 2.4-.4 3.8-1 3.2 1.1 3.6-.8 4.1 .4 3.6 .7 3.3-.9 3.4-.3 4.4 2.5-33-.3 4.6 1.4 3.6-1 4.1-.1 3.6-.5 2.9-4.1-40.3 0 2.1 1.3 2 .5 1.9 .2 4 .2 1.6 .7 2.2 .8 4 .5 2.4 .6 1.1-.2 3.7 .2 11.7 .3 2.9-1 3.1 0 2.4 .4 2.9-1 1.7 .1 2.1-1.1 3.9-.7 2.4-1.7 2-.4-61.5 .2 2.7-.3 2.7 .1 2.6 .3 2.7-.1 2.7-.4 2.7 .5 2.7 .1 2.7 0 2.6-.2 2.7 .1 2.7-.2 2.7 .5 2.7-.4 2.6 .3 2.7-.1 2.7-.2 2.7-.3 2.7 .2 2.7 .4 2.6-.4 2.7-.2 2.7 .3 2.7 5.6-33.1 .2 3-.1 3-.6 3 3.6 10.6-1.5 9.8-6 3 7.5-40.7 0-12.1 23.4 17.8 6 20.2-28-48.7-.6 4.6 4.2-1.2-.9 3.3 .1 3.9-.2 4.2 2.8-10.1 .4 3.1-1.2 4 .8 2-.1 5.3-.1 2.9 3.3-16-.8 2.6-.6 3.7 1.3 3.7-.2 4.6 2.5-19.7 .8 3.3-.4 3.9-1.2 2.8 1.3 3.8-.5 3.2 2.7-17.8-13.6-.7 2.3 .6 .9 .1 2.8 3.6 1.6-.1 2.3-4.5 1.4-1.8 2.5 1 1.2 3.2-1.5-1.1-.7 4.7-.5 1.4 .2 2.4-1 2.4 .3 2.9-.8 2.1 .4 3.2-.8 .8-2.9 4.1-2.5 .7-.5-3.9-.3-2.2-1.6-4.1 .4-2.3-1.1-2.3-.3-2.2-.9-3.9-.9-.9-.5-3.8 .5 3 .2 2.9 15.2-5.9-.5 1.4 46.2 33.4-.7 2.4-.5 3.5-.4 4.2 0 3.8 1 3 .8-24.6 .1 4.4 .8 4 0 3.2 .7 4-.1 3.1 3-19.2-1.2 3.3 1.4 4-1.6 3.4 1.4 3.1-.7 3.2 .9 4.6-1.4 3 .7 4-.7 3.4 4.2-24.9 .1 3.1-.1 4.1-.4 3.7 .2 3-.4 4.4-.7 3.4 1.1 2.8 3-24.2 .4 3.8-1.5 4.9 1.4 2.9-1 3.3-.1 4.5 .1 2.8 1 4.1 2.4-24.9 .7 3.1-1 5-.7 3.2 .8 3.8-14.1-19 1.3-2.6-.3-1.3 1.8-2.2 2.7-.5 1.5 3.2 1.1 1.8 .4 2.1 2.8-.2 3.2 1.2 .5 14.3-.5 2.9-.9 3.9-.2 .6-1.6 3.4-2.3 2.2-1.7 1.2-2.9-3-.3-1.2-1.2-3.2 .2-3.7-1.5-.9 .4-2.7-2.3 4.4-.3-18.1 .4 2.8-.3 2.8-.3 2.8 0 2.8 .1 2.8 .4 2.8-.4 2.7 14.5-16.5 .4 2.7-.4 2.6-.1 2.6 .8 2.6-15.9 6.8 6.8 9.1 6.8 3 4.5-10.6 16.6 0 3 3.1-15.5-15.9 .4 3.6 1.3-4.8-.5 5 .8 2.6 1.9-27.3-.1 2.9 .8 3.5-.4 3.7 .9 4.5-.7 3.2-.8 4.3-.1 2.7 1.3 4.1-.9 3-.2 4.8 .2 2.7 1 4.4 1-40.6-.1 3.6 1.3 4.5-.6 3.5-.3 2.7-.2 3.7 .4 4.7 .7 3.5-.5 3.4 .1 4.3 .4 2.1-6.5-20.3 1.2-2.9 0-2.5 .1-1.1 1.1-2.6 .4-2.3-.4-2.6 .9-2.7 .9-2.8 2 4.9-.1 1.7-.1 2.9 .6 3.3 .1 1.7-.8 1.8-.3 3.7 .3 2.1 .3 20.2-.9 1.9-1.4-1.2-1.1-2.8-.4-1.1-.5-3.1-.3-2.4-.8-3.2-.5-2.9-1.1-7.4 .5 2.9-.6 3 7-1.4 .2 2.7 .1 2.8 .3 2.7-.7 2.8-.2 2.7 .6 2.8 9-5.4 .8 3.7-.3 3.5 2.4-9.1-.6 3.3 0 3.4 4.4-7.9-.1 2.6 0 3.7-.3 3.8-.5-11.1 1.1 4.6-.1 2.2-.3 3.7 4-10.8 .3 4.6-1.3 3.2-.1-7.7 1.2 2.6-1.1 4.4-7.5-6.4 1.6-1.6 4.5-.2 2.9 .3-.5 10 0 .8-2.9 1.8-2 .6-4.3 .6-.7-10.7 .4 2.6-.5 2.7 .3 2.6 0 2.6 11.2-12-.2 3.7 .2 3.8-3.9-19.6-10.6 14.3 10.6-6 44-33.1 .4 9 3 1.5-3.4 10.4 1.4 4.4-.8 3-.2 4.1-.4 2.6 .9 4.9-1 2.1 1.6 4.3 .5-26.3 .2 3.9 .5 3.5-.6 3.8-.2 3.6 .4 3.5-1.2 3.7 0 3.4 4.3-18-.6 3.8-.4 4 1.3 3.1 0 4.5-.9 3.8-3.6-26.7 .8 .1 1.1 2.5 2.3 2.9 1.2 1.9 1.8 1.7-.2 5.3-1 5.5-.9 3.6-1.9 3.2-2.6 2.6-1.3-28.9-.1 2.9 0 2.9 .1 2.8-.1 2.9-.1 2.8 .2 2.9 .5 2.8-.2 2.9-.2 2.8 0 2.9 7.3-13.5-.3 4.5 6.4-21.7 .8-3.5-1 4.8 .4 2.6 .2 4.9 1.2 3.3-1.2 3.5 .5 3.1-.1 3.9-.7 2.7 4.5-16.6-.3 3.6 .3 4.6-.7 2.8 .4 3.6-1.4 4.6 3.3-16.5 .5 2.7-.5 4.8 .8 3.1-.5 3.5 1.1 3.9 3-8.4-.4 3.9-10.2-26.4 .9-2.4 .7 2.3 .7 3.8 .3 1.3 .7 3.6 1 2.5 2.7 3.4 2.1 2.1 .6 2.9 1 7.4-1.3 2.1-2.8 3.4-3.7-1.9-2-1.6 0-2.4-.7-3 .4-1.6-.2-3 .6-1.8-.1-2.5-.7-2.6-.2-2.5 0-2.4 .8-3.5-.9-3 .8 1.5 10.3 19.6 0 4.5-11-30.9 18.6 11.8 1.1 4.2-.9 4.5 .8 2.4 .3 4.4-1.1 3.1-.2 4.2 .5-25.5 0 2.8 .9 4.9-.7 2.5 1 3.7-.3 4.7-.7 3.7 0 2.4-.5-24 .9 .2-.5 9.6 .1 3 .7 1.6-.2 3.2-.1 2 .2 3 .1 1.9-.8 2.3-.4-25.2 .4 2.8 .2 2.8-.5 2.9-.2 2.8 .8 2.8 0 2.9-.2 2.8-.5 2.9 .5 2.8 .3-24-.1 2.9-.1 3-1.9-28.5 1.6 3.9-.9-10.8 .4 3.4 .3 3.9 .8 3.9-1.7 4 3.4-17.3 .1 4.3 .8 3.5 .3 2.9-.9 3.4 .6 4.3 3-18.5-.2 2.9-.2 4 .3 2.8 .2 4.1-.1 4.4 2-10.7-.2 3 .4 4.6-1 4.1 1.2 2.6 .9-7.2 1.1 3.3-.1 3.8 1.5-18.8 1.3 4-.4 4.1-1.3 3.3 .2 3.9 3.7-23.1-1.4 4.4 .1 4.1 1 2 0 4.5 .2 2.7 3.2-17.4-1.3 2.5 1.3 4.1-.5 3.5-18.8 3.3 0-4.6 0-1.7 .2-2 3.3-1.6 3.2-.1 .5 3 1.6 2.1-.1 2.1 1.5 4.2 1.4 .3 .5-2.6 .6-1.1 .2-3.9 1.1-2 .5-2.2 .3-3.2 1-2.6 2.6-1.1 1.4 13.6-1.3 2.8-1 3.1-1.3 1-.5 3.6-3 1.8-1.1 3.2-1.3 1.9-2-1.5-.6-1.4-2.1-.9-3.6-.1-1.9-1.5-.1-8.3 .4 4.4 19.3-22.5-.5 2.7 .7 2.7 .2 2.7-.1 2.7-.8 2.7-.2-10.2-1.4 3.7 .6 3 .8 3.8 0 4 .1-14 1.1 2.8-1.3 3.5-.2 4.7 2.6-4-.3 4 .2 4 .8 2.5 .6 3.7 1-1.3 .6 5-.4 2.1 .2 5.1-.4 3.6 2-10 .1 4-.2 3.4-.1 4.4 1.5 3-1 2.8 .6 3.8 2.4-19.3 .2 4.3 .2 2.3 .3 4.2-.8 4.7 .4 3 1 4.1-1.7 2.1 4-28.1 .5 4.6-.4 3-.8 4.3 .3 2.5 .5 4.6 .5 3.6 0 3.8-.5 2-13.8-55.4 1.4 1.8 .4 2.3 .1 2.3 1.5 4.7 .5 .9 .2 2.8 1.1 3.8-.2 1.4 1.5 4.1 1.3 2.8 4.3 1.2 1.9 .8-.7 1 .7 3-.3 16.9 .3 2.3 .1 2.8-1.7 2.6-2.9-1.3-.6-1.7-1.2-3.4-.5-3.1-.6-1.1-.8-3.6-.2-3.3 0-2-1.4-2.4 .3-2.4-.4-3.2-.4-2.9-1-2.7-.5-2.7-.2-2.1-1.1-2.9-1.1-.1-.6-17.1 .8 2.7-.8 2.7 .2 2.7-.3 2.6 .3 2.7 .1 2.7 .4 2.7 13.6 16.6 .8 2.7-.5 2.7 .4 2.7-.4 2.7 .5 2.7 0 8.4-1.5 9 19.3-25.6 0 7.1 24.7-44.9-.8 5.1 .1 2.6 .6 3.6-1.1 3.5 .5-11.6 1.1 3.1-.6 3.1 0 4.5-.4 2.9-.7-16.7 .6-.8 1.6 21.8-1.7-1.4-.2-20.3 .2 3-.1 3-.3 3 .1 3 .3 3-.1 3 1.4-15 0 2.8 .4 2.8 .3 2.8-.1 2.8 .2 2.7-.1 2.8 0 2.8-1.6 14.7 1.4 .5-1-2.1 .3 .4 .6 7.7-.5-3.6-.8-3.9-.5 2.9 2.1 .1-.7 4.4-5.4 3.1 .8 9 0 6 6.8-12.8 0 4.5-.8 6.1 11.3-21.9 0 6.8 .8 9 2.2 4.6 1.5 1.5 4.2-10 2.6-3.5-.4 3.3-.2 3.5 .3 2.5 3.1-10.9 .1 2.6-1 4-.5 3.5 .1 4.4 3.2-22 1.3 3.1-.4 3-.6 4.7 .5 4-.1 3.2-.5 3.6 3.3-30.9 0 3.1 .9 3.5-.4 4.2-1 3.8 .2 4.1-.1 3.2 .5 3.7 3.5-20.6-.1 4.4 .5 2.5-.6 4.7-.7 2.9 1.2 2.9 2.2-4.3 .6 3.4-16.2-4.3 1.8-3.8 2.4-1 1.7-1.4 1.1-3 1.6-4-.3-2.6 1.4-1.3 2.4 1.8 1.2 4.2 .6 2.4 .9 1.5 .4 2.2 .2 2.6 0 7.5-.3 .9-2.6 2.6-4.7 3.1-1.9 1.8-3 3-2.2-3.2-1-3.9-.1-2.1-.2-6.9-.4 4.4 16.9-2.9 .7 4.4-8.5-51.9 0 4.5-1.5 12.1 0 3 8.9-19.5 0 4.4-.6 2.6 .9 4.4-.1-13.1 .2 2.6 .9 4.3-.5 2.6 .3 3.9 2.8-18.7 .1 3.7-1.2 3.7 .2 3.9 .5 3 .1 4 .2 3.6-.4 2.8 2.5-25.1-.4 3 .8 3.6-1 4.8 0 2.4 .2 4.9-.6 3.3 3-17.9 .6 3.9-8.1-2.9 .9-3.8 1.1-2.2 .9-1.3 2.4 2 2.5 2.4 .3 11.1-.7-1.3-1.4 2.2-.1 3.2-.3 2.7-.2 1-1.5 4.5-1.3 2.3-1.3-4.2-.8-2.5-.7-14.6-.2 3 .2 3-.5 3-.1 3 9.1-13.5-.2 3 .8 3-.5 2.9 .4-11.3-.9 3.6 3.7 .9 .5 3.9-.6 3.8-.1 4 3.3-10.2-.4 3.6 0 5 .9 3.6-1 3.5 .3 2.6 2.9-16.1-.4 3.9-.1 2.6 .1 3.5 2.9-8.9-.2 2.4 .3 4.1 4.1-4.4-.3 2.2 0 3.9 2.7-7.4 .8 3.7-.8 3.4-.8 3.8-15.4-20.3 2.6 3 3.1 2.1 3.2 2 1.7 .1 3.5 .4 2.6-.4 .6 8.1-.4 4.7-1.5 1.4-2.9-2.4-2.6-.9-2.8 3.2-3.5 1.6-1.1-2.1-.6-2.9-1.2-4-1-2.4-1.2-3.1-.1-9.7-.5 3.7 .9 3.7 18.1 1.6 .2 3.7 .2 3.8 7.2 0 .3 3.3-.6-3.4 .3 5 .6 3.9-.6 2.2 2.2-4-.8 3.3 1.3 4.2-1.4 2.5-1.4-19.3-.6 1.3 2.4 3.8 .7 3.3 1.8 2.4 .2 3 .1 2.6-.9 2.7 0 5.1 .3 1.9-.5 2.5-.7-2.8-1-4-.4-1.3-1.9-4.3-.2-2.6 .5-3-.3-11.3 .2 3 .2 3-.4 3 4.5 12.1 .6 3-10.7 2.5-.5 3.2 1.3 4.3-1.2 3.1 .6 2.6-.1 3.9 .7 3.3 .4-17.9-1 3.4 1.5 2.7-.1 3.7-.7 3.2-.1 4.1 .4 3.4 1.8-13.3 .8 3.2-.9 2.8 .8 4.3 1.8-11.3 1 3.7 .3 3.1-.4 4.2 2.6-15.2-.2 4.8 .4 2.4 0 4.5 3.5-3.2-1 3.6 1 4.3-12-23.4-.2 2 1.3 3.2 .6 2.6 1.9 2.2 1.8 0 1.1-2.8 2.5-1.6 .9 3.7 .3 1.7 1 2.9 .9 7.9-.6 2.8-3.4-3-2.9 1.9-3.2 1.6-2.4 1.2 .3-26.3-.6 2.9 .8 2.8-.7 2.8 0 2.9-.1 2.8 .3 2.9-.4 2.8 0 2.8 .6 2.9 13.1-9-.7 4.5-24.2-19.6-.7-10.5 27.9 6.7 0 28.7-11.3 3.7 3.7 .8 6.1 .7 21.8-30.9 .8 3.1 22.6 9 0 3.8 0 5.2 5.7-6-5.7 14.3 21.8-32.3-.8 3 1.5 3-5.3 1.5-17.3 8.3 0 3.8 0 4.5 5.3-6-5.3 14.3 32.4-37 0 4.6 .8 4.5-.8 3.8 .8 5.2-.8 9.8 0 9.1 65.7-38.8-1.2 0 0-.2-.7-6.5 2.5-2-.9-2 .3 4.6 .6-1.9 2-2.9-.1-3.6-1.4 1.4 2.1 8.9-.7 .9 .7-21.3-2.3 15.6 1.6-8.8 .9 10.6-.9-3 1.5 1.3 1.9-.1-1.1-1.1 1-4.9-1 4.6 1.6 2.6-1.9-15.8-.3-3.1 2 .4-.5 11.4 0-.4 1.2 2.6 0-8.1 1 15.7 1.7-14.4-1 16-1.5-13.4 1.5 13.6 .5-13.3-2.2 3.5 2.1 11.5 3-6.3-.8-3.4-.8 10.7 2 3.3-.8-17.6-1.3-4.6 1.9 22.2-2.1-9.3 .3 .1 2.2-2.5-2-5.4 3.4 17.7-.7-5.7 .4-1.6-.7 4.9 1-11.6 .9 11.9-2.1-13.2 .1 6.8 2.5 20.3 0-24.2 1.8 24.2-2.1-11.8 1.8-13.8-1.5 7.7 .7 16.5-.5-14.2 1 8.3-1.2-2.5 2.2-8.3 .4-1.7-.4 11.2 1.1 9.1-.6-.5-.8-2.1 1-5 1.1-17.3-2.1 13.1 2.2-9.8-1.3 22.3 1.1-3.4 .8-1.2-1.7-26.6 1.6 37.3-2.4-34.4 3.1 6.8 2.4 1-1 19.5-1.2-1.5 1.6 7 .7 1.4-.9-9.6-1.5-1.3 .8-13.1-1.3 10.5 2.9-12.1-1.2 19.8-.1 5 .9-13.6-2.5-10 2.6 4.8 2.2 1-.1-12 .7 12.9-2.1 6.2 2.3-12.8-2.6 10.6 .3-8.2 1.1 6.7 1.1 5.3 .2 3.7-1.4 2.3-1-12.3 .5 4.7-.5 3.9 2.9-.7 .1-12.3 1.5 3.8-.5-2.2-.2 15.6 1-7.2-1.7 1.2-.1 6-.2-24 3.9 23.2 .5-2.6-1.9 2 .7-8.3-.6-5.7 .8 11.3 2.6-1-.5-4.4-1-1.1 1.9 2.8-23.1-.9 3 12.8 3 6 .8 6.1 9.8 0 3.7-1.5 3.8-3.1 6-7.5 0 9.1 .8 6-8.3-1.5 5.8-32.3-.2-11.1 1.2 11-1.7-4.4 0-3.8 .4 7 .8-8.2 2.4 .7-1.4 17.6 .3-14.4 .1-3.6 .7 8.4-1.6-.4 8.2 24.1-.7-20.9 1.4 15.1 .1-19.1-1 9.2 .4-9.1-1.2 6.2 3 19.8-.3 3 .6 2.6-1.4-8.9 .3 9.8-.4-6.5 2.1-29.6-2 13.8 .9 .9-.8-11 1.8 7.4-.8-3.9 3.2 7.2-1.8-11.7 1.4 19.3 0-12.3-1.2 .5 1.6 1.4-.5 12.7-1.4-13.6 1.7-4.5-.8 17.3-.7-1.5 2.6-10.9 1.2 10.8-.1-9.5-.9 12.1-.1-12.2 1.3-8.8-1 19 0-4.9 12.8-21.8-1.9-1.1 1.4-6.1 .2 16.2 .4-19.7-.1 13.6 1.4-2.9-.7 8.4 1.1-15.9 .3-8.6-.4 25.9-1.1-4.4 .2-1.7 1.5-10.6-.5 13.6 .4 11.2-1.6-14.1 2.8 6.7 1.3 1 .1-29.6-1.9-.2 1 38.5-1.1-35.5 .8 34.1 .9-14.5-1.2-17 .3 20.1-.6 11 1.8-4.8-.2 4.6 1-12.3 .2 5.6-.3-27.9 .8 12.8-1.2-2.9 .9 16.4 .1 3-.2-4.3-.8 13.1-.1-10.8 .6-26.6 .8 34.1-.1-10.8-.2-15.9 1.6 2.6 1 9.7-.2-2.5-.9 15.4 .3-22.4 1.1 34.3-1.1 1.4 1.4-27.2-.4 .7-.7-.5 .1 6.6 1.5 9.7-.2 8.6 .6-14.7-.1 11.9 .9-5 .1-13.1-.1 1.2-10.6 34.3 5.2-.7 9.8 1.5 1.5-19.6 1.5 12 6.6-22.2 0-8 2.4 11.8-1.3 12.2-.5-17.2 1.6 18.1-.2-12.6-2.2-11.7 .9-8.5-.7 15.8 2-.7-.8 8 .2 6-1.7-9.1 1.3-4.5 1-6.5 2-5.4-.1 22 .4-30.3-1.2 24.8 1.2-8.7-1-15.4 .5 43.9-1.3 1.5 .1-17.4 1.2-18.8-.8-2 1.4 25.2 .5-18.1-1.9 10.5 2.3 17.9-.1-10.7 0-18.7 .3 13.6-.4-7.1-2.5-14.9 2.2 16.6-1 12.6-2.4 1.6-1-11.1 .2 3.4-.3-22.7 .6 43.7 .7-28.2-1.7 11.5-.2-18.5 1.3 10.2 .9-20.8-.9 38.9-.3-18.4-.3-13 .4 33.7-1.5-13.3 .1-2.6-.4 .8 .6 5.2 2 12-2-32.1 .8 16.4 2.9 10.5 1.6-16.3-2.3-13.1 2.3 17.9-2.4 20.8 1.6-47.5-.9-2.2-.1 48.9 .7-23.6 .8-22.3-1.2 18.2-.6 23.9 .6 2.8-.2-43.5 1.2 1.8 0 14.3-1.3 9.6 1.6 12.5-.4-16.6 .7-.4-1.8-25-.6 2.9 4.9 6.3-2.2 6.1 2.1-1.3 0 18.7-.8-10-.7-10.2 1.8 18.4 .3-18.8-2.7 27.9 2.7-15.5-1.6 16.4-.4-11.3-.9-18.5 1.6 23.5-1.5-9.2 1.7-8.4 2.3 1.6 1 2.7-1.7 2.4 .1-1.6-.5-9.8 .6 17 14.4-28.6 0 5.3 0 10.5 0 9.1 0 7.5 0 6-3.8 7.6 9.6-22.7-1.9-3.9 1.9 2.3-1.1-5.8-.7-1.1 .9 18.2 1-4.5-1.7-15.6 3.9 12.2-2 7.1 2 10.4-.3-13.7-.2 9.4-.9 .8 1.6-22-.1 16.1-2-15.4 .2 20.9 .6 3 .2 .6 1.8-11.8 .1-3.5-.5 5.2 .8 5.1-1-21.8 0 4.2 .4 22.5 1.3-9.1 3 5.4 .2 1.3-1.9-3.1-.7-4.8 1.8 6.5-1.4 6.1 .1-8.3 13.2 8.2 .1 3.3 .6-2.8 1.2-2-2 1.6 4.9 3.2-2.5 .1-.1-3.8 8 4.1-.8-7.7-.2 5.6 .3-.7 2.1-4.6 .8 3.6 .5-4.5 .7-8.7-.9-5.1-.9 19.4 1.3-20.9 .3 7.8-1 13.1 3.6-14.8 0 6.6-1.9-17.3 .9 2.7 .8-.3 .1 13.1-.3-25.5-.4 33.8 .8-36.2-1.3 24.8-.6-21.3 1.4 19.3-.9-8 2.2-.1 1.7 9.1-.8-14-.1 13.2 .9-9.1-.8-9.1-.2-4.7-1.2 16.7 .6-16.3 .6 32.8 .1 2.3-.3-16.9 .6 14.6 1.7-6-.9-8.1 .2 11.1-.1-10.2 .6-6.5-.7-7.7-.1 1.7 1.7 12.8-.2-7.6 .2-1.6-.8 10.3 3.6 6.4-.8-10.7-1-10.3 .4 4.7 .8 11.1-1.4-14.8 2.3 20 .2 8.4-.7-5.5 3.5 .5-.3 2.1 .1-.5-1.5 0-.1-1.7 1.2 9.1 .9-8.3 2.8 5.4-2.4 1.5 1.9-2.1 .1-1.8-1.7-.4-.5 3 13.5 2.7 1-15.5 .5 .5-1.6 6.8 1.1 4.3-.5 3.5 2.8-4.3-1.4-5.2 1.1 9.2-.6 .6-.6-12.5 .8 5.9-.6-12 2.6 2.7-.3 2-.1 2.3 2.5 3.6-.9 6.7-1 .2 1.6 1 0-12.9 .1 10.5 2.7-3-1.2 5.3 0-.5 1.2-2.8 .1 3.3-.1-6.3 32.8-28.7-.3 4.6-.5 2.8-.5 5.5-.2-30.5 1.1 32.2 .1 3.7 .8-18.8-.9 1.9 0-13.9-.6 22.1 .4 2.2 .9-5.3-.2-9.3 2.4 1-.1-15.2 .6 23.8-1.3-5.1-.5 6.6 1.5 8.7-.1-25.7-1 16.3 0 1.6 1.2 4.8-.2-7.2-.7-2.8 .9 2.9-2.8 11.6 1.5 3-3.7 4.5 5.2 6.1-21.1-6.8 27-31 .5 2.5-.8-6-.7 1.8 .5-9.5 .1 26.6 .7 4.5-1.2-32.2 0 7.4 0-2.1 .2 9.7-.4 15.1 2.2-12.2 .7-11.9 .7 1.5-.4 2.3 1.8 6.5-.9 1-.1 5.6-1.9-5.4 1.2-9.9-.7 .3 .7-2.9-.3 26.7 .8-.7 0-17.4-1.1-15.2 2.4 23.8 2.4-14.1-1.7 .8 .5-4.2 .5 13.3-.9 1-.4-12.5 1.7 12-1.1-8.5 1.6 6.8-1.2 6.2 .8-20.1-.9 23.8 3.8-13-1.8-11.1 .3 12-.3 .8 .2 1.2-.1-15.2 1.4-8.1-.8 12.6 1.3-9.1 1.3 .5 .8 4.9-2-1.3 .7-5-.2 3.8 .9-9.1-.1 5.1 2.8-.3 .8-3.8-2.3 12.6-.2 3.5 1.5-5.1 .3-8.6-.4 7 .6 4.9-.7 2.1 3.5-11.1 .1 1.7 .3 0-1.6-4.1 1.3 7.6-1.5-8.9 2.5 15.9 .6 7.6-.7-12.1-12.2 36.4-1.5 9.1 33.1-31.1-.3 12 1.3 1.4 .2-25.9 .1 17-.2-3.9-1.1 8.4-.5-.2 2.8-21.8 .7-12.1-.5 3.1 .1 29.1 .9-12.6-.9 11-.7 1.7 .2-21.4 1.6 8.5-1.5-2.2 .6-2.1 .5 9.8 2.8-3.4-1.8 7 .9-11.9-1.2-3.1 .2-12.2 1.4 24.2-.4 6.8-1.1-10.8 .1-8.5 1.4-13.4 .3-6.1-.1 24-1.6 7 3.9-7.1-1.6 .3 .2-10 1.1 .4-.1 9.6-.7-13.8-.8-10.6 .3 14.9 1.9 10.4-.3-3.8 .1-5.8-1.4 14.9 2.3-2.8-.3-11.1 .6 21.2-.9-19.1 .2-4.1 1.2 20.9 .9 9.1-.2-.2 .1-17.2-.2 8.6 .1 .9-17.3 23.8-.7 5.3 1.5 3 17.3-48.3-.7 27.2 0 9 .7 3" fill="none" stroke="none" marker-start="url(#mA)" marker-mid="url(#mA)" marker-end="url(#mA)"/>
<path d="M211.2 318.9l15.8-17.4-2.3 3.8 1.5 3-1.5 3 2.3 3.1-1.5 3 2.2 9 .8 6 99-38.4 .4 2.3-.4 2.2 .7 2.3-.3 2.3-.4 3.7 .7 3 2.3 8.3-1.1 12.1-4.2 9.8 222.1-43 .7 1.5-.7 1.5 1.5 1.5-1.5 1.6 2.2 1.5-1.5 1.5 .8 2.2 1.5 2.3-2.3 1.5 .8 2.3 1.5 2.2-6.1 2 6.8 0 0 4.8-.7 3 .7 3-.7 3 0 3.1-5.8 9.7 164.4-33.9 179-.6 0 3.7 .8 18.1-4.6 9.8 59.6-49.7 0 29.4 3.8 3 .7 4.5-1.5 3 2.3 3-.8 4.6-2.2 5.3" fill="none" stroke="none" marker-start="url(#mS)" marker-mid="url(#mS)" marker-end="url(#mS)"/>
<path d="M90.3 310.6l0 11.3 .8 .7-1.5 5.3 2.2 6.8 135.9-36.2-3 3.8-1.5 3 3.8 1.5-4.5 3 5.2 1.5-4.5 3.1 3 1.5-4.5 3 6.8 3-5.3 3 3 1.5-3.7 3 5.2 12.8 99-52-.7 3.1-.8 3 2.3 3-2.3 3 3 3-4.5 6-1.5 3.1 3 0-4.5 3.7 3 2.3 3-1.5-5.3 4.5 3.1 3-4.6 3 3 3-2.2 2.3 9-11.3 1.5 15.1-8.3 3 2.3 3 4.5 0-1.5-34.7 3 6.1 212.3-6.8 1 14.3 6.5-12.1 .8 9.1 0 12.8-.8 11.6 44.4-26.6-4.5 16.5 295.5-58.7-.8 3 1.5 2.2-2.2 2.3 1.5 2.3-.8 3 2.3 3-3 3 2.2 3-1.5 3.1 3.1 1.5-4.6 3 2.3 1.5-3 3.8-.8 3.7 1.5 3-2.2 2.3-3.8 5.3 5.3 0-.8 4.5 2.3-3 17.3-5.3 52.1 20.4-66.4-55.8-.8 9-.7 4.5" fill="none" stroke="none" marker-start="url(#mT)" marker-mid="url(#mT)" marker-end="url(#mT)"/>
<path d="M156.6 342.5l135.5 .2 44.4-28.6 6.5 19.8 0 4.6 56.3-24.1 0 3.7-1.9 7.9-2.6 14 51.5-33.5 .8 29.7 20-6 6.8 5.3 4.5-11.3-11.3 18 11.3 0-7.5 3 13.6-35.4 .7 3-.7 3.1 .7 3-.7 3 .7 3-1.5 3.8 2.6-51.7 106.7 46.9-2.5 6.3 1.3 4.2 .3-17.1-2.7 12.6 7-5.3-1-7.4 1.6 15.9-8.5-2.3 4.4-9.7 3.3 8.6 1.6 .5-.4-1.5-5.6-3.2-3.4-3.9 3.9 15.6 4-.7-2.9-2.3-4.6-14.3 4.1 13-3.2-10.9 5.5 .5-3.3 7-3.1-12.1 1.2 6.3 .1 4 95.8-14.1 13.5 0 .8 .8 .7 7.5 0 6-17.3-1.8 82.9 9.4 4-14.1-3.7 14.1 24.1-14.4 .7 5.3 5.3 1.5 .8 3-5.3 4.6-3 4.5 3.8 5.2 36.1-33.9 .8 20.7 22.1-4.8-2.5 15 28.1-63.7-.9 3.5 .9 1.5-1.2 1.1 1.2 1.2-.9 2.2-.3 3.1 .3 2.2 0 10.6 0 7.5-.3 6.8 60.3-6-.7 16.9 13.5-9.7" fill="none" stroke="none" marker-start="url(#mC)" marker-mid="url(#mC)" marker-end="url(#mC)"/>
<path d="" fill="#000"/>
<path d="M129.3 402.4l-.8 4.1-.1 4.3 .4 4.6-.5 3.5 0 3.6 .9 5.7 .2 3.3 .2-44.2-.5 2.8-.4 4.5 .5 4.9 .9 3.3-.7 4 1 4.4-1.6 4.2 .1 2.6-.2 4.9 1.4 4-.1 4.5 1.1-44.9 1 3.5-.6 4.1 .4 4.7 .7 3.7-1.4 3.6 0 3.4-.1 4 .5 5.1 1 3.6-.9 3.8-.4 3.4 1.8-55 1.2 3.8-.4 4.9 .3 2.9-.6 4.6-.4 4.1 .2 4.6 0 3 .4 4.4 .1 3.2 2.7-42-.4 4.8-.4 4.3 .1 2.8 1.1 4.2-1.4 4.9 1.5 3.6-.4 3-.9 4.2-6.5-2.1-.3-2.4 0-3.9 .9-3.4-.9-2.2 3-2 1.4-4.8 .5-2.2 .1-4.5 1.2-2 1-2.7-.4-2.8 1 16.5-.4 3.7 .7 2.7-1 3.5 1 1.3-1.1 3.4-.2 2.4 0 3.6-.2 2 0 4.5-1.6 3.4 0 3.9-.9 4 0 3-.3 2.9-1.2 4.1-.5 2-1.4 .6-.9-32.7 .5 2.7-.2 2.7-.1 2.6-.2 2.7 .6 2.6 0 2.7-.2 2.7 .3 2.6-.8 2.7 .6 2.6-.6 2.7 0 2.7 0 2.6 8-70.7 .5 3-.4 3-.1 3-.2 3 .7 3-.1 3 3.9-14.4 .7 4.1 .7 4.5-.4 3.2 .3-1.9-.9 3.3 1.3 5.1-.8 2.8 .4 4.5 2.3-9.2 .4 3.8 .5 4.8-1.4 4 .9 3.8 .3 3.3 1-11.7 .8 3.8 .3 4.5-.2 5.1-.3 3.8 .6 4 1.7-10.6 .1 3.1 .5 4.6-.4 4.1 .1 3.8-.7 3.3 .1 4.7-7.5-59.3 1 4.3-.3 1.6 .8 4.9 1.1 4.4 1 2.9 .8 3.6 1.1 3.1 .6 2.9 1.1 3.5 .9 2.5 .2 3.2 .3 30.2-.3-3.4-.9-2.9 .4-1.9-1.5-2.8 .1-4.2-1.1-2.1 .1-4.7-1.6-3.3 0-.9-1.2-3.2 .2-3.4-1.3-3.7-.1-2.7-.9-1.9 .1-4.3-.3-2.9 .5-20.2 .1 3-.2 3-.4 3 .2 3 .1 3-.3 3 8.2 22.7-.2 2.8 .3 2.9-.9 2.8 .8 2.9 0 2.8-.2 2.9-.3 2.8 .2 2.9 .2 2.9-.6 2.8 1.7 9.2-.3 5.5 1.1 4 .1-11.2-1.1 3.6 .8 3.9-.4 3.1-.6-10.8 1.4-2-.2 3.2-.1 6.3 0 4.8-.9-12 .4 3-.1 3 .2 3 0 3 .5-9-.2 4.5 2.7-43.5 .8 1.5 4.5-.6-1 4.3 3.6-5.9-.9 4.8-5.9-5.8 1-.3 3-.8 3.5 2.1 .6 4.7-2.5 1-2.6 .8-3-1.3-1-6.1 .7 2.9 8.6-1.4-.6 4.4 7.4 5.3 .4-.4 .6 4.8-1 3.1 3.6-5.7 .1 3.5-2.9-9.1 .7 1.2 2.5 0 3 1.5 .3 4.7-1.2-3.7-1 3.4-2.6 4.7-2.4 .6-.2-2.1 .7-10.2-.9 3.7 .1 3.7 7.9-4.4 0 4.4 .9 6.8-.3 27.5 .9-26.6 .3 2.7-.5 2.7-.3 2.7 .2 2.7 .4 2.7-.4 2.7-.2 2.7 .4 2.7 .1 2.7 .2 2.7-2.1-30.1 .3 2.8 .3 2.7-.2 2.7-.2 2.8-.5 2.7 0 2.7 .3 2.8 .3 2.7-.1 2.7 0 2.8-.1 2.7-49.3-5.2 6.3-16.6 8.3-12.8 0 7.5 .4 12.1 10.9-18.9 0 15.1 9.8-6-8.3 19.6 20.9-33.5-.1 3.8 .7-6.4 .1-.9-.2 1.2 .7 2.2-.9 2.7-.6-6 .5 3.7-.4 3.7 1.1-5.9-.3 1.4 1.1 24.4-.8 4.9 .6 4-.1 4.8 2.2-8.9-.5 5.1-.7 3.7-.3-13.6 1 2.7 1.3 12-2.3 .2-.9-15.1 0 3 .6 3-.3 3 .3 3 0 3 2.3-9-.1 3-.4 3 0 3 6.3-45.7 .2 3.6-.6 4.7 .9-10.9 1.1 3.9 3.1-2.8-.5 4.4-3.6-7.1 1.2 1.1 2-.2 1.3 6.6-1.2 .1-2.2-1.9-1.4 3.9-.4-9.3-.3 2.9 .8 3-.2 3-.3 3 5.8-10.4-.4 4.4 1.5 15.7-.7 3.6-.2 3.8 0 3.5 0 3.3 .8 5.4-.7 4 1.1 4.4 .1-28.4-.1 3.9-.6 4.8 .1 3.2-.1 4.3 1.2 4.9-.3 2.9 1.9-25.2 1 3.5-1.4 5.1 .1 3.8-.1 3.6 1.2 4.6-2.7-20.8-.3-.3 2.9-2.3-.8 25-.2 2.4-1.6 3-.4-28.1-.4 2.8 .2 2.7-.2 2.7 .5 2.8 .1 2.7-.4 2.7-.1 2.8-.1 2.7 0 2.7-.1 2.8-.2 2.7 3.9-30.1-.9 2.9 .3 2.8 .6 2.8-.1 2.8-.3 2.8 .2 2.8 .3 2.9-.8 2.8 2.4-41.1-.1-3 1.4 4.6 1.8-4.3 .2 3.9-3.6-3.5 2.3-.4 1.6 1.3 .3 3.3-1.4 .8-2 .6-1.3-5.9-.3 4.5 4.9-1.4 .5 1.4-16.6 46 12.8-31.7 27.9 28.7-.8 3 24.9-1.5 21.1-6.8 0 7.5 54-25.3-.6 4 .1 4.3-.8 3.6 1.4 3.6-.9 4.4 .9 4.6 0-29.1 0 2.7-.3 5.2 .4 3.5-.1 4.2 .4 4.4-1.5 3.9 0 3.9 .9 3.4 1.8-28.2 .4 3.9-.5 4 1.2 4.2-1.5 5.5 0 3.7 .7 3.9-2.1-27.8-.2-2.1 2.2 3.6 .1 4.4 .7 1.2-.6 20.4-1.4 2-1.6 1.3 0-29.9 .1 2.8 0 2.7 .1 2.7-.3 2.8 .2 2.7 .3 2.7-.2 2.8-.2 2.7-.2 2.7 0 2.8 .6 2.7 3.2-21-.1 2.7 .1 2.8-.3 2.7 .4 2.8-.5 2.7-.2 2.8 7.5-12.8 0 15.1-7.6 1.5 40.4-5.3 .3 3.6 1.5-18.5 0 3.4-1.5 4 .8 5.5-.7 3.8 .8 3.3 1.6-25.7 .6 3.6-.5 3.6 .6 4.8 .1 4-.4 4.3 .3 4.4 2.1-28 .6 4.4 0 3.6-1.3 5.4 1 3.1-.6 5-.5 3.8 .9 3.1 2.8-21.7 0 3.5-.7 5.4-.4 3.7-.3 3.8 .5 3.3-7.5-5.6 .4-3.4 .7-2.2-.6-4.9 1.2-3.3 .8-3.3 1.4-2.8 1.3-.9 1.6 3.2 .8 2.6 .2 3.8-.2 3.4 .5 2.6-.1 14.6 .1-.3-3.4-.4-2.1 .1-1.8 .3-.5-9-.2 3 .8 3-.8 3 7.6-12 .4 3 .5 3 0 3-.7 3 5.7-12.7 0 3.6-1 4.2 1.2 3.2 1.6-39.5-1.5 4-.2 4 .7 4.1 .3 3.8-.3 4.9 .2 3.1 .2 3.8-.7 3.6 1.2 4.4-1.4 4.5 2.7-44.8 .1 3.7 .8 3.9-.1 4.8-1.2 3.8 1.3 3.2-1.6 5.2 .5 3.3 .7 4.1-.9 4 .6 3.9 3.1-39.1-1.1 4-.5 5.1 .5 3.1-.5 4.3 1.6 5-1.1 2.5 .5 4.4-.4 3.9-6.1-1.3 1.3-2.6-.4-3.6 .3-1.4 .3-4.5 .1-3.3-.1-2-.2-3.9-.2-1.1 .8-2.3-.6-3.5 2.2-3 1.5-2 1.6 1.1-.3 33.2 0 3.4-1.7 2.5-1 3.3-2.5 3.5-.1-13.3-.3 2.7-.2 2.7 0 2.7 .5 2.7-.9 2.7 6.2-45.1 .4 2.6 0 2.6-.2 2.7 .6 2.6-.5 2.6-.2 2.7 .2 2.6 .1 2.6 .3 2.6-.8 2.7 .1 2.6-.1 2.6-1.3-32.6 .3 2.9 .2 4.1 .6 3.6-.5 4.5 .1 4.6-.2 3.5 .8 4.7-.8 3.3 .6 4.8 0 3.5-.3 4.2-.8-42.4 1.4 3.7-1.2 3.5 1.4 3.8-.5 4.6 .2 4.5-1.3 2.9 .2 4.6 .3 3.6-.1 4.4 1.1 3.9-1.4 3.2 3.1-43.6 .2 3.9-.1 5.1-.1 3.1-.7 4.6-.2 3.8 .5 3.4 0 4.7-.3 4.8 0 4.2 .6 3.6 1.6-26.9-.2 2.4 1.1 5.4-.1 2.9 .3 4.4-.9 3.2 1.2 4.9-.7 4.2 .2 4.6-5.6-48.8 1.5-.4 1.6 .7 .1 3.5 .9 3.1-.2 2 .8 4.1 .5 2 .7 4 .1 3.3 .1 1.8-.4 23.6-1-.7-1.2-3.1-2.5 3-.9-46.7 .2 2.6 .1 2.7-.2 2.7-.1 2.7 .6 2.6-.3 2.7 .1 2.7-.4 2.7 .8 2.6-.4 2.7 .3 2.7 0 2.7-.2 2.6-.4 2.7-.2 2.7 0 2.7 .1 2.6 .1 2.7 5.9-21-.5 2.6-.3 2.6 .2 2.7 .3 2.6 .4 2.6-.8 2.6-.1 2.7 .5 2.6 50.9-45-.3 4.5-.8 4.5 1.3 2.8-.5 5-.1-16.8-.4 5.1 .7 2.6 0 4.7-.3 3.8 .1-19.4 .6 .7 1.4-1-.1 8.5 .3 2.2-.6 4.1-.7 2.9-.6 2 .3 2.8-1.1-22.1 .6 2.8 0 2.8-.1 2.8 .1 2.8-.1 2.8-.6 2.9 .9 2.8-.1 2.8 2.4-19.5-.2 4.4-4.1 27.4 .5 3.7 .1 4-.5 4.1 .2-19.2 .2 4.2 .2 3.7 .5 4.4 .3 4.5-.6 4.4 2-17.2 1.1 3.7-1.5 3.1 1.1 4.4-.9 4.6-2.5-17.8 .9-1.9 2.2 1.2 .8 19.8-1.6-.3-1.9 .4 .5-18.5-.4 3 0 3-.1 3 .4 3-.3 3-.2 3 2.9-15 .6 3-.6 3 .9 3-.4 3 .2 3-44.4 0 40.7-29.3 32.4 9.8 0 6 .8 6 .7-41.4 0 8.3 0 6.7 8.3 22.6 2.3 7.6 0-22.6-2.9-19-.1 4.1 .2 2.8-.2 4.7-.2-14.2 .6 3.6 0 4.8-.6 3.3 .5 3.7-.2 5.5-.6 3.2-.3 4.2 3.3-46.8-.2 4.6-.2 4.4 .1 4.5 .3 3.1 .4 3.4 0 5.4-1.5 3.5 1.5 3-.6 5.2 .4 3.4 .2 4.4 1.4-44.9-.2 3 .7 3.6-.9 4.6 .8 3.8-.3 4.8-.1 4.3 2-17.2 1 4.8-1.1 4.1 1.2 3.6 2.1-10.3 .1 4-.6 3.5-.1 4.3-.2 4.4-9.2-7.2 .9-3.2-.1-3.5 .2-1.8 .4-4.9 1.4-1.9 1-4.2 1.6-.2 1.6 4.4 .4 3.7 2.2 3.1 .6 30.1-.3-2.5 .2-3-.6-2.8 .6-3.7-1.3-3-.2-2.8-1.6-1-2 4.1-.4 2.8-.9 3.3 .2 2.8-.2 4.2-.2 .9-.7 4.1-.4 3.6-1.5 1.9-.5-3.2 .3-2.6 .1-2.9-1.2-3.6 .4-18 .5 2.7-1 2.8 .4 2.7 .5 2.8-.7 2.7 .2 2.8 10.7-22.6 0 2.9-.4 2.8 .4 2.9 .1 2.9 .2 2.8-1 2.9 .6 2.8-.6 2.9 0 2.8 0 2.9 .2-30.1-.1 3.2-.6 4.7-.3 3.8-.2 5 .2-11.3 .7 5.1-.6 4.5 .5 2.9-.4 3.7 1.3 4.2 1.9-16.8-.5 3.7 .8 4.1-1.1 3.9-.2 5.4-.2 3.1 1.6 4.8 2-23.8 .1 4.4-.3 3.7-.8 4.4-.3 4.4 1.6 4.7-1.3 2.9 .1 3.6 .5 4.4 0 3.6 1.3-32.1-.1 3.6 .9 3.8 .6 4.7-.4 3.2-.2 4.1 .4 4.2 .1 3.9 1.7-25-.2 4.1 .4 3.9 .3 4.7 .1 3.1-1.1 4.9 0 2.6 2.5-21.1 .4 3.8 .3 4.1-.8 2.8 1 5.2 .9-15.7 1.2 3.6-1 3.8-.1 4.4 .2 4.1 .1 3.9 2.8-19.3-.1 5-.6 3.3 .6 3.9-.2 3.9-.2 4.7-.3 3.4 2.7-29 1.3 4 .1 5.5-1.2 3.8 1.6 2.7-1 4.8-.5 4.1 1.2 3.8-19.2-43.4 .1 3.6 2.5 3.7 2.7 4.1 2.1 3.4 1.7 2.4 2-.2 2.9 1.2 1.8-2.1 2.4-2.2 1.1 4.3 .1 13 .1 3.6-1 1.3-.3 3 .5 4-.5 1.5-3.5-.2-1.3-2.9-1.9-3.7-.3-1.4-1.7 3.6-1.9 3.4-2.1 3.4-1.4 1.2-.8-3.5-.8-4 .2-2.6-.8-1.3-1.3-4.1 .3-3.4-.8-3.3 0-3.1-1.1-1.9 .7-22.4-.5 2.8 .5 2.8-.2 2.8 .1 2.8-.6 2.8 .5 2.7-.1 2.8 19.2 1.6 .5 2.6 .1 2.6-.1 2.7 .1 2.6 4.6-1.3 .4 4.8-1.2 4.1 .4 3.9 .4 3.5 1-9.9 .4 4.4-.7 3.9 .8 4.6 .3 4.4-1.9-20.6-.1-3.3 0-3 1.2 3.6 .2 2.1 1.2 4.2 .8 2.2 .5 3.2-.7 14.2 .5 .8-1.9-1.7-.5-2.6-1.2-3.6 .8-3.5 .2-3.5-.5-9.3-.2 3.7 .5 3.7 2.7 4.6 0 3-.3 3 0 3 .8 3-21.2 .8 3.8-6 8.3-36.2 6 9-19.6 21.1 48.7 4.1 1 2.5 1.5-4.9-1.3 3.8 .4 3.8-.4-10.5 1.3-.8 .2 13.2-2-.5 .1-11.4 .1 3-.4 3 0 3 .3 3 1.9-12 .7 3 0 3 0 3-.2 3 118.8-24.2 .5 1.4 .2 2.4 .8-4.9-1.4 13.3 1.1-6.3 .2-8.5-1.2 10.5 2.5 12.2 .2-4.5 .2-1.4-.1-4.9-.8-3.4 .4-.3 .2-9.4 1.1 2.4-2 15.4 2-1.8 .2-28.5 1.1 2.7 .4 23.8-1.1-26.8 .6-2.2 .4 24.6-.6-26.3 0 24.7 1.5-9.9 .7 15.8-1.2-37.9 .9 14.4-.3-8.9 .5 24.2-.6-25.6 .2 1.6 1.6-1-.7 33.6 .4-34.1 .3 8.9-1-17.5 .1 24.3 1-7.6 1 15.5 .7 8.3 .4-17.9-1.4-4 .6-3.8 0 11 .5 3.8-.5-2.7-.3-3.7 0 14.3 2.5-7.3-.8 11.4 .9 7.4-.4-17.6 1.4 2.8-.4-.5 .4-6.6-.1 12.2-.1-22.8 1.5 14.4-.9-.5 .6-9.8 .1 29.9 .1-10.8 1-9.5-1 13.9 .4-3.7-.9-1.9 1.9 9.1 1.4-6.8-.5-6.6-1 14.6 4.7-.3 .1 1.3 .1-11.9-1.2 12.3 .2-17.7 0 5.3-.6-8.3 1 4.8 0 9.7 1.6-14.7-.2-.1 .9 24.8-.1-10.4 .9-9.9-1.2 14.9-.3-6.3-.3 3.2 3.1 8.5-.3-7.6 .3-8.7-.2 3.7 .5 5.9 0-5.9 .8 14.3 1.8-9.6 .3-1.7-.2 8.8 1.9-2-.2 1 10.2-5.4-.1 3.2-.6-.9 .6 .2 1.7-.9 0-2.6-1.1-10.5 0 19.6 33.2-2.2 6 3.7 13.6-7.5-41.8 5.8 .2-1.4 17-4.6-1 2.6 .8-2.9-1.6-1.4 1.3-23.6 .9-3.1-1.9 17.6 1.3-13.6 2.2 18-.6-19.5 .8 17-.9-12.5-.2-14.6 .5-3.4 .2 28-.3-16.4-.5 5.1 .6 20.7-.2-4 2.5-17 .6 1.8 .4-4.1-.7-3.9 .1-.5-.3 2-.4 14.1-.5-20.6 .1 26.5 1.9-26.6 .6 3.5-.2 11.7 23.1 22.9-1.1-8.5 .7-10-.2 12.1 .8 6.9-.7-2.9-.7-17.1 2.7 9.4-.6-9.4 1.6 18-1.3-4.4 1.2 2.9-.3 2.8-1.4-15.8 .4-2-1.1 10.4-1.2-6.5-.3 10.4 .9-.5-.4-13.5-1-4.1 1.8 9.3 .2-5.6 1.2 5.3-.2-9.5 1.3 23.7-.9-18.2 .1 20.1 1.2-1.9-1.5-15.9 .8 8-.1 8.1-.6-12.3 17.6 .3 0 6.1 0 6 28.6-4.8 10.9 6.4-.2-1.4 3.2 1.1-1.4-.4 53.6-44.6-.8 23.4 0 6.1 69.4 3-4.5-27.9-65 5.2-1 1.8 2.5 .9-1-3.3 8.6-.9-1.2 34.8-.7-19.7 .4-15.6 .8 28.9-.4 .9 .8 5.2-1.8-30.7 1.6 27.5-1.2-37.8 .5 28.9 .2 6.5 .8-25.4 .2-2.9 .6 18.2 .3 9.1 .5-1.8-1-21 .5 23 0-13.4 1.2 4.1-.9 7.6 0 10.3 .1-.8 0-21 .1-23.1-1.3 .1 3.6 34.1-.2-.8 .3-13 0-13.6-.4 17.9-.3-16.1 .4-1.8 .3 32.7-.4-7.7-.8-19.8 .8 9.8-.9 9.5 2.4-11.7 1.5 1.9-.6 23.6 .4-15.4-.2-3 .4 8.3-1.1 7.1 1.4 .3 1.5-5.9 0 5-.8-3.8 .6-4.9 6.3 5.9-.1-20.3-.1 18.4-1.4-24.3 .5 12.6 .4 1.5 3.7-.6-2.7 3.5 1.2-12.6 1.6 5.9-1.4 16-1.4-2.2 .3 1.7 2.3-10.1-2.2-10.1-.5 11.6 3.9 3.3 1.4 4.9-1.8-14 .6 16.1 1.6 .7-1.7-5.9 .7-6.6 2.2-.8 .4 7.6-1.1 2.7 2.1-2.3-1.2-11.1-.1 2.4 .7 12-.7 3.5 2.7-29.4 .3-6.7-.9 9.6 .2-13 .6 8.2-.4 1.5 2.3-3.1-.5 6.4 .9-8-.2 4.4-1.3 3.9 .1-13.6 0 16.4 .7 4 2.4 3.1 0-16.1-.8 2.6 .3-6.6 .1 25.4-.3-12.7-.3 2 1.3 10.7 1.6-3 .2 5.6-.4-19.1 1.1 17.5 .4-9.1-.9-5.1 .9 3.9 21.6-4.2 .5 5.1-1.4-16 1.4-3.8-.6 40.6 .6-37-.7 14.1-.1-5.8 .3 22.5 .4-34.9 .5 25.9 .2-7.6-1.5-17.9 .3 15 1.3 11.6 0-17.6 1.3 24.6-1-1.6 .6-3.2-.5-7.6 .8-36.6-.5 53.7 1.4-17.8-1.7-36.7 .2 23.6 .6 13.6 .7-4.6-1.7-33.4 .4 36.3 .9 2.6 .6 13.4 .9-54.1-.3 11.3-.4-3.3 .3 30.9 .5 9.5-.1-24.5-.2 24.5 0 10.8 0-11.9 .5-27.2-.2 21.5 .7-18.2 1.4-2.1-1.1 27.7 .2-36.1-.3 21.2 1.1-7.1-.3-9.1" fill="none" stroke="none" marker-start="url(#mA)" marker-mid="url(#mA)" marker-end="url(#mA)"/>
<path d="M77.5 455.8l.8-11 .7-27.1 1.5 9.1 1.6 3.8 1.5 5.7 1.5 19.7" fill="none" stroke="#c8c8c8" stroke-width="1.0" stroke-linejoin="round" />
<path d="M86.6 454.9l1.5-19 1.5-12.6 1.5 13.2 .7 19.5" fill="none" stroke="#c8c8c8" stroke-width="1.0" stroke-linejoin="round" />
<path d="M113.7 456.2l.8-21.9 1.5 21.7" fill="none" stroke="#c8c8c8" stroke-width="1.0" stroke-linejoin="round" />
<path d="M117.5 456.2l.7-49.5 1.5 15 1.5-9 1.5-3.4 1.5-2.6 1.6 3.7 1.5-11.1 1-4.6 1-5.6 1-5.4 1-2.1 1-3.3 1-1.7 1-4.1 1-3.1 1-3.8 1 2.8 1 3 1 3 1.5 9.7 1.5 7 1.5 2.8 1.5 9.4 1.5 5.9 1.6 6 1.5 6.1 1.5-3.9 1.5-8.3 1.5-2.2 1.5 6.3 1.5 2 1.5 6.7 1.5 8.2 1.5-11.7 1.5 3 1.5 5.1 1.5 3.6 1.5 6.2 1.6-7.2 1.5-2.9 1.5 10.8 1.5 2.1 1.5-6.2 1.5 23.1" fill="none" stroke="#c8c8c8" stroke-width="1.0" stroke-linejoin="round" />
<path d="M178.0 455.7l1.5-37.2 1.5 6.2 1.5 5.4 1.5-8.6 1.5 15.3 1.6 19.2" fill="none" stroke="#c8c8c8" stroke-width="1.0" stroke-linejoin="round" />
<path d="M188.6 455.6l1.5-41 1.5 15.4 1.5 26" fill="none" stroke="#c8c8c8" stroke-width="1.0" stroke-linejoin="round" />
<path d="M197.6 456.5l1.5-45.2 1.5 25.8 1.5 18.9" fill="none" stroke="#c8c8c8" stroke-width="1.0" stroke-linejoin="round" />
<path d="M203.6 455.0l.8-19.6 .7 20.6" fill="none" stroke="#c8c8c8" stroke-width="1.0" stroke-linejoin="round" />
<path d="M224.0 455.8l.7-29.3 1.5-8.5 1.5 19.2 1.5-13.9 1.2-8.7 1.1-8.2 1.1-6.9 1.2-6.8" fill="none" stroke="#c8c8c8" stroke-width="1.0" stroke-linejoin="round" />
<path d="M253.4 456.0l1.5-18.9 1.1-3.8 1.1-4 1.5-12.8 1.5 7 1.5 32.5" fill="none" stroke="#c8c8c8" stroke-width="1.0" stroke-linejoin="round" />
<path d="M271.4 456.3l.8-31.4 .7 31.1" fill="none" stroke="#c8c8c8" stroke-width="1.0" stroke-linejoin="round" />
<path d="M319.9 456.5l1.5-31.3 1.5-10.1 1.2 .2 1.1 1.5 1.5 14 1.5 25.2" fill="none" stroke="#c8c8c8" stroke-width="1.0" stroke-linejoin="round" />
<path d="M334.2 456.0l1.6-41.2 1.1 4.6 1.1 5.2 1.1-6.7 1.2-5.7 1.5 16.8 1.5 27" fill="none" stroke="#c8c8c8" stroke-width="1.0" stroke-linejoin="round" />
<path d="M344.8 455.9l1.5-39.1 1.5 1 1.5 19 1.5-15.5 1.5-9.8 1.5-2.7 1.5 10.1 1.5 37.1" fill="none" stroke="#c8c8c8" stroke-width="1.0" stroke-linejoin="round" />
<path d="M357.6 456.5l1.5-34.9 1.1-1.7 1.2-3.2 1.5 19.1 1.5-14.5 1.5-2.5 1.5 11.8 1.5-6.6 1.5-6.1 1.5-.8 1.5-4.3 1.5-2.2 1.5 4.3 1.5 15.4 1.6-11.2 1.5-6.8 1.5 3.1 1.5-12 1.5 2.7 1.5 2.7 1.5 4.9 1.5-7.4" fill="none" stroke="#c8c8c8" stroke-width="1.0" stroke-linejoin="round" />
<path d="M385.0 406.9l1-1.9 1-1.2 1-.1 1.1 .6 1.2 1.3 1.1 9.3 1.1 9.5 1.5 31.6" fill="none" stroke="#c8c8c8" stroke-width="1.0" stroke-linejoin="round" />
<path d="M398.6 455.4l1.5-23.4 .7 24" fill="none" stroke="#c8c8c8" stroke-width="1.0" stroke-linejoin="round" />
<path d="M441.5 456.1l.8-58.9 1.5 58.8" fill="none" stroke="#c8c8c8" stroke-width="1.0" stroke-linejoin="round" />
<path d="M445.3 455.5l1.5-42.4 1.5 42.9" fill="none" stroke="#c8c8c8" stroke-width="1.0" stroke-linejoin="round" />
<path d="M455.8 456.2l1.5-31.6 1.5 31.4" fill="none" stroke="#c8c8c8" stroke-width="1.0" stroke-linejoin="round" />
<path d="M461.8 456.3l1.6-28.4 1.5-9.7 1.5 37.8" fill="none" stroke="#c8c8c8" stroke-width="1.0" stroke-linejoin="round" />
<path d="M467.9 455.9l1.5-41.2 1.1 11.2 1.1 10.5" fill="none" stroke="#c8c8c8" stroke-width="1.0" stroke-linejoin="round" />
<path d="M479.9 455.3l1.5-52.7 1-2.7 1-2 1.1-2.3 1-.9 1-3.2 1-2.1 1 .3 1 1.6 1 1.2 1 2.4 1 1.7 1 2.1" fill="none" stroke="#c8c8c8" stroke-width="1.0" stroke-linejoin="round" />
<path d="M490.0 402.9l1 .8 1-.3 1-.8 1-.1 1 1.2 1 1.2 1-.5 1-1.4 1-.1 1 1.6 1.1 1 1 .4 1 1.3 1-.2 1 1.2 1-.9 1-1.6 1-1 1-.5 1-1.1 1-1.5 1.1 1.8 1.2 2.8 1.5 12.1 1.5 10.2 1.5-5.1 1.1-2 1.1-2.9 1.5-2.9 1.6 40.4" fill="none" stroke="#c8c8c8" stroke-width="1.0" stroke-linejoin="round" />
<path d="M526.9 455.8l.8-28.9 .7 29.1" fill="none" stroke="#c8c8c8" stroke-width="1.0" stroke-linejoin="round" />
<path d="M530.7 456.1l.7-20.6 .8 20.5" fill="none" stroke="#c8c8c8" stroke-width="1.0" stroke-linejoin="round" />
<path d="M590.2 456.5l1.1-14.8 1.2-14.2 1.1 4 1.1 4.2 1.5 20.3" fill="none" stroke="#c8c8c8" stroke-width="1.0" stroke-linejoin="round" />
<path d="M597.7 456.5l.8-33.2 .7 32.7" fill="none" stroke="#c8c8c8" stroke-width="1.0" stroke-linejoin="round" />
<path d="M501.8 403.3l0 48.2" fill="none" stroke="#c8c8c8" stroke-width="1.0" stroke-linejoin="round" />
<path d="M670.1 451.5l1.5-30.2 1.5-13 1.5-9.2 1.5-1.7 1.5 9.1 1.5 5.9 1.5 1.7 1.5 10.2 1.5 18.1" fill="none" stroke="#c8c8c8" stroke-width="1.0" stroke-linejoin="round" />
<path d="M688.9 456.1l.7-40.8 .8 40.7" fill="none" stroke="#c8c8c8" stroke-width="1.0" stroke-linejoin="round" />
<path d="M694.2 456.5l.7-25.5 .8 25" fill="none" stroke="#c8c8c8" stroke-width="1.0" stroke-linejoin="round" />
<path d="M707.7 456.1l.8-32.5 .7 32.4" fill="none" stroke="#c8c8c8" stroke-width="1.0" stroke-linejoin="round" />
<path d="M718.3 456.1l.7-20.7 .8 20.6" fill="none" stroke="#c8c8c8" stroke-width="1.0" stroke-linejoin="round" />
<path d="M737.1 449.7l1.5-40.2 1.5 40.5" fill="none" stroke="#c8c8c8" stroke-width="1.0" stroke-linejoin="round" />
<path d="M765.7 456.1l.8-32.6 .7 32.5" fill="none" stroke="#c8c8c8" stroke-width="1.0" stroke-linejoin="round" />
<path d="M783.4 456.3l.4-28.7 .6 28.4" fill="none" stroke="#c8c8c8" stroke-width="1.0" stroke-linejoin="round" />
<path d="M790.1 455.4l.8-27 .7 27.6" fill="none" stroke="#c8c8c8" stroke-width="1.0" stroke-linejoin="round" />
<path d="M823.3 455.6l.7-25.7 .8 26.1" fill="none" stroke="#c8c8c8" stroke-width="1.0" stroke-linejoin="round" />
<path d="M850.4 456.0l.8-20.6 1 20.6" fill="none" stroke="#c8c8c8" stroke-width="1.0" stroke-linejoin="round" />
<path d="M766.0 456.5l.3-33.7 .5 33.2" fill="none" stroke="#c8c8c8" stroke-width="1.0" stroke-linejoin="round" />
<path d="M878.1 456.1l.3-56.2 .5 56.1" fill="none" stroke="#c8c8c8" stroke-width="1.0" stroke-linejoin="round" />
<path d="M887.9 455.4l.8-46.3 1.5 46.9" fill="none" stroke="#c8c8c8" stroke-width="1.0" stroke-linejoin="round" />
<path d="M911.3 450.8l.7-48.9 1.2 8.5 1.1 7.4 1.1 16.9 1.2 16.9" fill="none" stroke="#c8c8c8" stroke-width="1.0" stroke-linejoin="round" />
<path d="M940.7 456.5l1.5-64.8 1.5 64.3" fill="none" stroke="#c8c8c8" stroke-width="1.0" stroke-linejoin="round" />
<path d="M914.3 456.0l.8-25.6 .7 25.6" fill="none" stroke="#c8c8c8" stroke-width="1.0" stroke-linejoin="round" />
<path d="M114.1 560.5V567.4M115.0 519.1V567.4M115.9 539.8V567.4M116.4 547.0V567.4M117.2 554.2V567.4M117.7 554.2V567.4M118.2 554.2V567.4M119.0 554.2V567.4M119.5 525.4V567.4M120.0 557.8V567.4M121.3 560.5V567.4M122.2 560.5V567.4M123.1 532.6V567.4M124.0 547.0V567.4M124.9 560.5V567.4M125.8 560.5V567.4M126.7 560.5V567.4M127.6 560.5V567.4M129.4 560.5V567.4M131.2 560.5V567.4M132.1 560.5V567.4M133.0 560.5V567.4M134.8 554.2V567.4M135.7 525.4V567.4M136.6 511.9V567.4M137.5 560.5V567.4M267.1 560.5V567.4M273.4 560.5V567.4M277.9 560.5V567.4M278.8 560.5V567.4M279.7 560.5V567.4M285.1 553.3V567.4M286.0 560.5V567.4M286.9 560.5V567.4M287.8 560.5V567.4M288.7 560.5V567.4M289.6 560.5V567.4M290.5 546.1V567.4M291.4 553.3V567.4M292.3 560.5V567.4M295.9 560.5V567.4M296.8 560.5V567.4M313.0 560.5V567.4M321.6 553.3V567.4M322.4 532.6V567.4M334.6 560.5V567.4M336.4 553.3V567.4M337.3 560.5V567.4M338.2 560.5V567.4M339.1 560.5V567.4M340.0 560.5V567.4M340.9 560.5V567.4M341.8 560.5V567.4M349.0 504.7V567.4M350.1 484.0V567.4M350.8 560.5V567.4M351.7 560.5V567.4M352.6 560.5V567.4M353.5 560.5V567.4M360.7 560.5V567.4M419.2 560.5V567.4M422.8 560.5V567.4M423.3 553.3V567.4M421.0 561.0V567.4M423.0 554.0V567.4M439.0 561.0V567.4M440.0 533.0V567.4M441.0 561.0V567.4M442.0 561.0V567.4M447.0 561.0V567.4M457.0 554.0V567.4M458.0 561.0V567.4M461.0 561.0V567.4M463.0 561.0V567.4M466.0 561.0V567.4M467.0 561.0V567.4M468.0 561.0V567.4M470.0 561.0V567.4M471.0 561.0V567.4M475.0 561.0V567.4M476.0 554.0V567.4M477.0 554.0V567.4M478.0 554.0V567.4M479.0 561.0V567.4M484.0 561.0V567.4M486.0 554.0V567.4M487.0 561.0V567.4M511.0 561.0V567.4M526.0 561.0V567.4M534.0 561.0V567.4M535.0 561.0V567.4M604.0 561.0V567.4M605.0 561.0V567.4M606.0 561.0V567.4M607.0 561.0V567.4M608.0 561.0V567.4M852.5 546.5V567.4" stroke="#000" stroke-width="1.1" fill="none"/>
<defs><clipPath id="c6"><rect x="60" y="567.4" width="900" height="110.7"/></clipPath></defs><g clip-path="url(#c6)">
<path d="M91.6 632.6L149.1 644.8L180.7 642.6L193.7 638.0L208.5 641.3L267.1 643.4L280.6 641.3L296.3 642.6L311.7 642.6L371.2 637.2L385.7 647.6L402.5 624.1L416.1 624.1L459.1 634.3L473.6 634.3L488.1 638.6L503.4 624.1L518.5 629.9L561.2 631.4L576.5 629.9L591.9 629.9L609.9 637.2" fill="none" stroke="#ff3535" stroke-width="1" stroke-dasharray="2.6 2"/>
<path d="M91.6 632.6L149.1 644.8L180.7 642.6L193.7 638.0L208.5 641.3L267.1 643.4L280.6 641.3L296.3 642.6L311.7 642.6L371.2 637.2L385.7 647.6L402.5 624.1L416.1 624.1L459.1 634.3L473.6 634.3L488.1 638.6L503.4 624.1L518.5 629.9L561.2 631.4L576.5 629.9L591.9 629.9L609.9 637.2" fill="none" stroke="none" marker-start="url(#mS6)" marker-mid="url(#mS6)" marker-end="url(#mS6)"/>
<path d="M665.7 624.3L679.4 630.1L694.6 628.0L709.3 627.1L724.5 626.5L767.8 622.5L783.1 622.5L812.1 624.3L827.9 624.3L872.4 628.0L886.8 631.7L901.1 628.0L915.8 618.2L931.0 617.9" fill="none" stroke="#ff3535" stroke-width="1" stroke-dasharray="2.6 2"/>
<path d="M665.7 624.3L679.4 630.1L694.6 628.0L709.3 627.1L724.5 626.5L767.8 622.5L783.1 622.5L812.1 624.3L827.9 624.3L872.4 628.0L886.8 631.7L901.1 628.0L915.8 618.2L931.0 617.9" fill="none" stroke="none" marker-start="url(#mS6)" marker-mid="url(#mS6)" marker-end="url(#mS6)"/>
<path d="M91.6 629.9L149.1 622.9L180.7 619.1L193.7 620.2L208.5 620.2L267.1 589.1L280.6 590.5L296.3 590.5L311.7 590.5L371.2 588.8L385.7 587.3L402.5 613.4L416.1 613.4L459.1 616.9L473.6 615.7L488.1 623.6L503.4 625.6L518.5 637.2L561.2 638.9L576.5 638.9L591.9 638.9L609.9 638.9" fill="none" stroke="#3535ff" stroke-width="1" stroke-dasharray="3 2.2"/>
<path d="M91.6 629.9L149.1 622.9L180.7 619.1L193.7 620.2L208.5 620.2L267.1 589.1L280.6 590.5L296.3 590.5L311.7 590.5L371.2 588.8L385.7 587.3L402.5 613.4L416.1 613.4L459.1 616.9L473.6 615.7L488.1 623.6L503.4 625.6L518.5 637.2L561.2 638.9L576.5 638.9L591.9 638.9L609.9 638.9" fill="none" stroke="none" marker-start="url(#mC6)" marker-mid="url(#mC6)" marker-end="url(#mC6)"/>
<path d="M665.7 637.1L679.4 652.4L694.6 658.5L709.3 658.5L724.5 657.6L767.8 657.6L783.1 657.6L812.1 658.5L827.9 657.6L872.4 657.6L886.8 664.6L901.1 673.1L915.8 664.0L931.0 667.6" fill="none" stroke="#3535ff" stroke-width="1" stroke-dasharray="3 2.2"/>
<path d="M665.7 637.1L679.4 652.4L694.6 658.5L709.3 658.5L724.5 657.6L767.8 657.6L783.1 657.6L812.1 658.5L827.9 657.6L872.4 657.6L886.8 664.6L901.1 673.1L915.8 664.0L931.0 667.6" fill="none" stroke="none" marker-start="url(#mC6)" marker-mid="url(#mC6)" marker-end="url(#mC6)"/>
<path d="M91.6 644.5L149.1 681.5L180.7 656.1L193.7 670.4L208.5 654.8L267.1 598.9L280.6 604.8L296.3 602.9L311.7 602.9L371.2 603.3L385.7 614.3L402.5 619.2L416.1 616.9L459.1 623.0L473.6 621.5L488.1 643.0L503.4 644.7L518.5 652.6L561.2 650.2L576.5 647.6L591.9 648.8L609.9 651.1" fill="none" stroke="#229922" stroke-width="1" />
<path d="M91.6 644.5L149.1 681.5L180.7 656.1L193.7 670.4L208.5 654.8L267.1 598.9L280.6 604.8L296.3 602.9L311.7 602.9L371.2 603.3L385.7 614.3L402.5 619.2L416.1 616.9L459.1 623.0L473.6 621.5L488.1 643.0L503.4 644.7L518.5 652.6L561.2 650.2L576.5 647.6L591.9 648.8L609.9 651.1" fill="none" stroke="none" marker-start="url(#mT6)" marker-mid="url(#mT6)" marker-end="url(#mT6)"/>
<path d="M665.7 648.7L679.4 648.7L694.6 673.7L709.3 673.7L724.5 673.7L767.8 677.7L783.1 677.7L812.1 677.7L827.9 677.7L872.4 675.6L886.8 642.6L901.1 649.3L915.8 666.1L931.0 668.3" fill="none" stroke="#229922" stroke-width="1" />
<path d="M665.7 648.7L679.4 648.7L694.6 673.7L709.3 673.7L724.5 673.7L767.8 677.7L783.1 677.7L812.1 677.7L827.9 677.7L872.4 675.6L886.8 642.6L901.1 649.3L915.8 666.1L931.0 668.3" fill="none" stroke="none" marker-start="url(#mT6)" marker-mid="url(#mT6)" marker-end="url(#mT6)"/>
<path d="M91.6 659.3L149.1 655.6L180.7 658.0L193.7 651.5L208.5 650.2L267.1 655.6L280.6 658.3L296.3 656.9L311.7 655.6L371.2 655.5L385.7 658.4L402.5 633.7L416.1 633.7L459.1 637.2L473.6 638.1L488.1 643.0L503.4 644.4L518.5 650.5L561.2 643.9L576.5 643.0L591.9 641.0L609.9 638.9" fill="none" stroke="#303030" stroke-width="1" />
<path d="M91.6 659.3L149.1 655.6L180.7 658.0L193.7 651.5L208.5 650.2L267.1 655.6L280.6 658.3L296.3 656.9L311.7 655.6L371.2 655.5L385.7 658.4L402.5 633.7L416.1 633.7L459.1 637.2L473.6 638.1L488.1 643.0L503.4 644.4L518.5 650.5L561.2 643.9L576.5 643.0L591.9 641.0L609.9 638.9" fill="none" stroke="none" marker-start="url(#mA6)" marker-mid="url(#mA6)" marker-end="url(#mA6)"/>
<path d="M665.7 657.6L679.4 648.7L694.6 653.3L709.3 653.3L724.5 651.5L767.8 656.1L783.1 656.1L812.1 655.4L827.9 655.4L872.4 651.5L886.8 663.7L901.1 658.5L915.8 659.4L931.0 658.5" fill="none" stroke="#303030" stroke-width="1" />
<path d="M665.7 657.6L679.4 648.7L694.6 653.3L709.3 653.3L724.5 651.5L767.8 656.1L783.1 656.1L812.1 655.4L827.9 655.4L872.4 651.5L886.8 663.7L901.1 658.5L915.8 659.4L931.0 658.5" fill="none" stroke="none" marker-start="url(#mA6)" marker-mid="url(#mA6)" marker-end="url(#mA6)"/>
</g>
<rect x="70.20" y="15.40" width="545.70" height="110.40" fill="none" stroke="#000" stroke-width="1.60"/>
<rect x="70.20" y="125.80" width="545.70" height="110.40" fill="none" stroke="#000" stroke-width="1.60"/>
<rect x="70.20" y="236.20" width="545.70" height="110.40" fill="none" stroke="#000" stroke-width="1.60"/>
<rect x="70.20" y="346.60" width="545.70" height="110.40" fill="none" stroke="#000" stroke-width="1.60"/>
<rect x="70.20" y="457.00" width="545.70" height="110.40" fill="none" stroke="#000" stroke-width="1.60"/>
<rect x="70.20" y="567.40" width="545.70" height="110.40" fill="none" stroke="#000" stroke-width="1.60"/>
<rect x="660.20" y="15.40" width="295.00" height="110.40" fill="none" stroke="#000" stroke-width="1.60"/>
<rect x="660.20" y="125.80" width="295.00" height="110.40" fill="none" stroke="#000" stroke-width="1.60"/>
<rect x="660.20" y="236.20" width="295.00" height="110.40" fill="none" stroke="#000" stroke-width="1.60"/>
<rect x="660.20" y="346.60" width="295.00" height="110.40" fill="none" stroke="#000" stroke-width="1.60"/>
<rect x="660.20" y="457.00" width="295.00" height="110.40" fill="none" stroke="#000" stroke-width="1.60"/>
<rect x="660.20" y="567.40" width="295.00" height="110.40" fill="none" stroke="#000" stroke-width="1.60"/>
<path d="M70.20 125.80H65.70M70.20 114.76H67.60M70.20 103.72H65.70M70.20 92.68H67.60M70.20 81.64H65.70M70.20 70.60H67.60M70.20 59.56H65.70M70.20 48.52H67.60M70.20 37.48H65.70M70.20 26.44H67.60M70.20 15.40H65.70M70.20 236.20H65.70M70.20 223.92H67.60M70.20 211.64H65.70M70.20 199.35H67.60M70.20 187.07H65.70M70.20 174.79H67.60M70.20 162.51H65.70M70.20 150.23H67.60M70.20 137.95H65.70M70.20 346.60H65.70M70.20 342.45H67.60M70.20 340.02H67.60M70.20 338.29H67.60M70.20 336.95H67.60M70.20 335.86H67.60M70.20 334.94H67.60M70.20 334.14H67.60M70.20 333.43H67.60M70.20 332.80H65.70M70.20 328.65H67.60M70.20 326.22H67.60M70.20 324.49H67.60M70.20 323.15H67.60M70.20 322.06H67.60M70.20 321.14H67.60M70.20 320.34H67.60M70.20 319.63H67.60M70.20 319.00H65.70M70.20 314.85H67.60M70.20 312.42H67.60M70.20 310.69H67.60M70.20 309.35H67.60M70.20 308.26H67.60M70.20 307.34H67.60M70.20 306.54H67.60M70.20 305.83H67.60M70.20 305.20H65.70M70.20 301.05H67.60M70.20 298.62H67.60M70.20 296.89H67.60M70.20 295.55H67.60M70.20 294.46H67.60M70.20 293.54H67.60M70.20 292.74H67.60M70.20 292.03H67.60M70.20 291.40H65.70M70.20 287.25H67.60M70.20 284.82H67.60M70.20 283.09H67.60M70.20 281.75H67.60M70.20 280.66H67.60M70.20 279.74H67.60M70.20 278.94H67.60M70.20 278.23H67.60M70.20 277.60H65.70M70.20 273.45H67.60M70.20 271.02H67.60M70.20 269.29H67.60M70.20 267.95H67.60M70.20 266.86H67.60M70.20 265.94H67.60M70.20 265.14H67.60M70.20 264.43H67.60M70.20 263.80H65.70M70.20 259.65H67.60M70.20 257.22H67.60M70.20 255.49H67.60M70.20 254.15H67.60M70.20 253.06H67.60M70.20 252.14H67.60M70.20 251.34H67.60M70.20 250.63H67.60M70.20 250.00H65.70M70.20 245.85H67.60M70.20 243.42H67.60M70.20 241.69H67.60M70.20 240.35H67.60M70.20 239.26H67.60M70.20 238.34H67.60M70.20 237.54H67.60M70.20 236.83H67.60M70.20 457.00H65.70M70.20 448.69H67.60M70.20 443.83H67.60M70.20 440.38H67.60M70.20 437.71H67.60M70.20 435.52H67.60M70.20 433.68H67.60M70.20 432.07H67.60M70.20 430.66H67.60M70.20 429.40H65.70M70.20 421.09H67.60M70.20 416.23H67.60M70.20 412.78H67.60M70.20 410.11H67.60M70.20 407.92H67.60M70.20 406.08H67.60M70.20 404.47H67.60M70.20 403.06H67.60M70.20 401.80H65.70M70.20 393.49H67.60M70.20 388.63H67.60M70.20 385.18H67.60M70.20 382.51H67.60M70.20 380.32H67.60M70.20 378.48H67.60M70.20 376.87H67.60M70.20 375.46H67.60M70.20 374.20H65.70M70.20 365.89H67.60M70.20 361.03H67.60M70.20 357.58H67.60M70.20 354.91H67.60M70.20 352.72H67.60M70.20 350.88H67.60M70.20 349.27H67.60M70.20 347.86H67.60M70.20 567.40H65.70M70.20 553.60H67.60M70.20 539.80H65.70M70.20 526.00H67.60M70.20 512.20H65.70M70.20 498.40H67.60M70.20 484.60H65.70M70.20 470.80H67.60M70.20 457.00H65.70M70.20 677.80H65.70M70.20 666.76H67.60M70.20 655.72H65.70M70.20 644.68H67.60M70.20 633.64H65.70M70.20 622.60H67.60M70.20 611.56H65.70M70.20 600.52H67.60M70.20 589.48H65.70M70.20 578.44H67.60M70.20 567.40H65.70" stroke="#000" stroke-width="1.2" fill="none"/>
<text transform="translate(64.7 130.4) scale(1 1.055)" font-size="16" text-anchor="end">0</text>
<text transform="translate(64.7 108.3) scale(1 1.055)" font-size="16" text-anchor="end">5</text>
<text transform="translate(64.7 86.2) scale(1 1.055)" font-size="16" text-anchor="end">10</text>
<text transform="translate(64.7 64.1) scale(1 1.055)" font-size="16" text-anchor="end">15</text>
<text transform="translate(64.7 42.0) scale(1 1.055)" font-size="16" text-anchor="end">20</text>
<text transform="translate(64.7 20.0) scale(1 1.055)" font-size="16" text-anchor="end">25</text>
<text transform="translate(64.7 240.8) scale(1 1.055)" font-size="16" text-anchor="end">0</text>
<text transform="translate(64.7 216.2) scale(1 1.055)" font-size="16" text-anchor="end">90</text>
<text transform="translate(64.7 191.6) scale(1 1.055)" font-size="16" text-anchor="end">180</text>
<text transform="translate(64.7 167.1) scale(1 1.055)" font-size="16" text-anchor="end">270</text>
<text transform="translate(64.7 142.5) scale(1 1.055)" font-size="16" text-anchor="end">360</text>
<text transform="translate(64.6 352.1) scale(1 1.055)" font-size="16" text-anchor="end">10<tspan font-size="10.2" dy="-8.6">0</tspan></text>
<text transform="translate(64.6 324.5) scale(1 1.055)" font-size="16" text-anchor="end">10<tspan font-size="10.2" dy="-8.6">2</tspan></text>
<text transform="translate(64.6 296.9) scale(1 1.055)" font-size="16" text-anchor="end">10<tspan font-size="10.2" dy="-8.6">4</tspan></text>
<text transform="translate(64.6 269.3) scale(1 1.055)" font-size="16" text-anchor="end">10<tspan font-size="10.2" dy="-8.6">6</tspan></text>
<text transform="translate(64.6 462.5) scale(1 1.055)" font-size="16" text-anchor="end">10<tspan font-size="10.2" dy="-8.6">-4</tspan></text>
<text transform="translate(64.6 434.9) scale(1 1.055)" font-size="16" text-anchor="end">10<tspan font-size="10.2" dy="-8.6">-3</tspan></text>
<text transform="translate(64.6 407.3) scale(1 1.055)" font-size="16" text-anchor="end">10<tspan font-size="10.2" dy="-8.6">-2</tspan></text>
<text transform="translate(64.6 379.7) scale(1 1.055)" font-size="16" text-anchor="end">10<tspan font-size="10.2" dy="-8.6">-1</tspan></text>
<text transform="translate(64.7 571.9) scale(1 1.055)" font-size="16" text-anchor="end">0</text>
<text transform="translate(64.7 544.3) scale(1 1.055)" font-size="16" text-anchor="end">2</text>
<text transform="translate(64.7 516.8) scale(1 1.055)" font-size="16" text-anchor="end">4</text>
<text transform="translate(64.7 489.2) scale(1 1.055)" font-size="16" text-anchor="end">6</text>
<text transform="translate(64.7 682.4) scale(1 1.055)" font-size="16" text-anchor="end">0</text>
<text transform="translate(64.7 660.3) scale(1 1.055)" font-size="16" text-anchor="end">20</text>
<text transform="translate(64.7 638.2) scale(1 1.055)" font-size="16" text-anchor="end">40</text>
<text transform="translate(64.7 616.1) scale(1 1.055)" font-size="16" text-anchor="end">60</text>
<text transform="translate(64.7 594.0) scale(1 1.055)" font-size="16" text-anchor="end">80</text>
<path d="M660.20 125.80H655.70M660.20 114.76H657.60M660.20 103.72H655.70M660.20 92.68H657.60M660.20 81.64H655.70M660.20 70.60H657.60M660.20 59.56H655.70M660.20 48.52H657.60M660.20 37.48H655.70M660.20 26.44H657.60M660.20 15.40H655.70M660.20 236.20H655.70M660.20 223.92H657.60M660.20 211.64H655.70M660.20 199.35H657.60M660.20 187.07H655.70M660.20 174.79H657.60M660.20 162.51H655.70M660.20 150.23H657.60M660.20 137.95H655.70M660.20 346.60H655.70M660.20 342.45H657.60M660.20 340.02H657.60M660.20 338.29H657.60M660.20 336.95H657.60M660.20 335.86H657.60M660.20 334.94H657.60M660.20 334.14H657.60M660.20 333.43H657.60M660.20 332.80H655.70M660.20 328.65H657.60M660.20 326.22H657.60M660.20 324.49H657.60M660.20 323.15H657.60M660.20 322.06H657.60M660.20 321.14H657.60M660.20 320.34H657.60M660.20 319.63H657.60M660.20 319.00H655.70M660.20 314.85H657.60M660.20 312.42H657.60M660.20 310.69H657.60M660.20 309.35H657.60M660.20 308.26H657.60M660.20 307.34H657.60M660.20 306.54H657.60M660.20 305.83H657.60M660.20 305.20H655.70M660.20 301.05H657.60M660.20 298.62H657.60M660.20 296.89H657.60M660.20 295.55H657.60M660.20 294.46H657.60M660.20 293.54H657.60M660.20 292.74H657.60M660.20 292.03H657.60M660.20 291.40H655.70M660.20 287.25H657.60M660.20 284.82H657.60M660.20 283.09H657.60M660.20 281.75H657.60M660.20 280.66H657.60M660.20 279.74H657.60M660.20 278.94H657.60M660.20 278.23H657.60M660.20 277.60H655.70M660.20 273.45H657.60M660.20 271.02H657.60M660.20 269.29H657.60M660.20 267.95H657.60M660.20 266.86H657.60M660.20 265.94H657.60M660.20 265.14H657.60M660.20 264.43H657.60M660.20 263.80H655.70M660.20 259.65H657.60M660.20 257.22H657.60M660.20 255.49H657.60M660.20 254.15H657.60M660.20 253.06H657.60M660.20 252.14H657.60M660.20 251.34H657.60M660.20 250.63H657.60M660.20 250.00H655.70M660.20 245.85H657.60M660.20 243.42H657.60M660.20 241.69H657.60M660.20 240.35H657.60M660.20 239.26H657.60M660.20 238.34H657.60M660.20 237.54H657.60M660.20 236.83H657.60M660.20 457.00H655.70M660.20 448.69H657.60M660.20 443.83H657.60M660.20 440.38H657.60M660.20 437.71H657.60M660.20 435.52H657.60M660.20 433.68H657.60M660.20 432.07H657.60M660.20 430.66H657.60M660.20 429.40H655.70M660.20 421.09H657.60M660.20 416.23H657.60M660.20 412.78H657.60M660.20 410.11H657.60M660.20 407.92H657.60M660.20 406.08H657.60M660.20 404.47H657.60M660.20 403.06H657.60M660.20 401.80H655.70M660.20 393.49H657.60M660.20 388.63H657.60M660.20 385.18H657.60M660.20 382.51H657.60M660.20 380.32H657.60M660.20 378.48H657.60M660.20 376.87H657.60M660.20 375.46H657.60M660.20 374.20H655.70M660.20 365.89H657.60M660.20 361.03H657.60M660.20 357.58H657.60M660.20 354.91H657.60M660.20 352.72H657.60M660.20 350.88H657.60M660.20 349.27H657.60M660.20 347.86H657.60M660.20 567.40H655.70M660.20 553.60H657.60M660.20 539.80H655.70M660.20 526.00H657.60M660.20 512.20H655.70M660.20 498.40H657.60M660.20 484.60H655.70M660.20 470.80H657.60M660.20 457.00H655.70M660.20 677.80H655.70M660.20 666.76H657.60M660.20 655.72H655.70M660.20 644.68H657.60M660.20 633.64H655.70M660.20 622.60H657.60M660.20 611.56H655.70M660.20 600.52H657.60M660.20 589.48H655.70M660.20 578.44H657.60M660.20 567.40H655.70" stroke="#000" stroke-width="1.2" fill="none"/>
<text transform="translate(654.7 130.4) scale(1 1.055)" font-size="16" text-anchor="end">0</text>
<text transform="translate(654.7 108.3) scale(1 1.055)" font-size="16" text-anchor="end">5</text>
<text transform="translate(654.7 86.2) scale(1 1.055)" font-size="16" text-anchor="end">10</text>
<text transform="translate(654.7 64.1) scale(1 1.055)" font-size="16" text-anchor="end">15</text>
<text transform="translate(654.7 42.0) scale(1 1.055)" font-size="16" text-anchor="end">20</text>
<text transform="translate(654.7 20.0) scale(1 1.055)" font-size="16" text-anchor="end">25</text>
<text transform="translate(654.7 240.8) scale(1 1.055)" font-size="16" text-anchor="end">0</text>
<text transform="translate(654.7 216.2) scale(1 1.055)" font-size="16" text-anchor="end">90</text>
<text transform="translate(654.7 191.6) scale(1 1.055)" font-size="16" text-anchor="end">180</text>
<text transform="translate(654.7 167.1) scale(1 1.055)" font-size="16" text-anchor="end">270</text>
<text transform="translate(654.7 142.5) scale(1 1.055)" font-size="16" text-anchor="end">360</text>
<text transform="translate(654.6 352.1) scale(1 1.055)" font-size="16" text-anchor="end">10<tspan font-size="10.2" dy="-8.6">0</tspan></text>
<text transform="translate(654.6 324.5) scale(1 1.055)" font-size="16" text-anchor="end">10<tspan font-size="10.2" dy="-8.6">2</tspan></text>
<text transform="translate(654.6 296.9) scale(1 1.055)" font-size="16" text-anchor="end">10<tspan font-size="10.2" dy="-8.6">4</tspan></text>
<text transform="translate(654.6 269.3) scale(1 1.055)" font-size="16" text-anchor="end">10<tspan font-size="10.2" dy="-8.6">6</tspan></text>
<text transform="translate(654.6 462.5) scale(1 1.055)" font-size="16" text-anchor="end">10<tspan font-size="10.2" dy="-8.6">-4</tspan></text>
<text transform="translate(654.6 434.9) scale(1 1.055)" font-size="16" text-anchor="end">10<tspan font-size="10.2" dy="-8.6">-3</tspan></text>
<text transform="translate(654.6 407.3) scale(1 1.055)" font-size="16" text-anchor="end">10<tspan font-size="10.2" dy="-8.6">-2</tspan></text>
<text transform="translate(654.6 379.7) scale(1 1.055)" font-size="16" text-anchor="end">10<tspan font-size="10.2" dy="-8.6">-1</tspan></text>
<text transform="translate(654.7 571.9) scale(1 1.055)" font-size="16" text-anchor="end">0</text>
<text transform="translate(654.7 544.3) scale(1 1.055)" font-size="16" text-anchor="end">2</text>
<text transform="translate(654.7 516.8) scale(1 1.055)" font-size="16" text-anchor="end">4</text>
<text transform="translate(654.7 489.2) scale(1 1.055)" font-size="16" text-anchor="end">6</text>
<text transform="translate(654.7 682.4) scale(1 1.055)" font-size="16" text-anchor="end">0</text>
<text transform="translate(654.7 660.3) scale(1 1.055)" font-size="16" text-anchor="end">20</text>
<text transform="translate(654.7 638.2) scale(1 1.055)" font-size="16" text-anchor="end">40</text>
<text transform="translate(654.7 616.1) scale(1 1.055)" font-size="16" text-anchor="end">60</text>
<text transform="translate(654.7 594.0) scale(1 1.055)" font-size="16" text-anchor="end">80</text>
<path d="M70.20 125.80V132.30M99.62 125.80V129.60M129.04 125.80V129.60M158.46 125.80V129.60M187.88 125.80V129.60M217.30 125.80V132.30M246.72 125.80V129.60M276.14 125.80V129.60M305.56 125.80V129.60M334.98 125.80V129.60M364.40 125.80V132.30M393.82 125.80V129.60M423.24 125.80V129.60M452.66 125.80V129.60M482.08 125.80V129.60M511.50 125.80V132.30M540.92 125.80V129.60M570.34 125.80V129.60M599.76 125.80V129.60M70.20 236.20V242.70M99.62 236.20V240.00M129.04 236.20V240.00M158.46 236.20V240.00M187.88 236.20V240.00M217.30 236.20V242.70M246.72 236.20V240.00M276.14 236.20V240.00M305.56 236.20V240.00M334.98 236.20V240.00M364.40 236.20V242.70M393.82 236.20V240.00M423.24 236.20V240.00M452.66 236.20V240.00M482.08 236.20V240.00M511.50 236.20V242.70M540.92 236.20V240.00M570.34 236.20V240.00M599.76 236.20V240.00M70.20 346.60V353.10M99.62 346.60V350.40M129.04 346.60V350.40M158.46 346.60V350.40M187.88 346.60V350.40M217.30 346.60V353.10M246.72 346.60V350.40M276.14 346.60V350.40M305.56 346.60V350.40M334.98 346.60V350.40M364.40 346.60V353.10M393.82 346.60V350.40M423.24 346.60V350.40M452.66 346.60V350.40M482.08 346.60V350.40M511.50 346.60V353.10M540.92 346.60V350.40M570.34 346.60V350.40M599.76 346.60V350.40M70.20 457.00V463.50M99.62 457.00V460.80M129.04 457.00V460.80M158.46 457.00V460.80M187.88 457.00V460.80M217.30 457.00V463.50M246.72 457.00V460.80M276.14 457.00V460.80M305.56 457.00V460.80M334.98 457.00V460.80M364.40 457.00V463.50M393.82 457.00V460.80M423.24 457.00V460.80M452.66 457.00V460.80M482.08 457.00V460.80M511.50 457.00V463.50M540.92 457.00V460.80M570.34 457.00V460.80M599.76 457.00V460.80M70.20 567.40V573.90M99.62 567.40V571.20M129.04 567.40V571.20M158.46 567.40V571.20M187.88 567.40V571.20M217.30 567.40V573.90M246.72 567.40V571.20M276.14 567.40V571.20M305.56 567.40V571.20M334.98 567.40V571.20M364.40 567.40V573.90M393.82 567.40V571.20M423.24 567.40V571.20M452.66 567.40V571.20M482.08 567.40V571.20M511.50 567.40V573.90M540.92 567.40V571.20M570.34 567.40V571.20M599.76 567.40V571.20M70.20 677.80V684.30M99.62 677.80V681.60M129.04 677.80V681.60M158.46 677.80V681.60M187.88 677.80V681.60M217.30 677.80V684.30M246.72 677.80V681.60M276.14 677.80V681.60M305.56 677.80V681.60M334.98 677.80V681.60M364.40 677.80V684.30M393.82 677.80V681.60M423.24 677.80V681.60M452.66 677.80V681.60M482.08 677.80V681.60M511.50 677.80V684.30M540.92 677.80V681.60M570.34 677.80V681.60M599.76 677.80V681.60" stroke="#000" stroke-width="1.3" fill="none"/>
<text x="70.2" y="701.3" font-size="16" text-anchor="middle" >2005/09/21</text>
<text x="217.3" y="701.3" font-size="16" text-anchor="middle" >2005/10/01</text>
<text x="364.4" y="701.3" font-size="16" text-anchor="middle" >2005/10/11</text>
<text x="511.5" y="701.3" font-size="16" text-anchor="middle" >2005/10/21</text>
<path d="M660.20 125.80V132.30M689.70 125.80V129.60M719.20 125.80V129.60M748.70 125.80V129.60M778.20 125.80V129.60M807.70 125.80V132.30M837.20 125.80V129.60M866.70 125.80V129.60M896.20 125.80V129.60M925.70 125.80V129.60M955.20 125.80V132.30M660.20 236.20V242.70M689.70 236.20V240.00M719.20 236.20V240.00M748.70 236.20V240.00M778.20 236.20V240.00M807.70 236.20V242.70M837.20 236.20V240.00M866.70 236.20V240.00M896.20 236.20V240.00M925.70 236.20V240.00M955.20 236.20V242.70M660.20 346.60V353.10M689.70 346.60V350.40M719.20 346.60V350.40M748.70 346.60V350.40M778.20 346.60V350.40M807.70 346.60V353.10M837.20 346.60V350.40M866.70 346.60V350.40M896.20 346.60V350.40M925.70 346.60V350.40M955.20 346.60V353.10M660.20 457.00V463.50M689.70 457.00V460.80M719.20 457.00V460.80M748.70 457.00V460.80M778.20 457.00V460.80M807.70 457.00V463.50M837.20 457.00V460.80M866.70 457.00V460.80M896.20 457.00V460.80M925.70 457.00V460.80M955.20 457.00V463.50M660.20 567.40V573.90M689.70 567.40V571.20M719.20 567.40V571.20M748.70 567.40V571.20M778.20 567.40V571.20M807.70 567.40V573.90M837.20 567.40V571.20M866.70 567.40V571.20M896.20 567.40V571.20M925.70 567.40V571.20M955.20 567.40V573.90M660.20 677.80V684.30M689.70 677.80V681.60M719.20 677.80V681.60M748.70 677.80V681.60M778.20 677.80V681.60M807.70 677.80V684.30M837.20 677.80V681.60M866.70 677.80V681.60M896.20 677.80V681.60M925.70 677.80V681.60M955.20 677.80V684.30" stroke="#000" stroke-width="1.3" fill="none"/>
<text x="660.2" y="701.3" font-size="16" text-anchor="middle" >2005/11/14</text>
<text x="807.7" y="701.3" font-size="16" text-anchor="middle" >2005/11/24</text>
<text x="955.2" y="701.3" font-size="16" text-anchor="middle" >2005/12/04</text>
<text x="529.0" y="733.0" font-size="17.5" text-anchor="middle" >Time [year/month/day]</text>
<path d="M766.00 252.70H780.80M773.40 245.30V260.10M768.17 247.47L778.63 257.93M768.17 257.93L778.63 247.47" stroke="#000" stroke-width="1.05" fill="none"/>
<circle cx="773.40" cy="252.70" r="1.3" fill="#000"/>
<text x="791.4" y="258.2" font-size="14.6" text-anchor="start" >N</text>
<circle cx="820.2" cy="253" r="6.2" fill="none" stroke="#1a1aff" stroke-width="1.2"/>
<text x="837.6" y="258.2" font-size="14.6" text-anchor="start" >E</text>
<path d="M865.75 244.3L873.4 257.2H858.1Z" fill="none" stroke="#119911" stroke-width="1.2" stroke-linejoin="miter"/>
<text x="883.4" y="258.2" font-size="14.6" text-anchor="start" >S</text>
<rect x="905.8" y="246.8" width="11.5" height="11.3" fill="none" stroke="#ff1a1a" stroke-width="1.2"/>
<text x="929.8" y="258.2" font-size="14.6" text-anchor="start" >W</text>
<path d="M816.70 364.10H831.50M824.10 356.70V371.50M818.87 358.87L829.33 369.33M818.87 369.33L829.33 358.87" stroke="#000" stroke-width="1.05" fill="none"/>
<circle cx="824.10" cy="364.10" r="1.3" fill="#000"/>
<text x="846.1" y="369.7" font-size="15">Q<tspan font-size="10.3" dy="6.2">max</tspan></text>
<path d="M884.7 364.2H920.2" stroke="#c8c8c8" stroke-width="1"/>
<text x="924.4" y="369.7" font-size="15">Q<tspan font-size="10.3" dy="6.2">o</tspan></text>
<path d="M725.2 584.9H760.4" stroke="#000" stroke-width="1"/>
<path d="M736.00 584.90H750.20M743.10 577.80V592.00M738.08 579.88L748.12 589.92M738.08 589.92L748.12 579.88" stroke="#000" stroke-width="1.0" fill="none"/>
<circle cx="743.10" cy="584.90" r="1.3" fill="#000"/>
<text x="765.0" y="590.4" font-size="14.6" text-anchor="start" >N</text>
<path d="M780.6 584.9H814" stroke="#1a1aff" stroke-width="1" stroke-dasharray="3 2.2"/>
<circle cx="798.4" cy="584.9" r="5.9" fill="#fff" stroke="#1a1aff" stroke-width="1.1"/>
<text x="821.4" y="590.4" font-size="14.6" text-anchor="start" >E</text>
<path d="M835.6 584.9H870.4" stroke="#119911" stroke-width="1"/>
<path d="M852.9 576.8L860.3 589.4H845.5Z" fill="none" stroke="#119911" stroke-width="1.2"/>
<text x="875.0" y="590.4" font-size="14.6" text-anchor="start" >S</text>
<path d="M889.7 584.9H923.3" stroke="#ff3535" stroke-width="1" stroke-dasharray="2.6 2"/>
<rect x="901.6" y="579.4" width="11.6" height="11.2" fill="#fff" stroke="#ff1a1a" stroke-width="1.1"/>
<text x="929.9" y="590.4" font-size="14.6" text-anchor="start" >W</text>
<text transform="translate(23.3 57.8) rotate(-90)" font-size="17.5" text-anchor="middle">u<tspan font-size="11.5" dy="7">mean</tspan><tspan dy="-7"> [m s</tspan><tspan font-size="10.5" dy="-9.6">-1</tspan><tspan dy="9.6">]</tspan></text>
<text transform="translate(23.3 169.0) rotate(-90)" font-size="17.5" text-anchor="middle">θ<tspan font-size="11.5" dy="7">mean</tspan><tspan dy="-7"> [deg]</tspan></text>
<text transform="translate(23.3 289.8) rotate(-90)" font-size="17.5" text-anchor="middle">n<tspan font-size="11.5" dy="7">mean</tspan><tspan dy="-7"> [cnts s</tspan><tspan font-size="10.5" dy="-9.6">-1</tspan><tspan dy="9.6">]</tspan></text>
<text transform="translate(23.3 410.1) rotate(-90)" font-size="17.5" text-anchor="middle">Q [kg m<tspan font-size="10.5" dy="-9.6">-1</tspan><tspan dy="9.6"> s</tspan><tspan font-size="10.5" dy="-9.6">-1</tspan><tspan dy="9.6">]</tspan></text>
<text transform="translate(20.6 520.2) rotate(-90)" font-size="17.5" text-anchor="middle" letter-spacing="0.55">Pr [mm]</text>
<text transform="translate(20.6 611.2) rotate(-90)" font-size="17.5" text-anchor="middle" letter-spacing="0.55">z<tspan font-size="11.5" dy="7">s</tspan><tspan dy="-7"> [mm]</tspan></text>
</svg></body></html>
